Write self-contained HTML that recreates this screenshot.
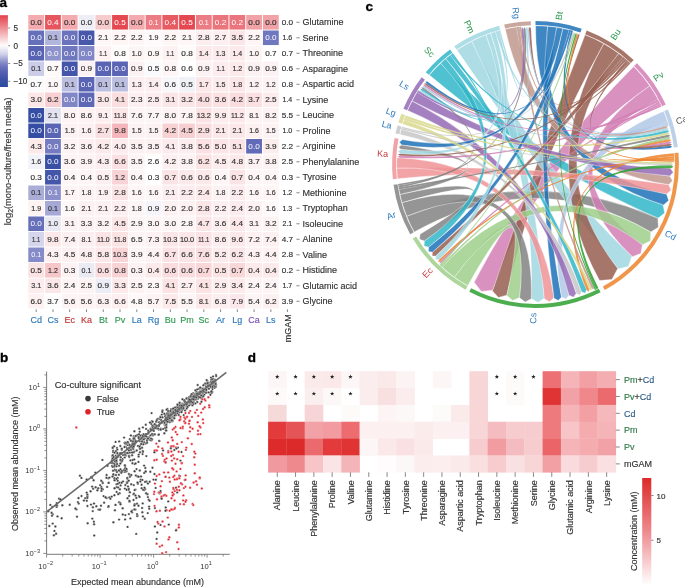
<!DOCTYPE html>
<html><head><meta charset="utf-8"><style>
html,body{margin:0;padding:0;background:#fff;width:685px;height:588px;overflow:hidden}
svg{display:block;will-change:transform}
text{font-family:"Liberation Sans", sans-serif}
</style></head><body>
<svg width="685" height="588" viewBox="0 0 685 588" font-family='"Liberation Sans", sans-serif'><text x="-0.50" y="7.20" font-size="13.5" fill="#000" font-weight="bold" stroke="#000" stroke-width="0.35">a</text>
<g>
<rect x="28.30" y="15.00" width="15.81" height="14.55" fill="#f3abaf"/>
<text x="36.20" y="24.77" font-size="7.3" fill="#333333" text-anchor="middle" stroke="#333333" stroke-width="0.16" textLength="11.40" lengthAdjust="spacingAndGlyphs">0.0</text>
<rect x="45.06" y="15.00" width="15.81" height="14.55" fill="#e6565f"/>
<text x="52.97" y="24.77" font-size="7.3" fill="#ffffff" text-anchor="middle" textLength="11.40" lengthAdjust="spacingAndGlyphs">0.4</text>
<rect x="61.82" y="15.00" width="15.81" height="14.55" fill="#f3abaf"/>
<text x="69.73" y="24.77" font-size="7.3" fill="#333333" text-anchor="middle" stroke="#333333" stroke-width="0.16" textLength="11.40" lengthAdjust="spacingAndGlyphs">0.0</text>
<rect x="78.58" y="15.00" width="15.81" height="14.55" fill="#eeeef7"/>
<text x="86.48" y="24.77" font-size="7.3" fill="#333333" text-anchor="middle" stroke="#333333" stroke-width="0.16" textLength="11.40" lengthAdjust="spacingAndGlyphs">0.0</text>
<rect x="95.34" y="15.00" width="15.81" height="14.55" fill="#f7cacc"/>
<text x="103.25" y="24.77" font-size="7.3" fill="#333333" text-anchor="middle" stroke="#333333" stroke-width="0.16" textLength="11.40" lengthAdjust="spacingAndGlyphs">0.0</text>
<rect x="112.10" y="15.00" width="15.81" height="14.55" fill="#e44952"/>
<text x="120.01" y="24.77" font-size="7.3" fill="#ffffff" text-anchor="middle" textLength="11.40" lengthAdjust="spacingAndGlyphs">0.5</text>
<rect x="128.86" y="15.00" width="15.81" height="14.55" fill="#f3abaf"/>
<text x="136.77" y="24.77" font-size="7.3" fill="#333333" text-anchor="middle" stroke="#333333" stroke-width="0.16" textLength="11.40" lengthAdjust="spacingAndGlyphs">0.0</text>
<rect x="145.62" y="15.00" width="15.81" height="14.55" fill="#ec7c83"/>
<text x="153.53" y="24.77" font-size="7.3" fill="#ffffff" text-anchor="middle" textLength="9.80" lengthAdjust="spacingAndGlyphs">0.1</text>
<rect x="162.38" y="15.00" width="15.81" height="14.55" fill="#e75b63"/>
<text x="170.29" y="24.77" font-size="7.3" fill="#ffffff" text-anchor="middle" textLength="11.40" lengthAdjust="spacingAndGlyphs">0.4</text>
<rect x="179.14" y="15.00" width="15.81" height="14.55" fill="#e44952"/>
<text x="187.05" y="24.77" font-size="7.3" fill="#ffffff" text-anchor="middle" textLength="11.40" lengthAdjust="spacingAndGlyphs">0.5</text>
<rect x="195.90" y="15.00" width="15.81" height="14.55" fill="#ec7c83"/>
<text x="203.81" y="24.77" font-size="7.3" fill="#ffffff" text-anchor="middle" textLength="9.80" lengthAdjust="spacingAndGlyphs">0.1</text>
<rect x="212.66" y="15.00" width="15.81" height="14.55" fill="#eb757d"/>
<text x="220.57" y="24.77" font-size="7.3" fill="#ffffff" text-anchor="middle" textLength="11.40" lengthAdjust="spacingAndGlyphs">0.2</text>
<rect x="229.42" y="15.00" width="15.81" height="14.55" fill="#eb757d"/>
<text x="237.33" y="24.77" font-size="7.3" fill="#ffffff" text-anchor="middle" textLength="11.40" lengthAdjust="spacingAndGlyphs">0.2</text>
<rect x="246.18" y="15.00" width="15.81" height="14.55" fill="#f1a2a7"/>
<text x="254.09" y="24.77" font-size="7.3" fill="#333333" text-anchor="middle" stroke="#333333" stroke-width="0.16" textLength="11.40" lengthAdjust="spacingAndGlyphs">0.0</text>
<rect x="262.94" y="15.00" width="15.81" height="14.55" fill="#f1a2a7"/>
<text x="270.85" y="24.77" font-size="7.3" fill="#333333" text-anchor="middle" stroke="#333333" stroke-width="0.16" textLength="11.40" lengthAdjust="spacingAndGlyphs">0.0</text>
<text x="287.40" y="24.77" font-size="7.3" fill="#333" text-anchor="middle" stroke="#333" stroke-width="0.16" textLength="11.40" lengthAdjust="spacingAndGlyphs">0.0</text>
<line x1="296.4" y1="22.27" x2="299.6" y2="22.27" stroke="#555" stroke-width="0.7"/>
<text x="302.60" y="25.47" font-size="9" fill="#333" stroke="#333" stroke-width="0.16">Glutamine</text>
<rect x="28.30" y="30.50" width="15.81" height="14.55" fill="#666fba"/>
<text x="36.20" y="40.27" font-size="7.3" fill="#ffffff" text-anchor="middle" textLength="11.40" lengthAdjust="spacingAndGlyphs">0.0</text>
<rect x="45.06" y="30.50" width="15.81" height="14.55" fill="#b3b6dc"/>
<text x="52.97" y="40.27" font-size="7.3" fill="#333333" text-anchor="middle" stroke="#333333" stroke-width="0.16" textLength="9.80" lengthAdjust="spacingAndGlyphs">0.1</text>
<rect x="61.82" y="30.50" width="15.81" height="14.55" fill="#6c73bd"/>
<text x="69.73" y="40.27" font-size="7.3" fill="#ffffff" text-anchor="middle" textLength="11.40" lengthAdjust="spacingAndGlyphs">0.0</text>
<rect x="78.58" y="30.50" width="15.81" height="14.55" fill="#4758ab"/>
<text x="86.48" y="40.27" font-size="7.3" fill="#ffffff" text-anchor="middle" textLength="11.40" lengthAdjust="spacingAndGlyphs">0.0</text>
<rect x="95.34" y="30.50" width="15.81" height="14.55" fill="#fef6f7"/>
<text x="103.25" y="40.27" font-size="7.3" fill="#333333" text-anchor="middle" stroke="#333333" stroke-width="0.16" textLength="9.80" lengthAdjust="spacingAndGlyphs">2.1</text>
<rect x="112.10" y="30.50" width="15.81" height="14.55" fill="#fef5f5"/>
<text x="120.01" y="40.27" font-size="7.3" fill="#333333" text-anchor="middle" stroke="#333333" stroke-width="0.16" textLength="11.40" lengthAdjust="spacingAndGlyphs">2.2</text>
<rect x="128.86" y="30.50" width="15.81" height="14.55" fill="#fef5f5"/>
<text x="136.77" y="40.27" font-size="7.3" fill="#333333" text-anchor="middle" stroke="#333333" stroke-width="0.16" textLength="11.40" lengthAdjust="spacingAndGlyphs">2.2</text>
<rect x="145.62" y="30.50" width="15.81" height="14.55" fill="#fef9fa"/>
<text x="153.53" y="40.27" font-size="7.3" fill="#333333" text-anchor="middle" stroke="#333333" stroke-width="0.16" textLength="9.80" lengthAdjust="spacingAndGlyphs">1.9</text>
<rect x="162.38" y="30.50" width="15.81" height="14.55" fill="#fef5f5"/>
<text x="170.29" y="40.27" font-size="7.3" fill="#333333" text-anchor="middle" stroke="#333333" stroke-width="0.16" textLength="11.40" lengthAdjust="spacingAndGlyphs">2.2</text>
<rect x="179.14" y="30.50" width="15.81" height="14.55" fill="#fef6f7"/>
<text x="187.05" y="40.27" font-size="7.3" fill="#333333" text-anchor="middle" stroke="#333333" stroke-width="0.16" textLength="9.80" lengthAdjust="spacingAndGlyphs">2.1</text>
<rect x="195.90" y="30.50" width="15.81" height="14.55" fill="#fcedee"/>
<text x="203.81" y="40.27" font-size="7.3" fill="#333333" text-anchor="middle" stroke="#333333" stroke-width="0.16" textLength="11.40" lengthAdjust="spacingAndGlyphs">2.8</text>
<rect x="212.66" y="30.50" width="15.81" height="14.55" fill="#fdeeef"/>
<text x="220.57" y="40.27" font-size="7.3" fill="#333333" text-anchor="middle" stroke="#333333" stroke-width="0.16" textLength="11.40" lengthAdjust="spacingAndGlyphs">2.7</text>
<rect x="229.42" y="30.50" width="15.81" height="14.55" fill="#fbe6e7"/>
<text x="237.33" y="40.27" font-size="7.3" fill="#333333" text-anchor="middle" stroke="#333333" stroke-width="0.16" textLength="11.40" lengthAdjust="spacingAndGlyphs">3.5</text>
<rect x="246.18" y="30.50" width="15.81" height="14.55" fill="#fef5f5"/>
<text x="254.09" y="40.27" font-size="7.3" fill="#333333" text-anchor="middle" stroke="#333333" stroke-width="0.16" textLength="11.40" lengthAdjust="spacingAndGlyphs">2.2</text>
<rect x="262.94" y="30.50" width="15.81" height="14.55" fill="#6f77bf"/>
<text x="270.85" y="40.27" font-size="7.3" fill="#ffffff" text-anchor="middle" textLength="11.40" lengthAdjust="spacingAndGlyphs">0.0</text>
<text x="287.40" y="40.27" font-size="7.3" fill="#333" text-anchor="middle" stroke="#333" stroke-width="0.16" textLength="9.80" lengthAdjust="spacingAndGlyphs">1.6</text>
<line x1="296.4" y1="37.77" x2="299.6" y2="37.77" stroke="#555" stroke-width="0.7"/>
<text x="302.60" y="40.98" font-size="9" fill="#333" stroke="#333" stroke-width="0.16">Serine</text>
<rect x="28.30" y="46.00" width="15.81" height="14.55" fill="#5762b3"/>
<text x="36.20" y="55.77" font-size="7.3" fill="#ffffff" text-anchor="middle" textLength="11.40" lengthAdjust="spacingAndGlyphs">0.0</text>
<rect x="45.06" y="46.00" width="15.81" height="14.55" fill="#8e93cb"/>
<text x="52.97" y="55.77" font-size="7.3" fill="#ffffff" text-anchor="middle" textLength="11.40" lengthAdjust="spacingAndGlyphs">0.0</text>
<rect x="61.82" y="46.00" width="15.81" height="14.55" fill="#6f77bf"/>
<text x="69.73" y="55.77" font-size="7.3" fill="#ffffff" text-anchor="middle" textLength="11.40" lengthAdjust="spacingAndGlyphs">0.0</text>
<rect x="78.58" y="46.00" width="15.81" height="14.55" fill="#8086c6"/>
<text x="86.48" y="55.77" font-size="7.3" fill="#ffffff" text-anchor="middle" textLength="11.40" lengthAdjust="spacingAndGlyphs">0.0</text>
<rect x="95.34" y="46.00" width="15.81" height="14.55" fill="#fdf1f1"/>
<text x="103.25" y="55.77" font-size="7.3" fill="#333333" text-anchor="middle" stroke="#333333" stroke-width="0.16" textLength="8.20" lengthAdjust="spacingAndGlyphs">1.1</text>
<rect x="112.10" y="46.00" width="15.81" height="14.55" fill="#fefbfb"/>
<text x="120.01" y="55.77" font-size="7.3" fill="#333333" text-anchor="middle" stroke="#333333" stroke-width="0.16" textLength="11.40" lengthAdjust="spacingAndGlyphs">0.8</text>
<rect x="128.86" y="46.00" width="15.81" height="14.55" fill="#fdf4f4"/>
<text x="136.77" y="55.77" font-size="7.3" fill="#333333" text-anchor="middle" stroke="#333333" stroke-width="0.16" textLength="9.80" lengthAdjust="spacingAndGlyphs">1.0</text>
<rect x="145.62" y="46.00" width="15.81" height="14.55" fill="#fef7f7"/>
<text x="153.53" y="55.77" font-size="7.3" fill="#333333" text-anchor="middle" stroke="#333333" stroke-width="0.16" textLength="11.40" lengthAdjust="spacingAndGlyphs">0.9</text>
<rect x="162.38" y="46.00" width="15.81" height="14.55" fill="#fdf1f1"/>
<text x="170.29" y="55.77" font-size="7.3" fill="#333333" text-anchor="middle" stroke="#333333" stroke-width="0.16" textLength="8.20" lengthAdjust="spacingAndGlyphs">1.1</text>
<rect x="179.14" y="46.00" width="15.81" height="14.55" fill="#fefbfb"/>
<text x="187.05" y="55.77" font-size="7.3" fill="#333333" text-anchor="middle" stroke="#333333" stroke-width="0.16" textLength="11.40" lengthAdjust="spacingAndGlyphs">0.8</text>
<rect x="195.90" y="46.00" width="15.81" height="14.55" fill="#fce9ea"/>
<text x="203.81" y="55.77" font-size="7.3" fill="#333333" text-anchor="middle" stroke="#333333" stroke-width="0.16" textLength="9.80" lengthAdjust="spacingAndGlyphs">1.4</text>
<rect x="212.66" y="46.00" width="15.81" height="14.55" fill="#fcebec"/>
<text x="220.57" y="55.77" font-size="7.3" fill="#333333" text-anchor="middle" stroke="#333333" stroke-width="0.16" textLength="9.80" lengthAdjust="spacingAndGlyphs">1.3</text>
<rect x="229.42" y="46.00" width="15.81" height="14.55" fill="#fce9ea"/>
<text x="237.33" y="55.77" font-size="7.3" fill="#333333" text-anchor="middle" stroke="#333333" stroke-width="0.16" textLength="9.80" lengthAdjust="spacingAndGlyphs">1.4</text>
<rect x="246.18" y="46.00" width="15.81" height="14.55" fill="#fdf4f4"/>
<text x="254.09" y="55.77" font-size="7.3" fill="#333333" text-anchor="middle" stroke="#333333" stroke-width="0.16" textLength="9.80" lengthAdjust="spacingAndGlyphs">1.0</text>
<rect x="262.94" y="46.00" width="15.81" height="14.55" fill="#ffffff"/>
<text x="270.85" y="55.77" font-size="7.3" fill="#333333" text-anchor="middle" stroke="#333333" stroke-width="0.16" textLength="11.40" lengthAdjust="spacingAndGlyphs">0.7</text>
<text x="287.40" y="55.77" font-size="7.3" fill="#333" text-anchor="middle" stroke="#333" stroke-width="0.16" textLength="11.40" lengthAdjust="spacingAndGlyphs">0.7</text>
<line x1="296.4" y1="53.27" x2="299.6" y2="53.27" stroke="#555" stroke-width="0.7"/>
<text x="302.60" y="56.48" font-size="9" fill="#333" stroke="#333" stroke-width="0.16">Threonine</text>
<rect x="28.30" y="61.50" width="15.81" height="14.55" fill="#cbcce7"/>
<text x="36.20" y="71.28" font-size="7.3" fill="#333333" text-anchor="middle" stroke="#333333" stroke-width="0.16" textLength="9.80" lengthAdjust="spacingAndGlyphs">0.1</text>
<rect x="45.06" y="61.50" width="15.81" height="14.55" fill="#fefafa"/>
<text x="52.97" y="71.28" font-size="7.3" fill="#333333" text-anchor="middle" stroke="#333333" stroke-width="0.16" textLength="11.40" lengthAdjust="spacingAndGlyphs">0.7</text>
<rect x="61.82" y="61.50" width="15.81" height="14.55" fill="#4456a9"/>
<text x="69.73" y="71.28" font-size="7.3" fill="#ffffff" text-anchor="middle" textLength="11.40" lengthAdjust="spacingAndGlyphs">0.0</text>
<rect x="78.58" y="61.50" width="15.81" height="14.55" fill="#fdf2f3"/>
<text x="86.48" y="71.28" font-size="7.3" fill="#333333" text-anchor="middle" stroke="#333333" stroke-width="0.16" textLength="11.40" lengthAdjust="spacingAndGlyphs">0.9</text>
<rect x="95.34" y="61.50" width="15.81" height="14.55" fill="#5a64b4"/>
<text x="103.25" y="71.28" font-size="7.3" fill="#ffffff" text-anchor="middle" textLength="11.40" lengthAdjust="spacingAndGlyphs">0.0</text>
<rect x="112.10" y="61.50" width="15.81" height="14.55" fill="#5a64b4"/>
<text x="120.01" y="71.28" font-size="7.3" fill="#ffffff" text-anchor="middle" textLength="11.40" lengthAdjust="spacingAndGlyphs">0.0</text>
<rect x="128.86" y="61.50" width="15.81" height="14.55" fill="#fdf2f3"/>
<text x="136.77" y="71.28" font-size="7.3" fill="#333333" text-anchor="middle" stroke="#333333" stroke-width="0.16" textLength="11.40" lengthAdjust="spacingAndGlyphs">0.9</text>
<rect x="145.62" y="61.50" width="15.81" height="14.55" fill="#fafafc"/>
<text x="153.53" y="71.28" font-size="7.3" fill="#333333" text-anchor="middle" stroke="#333333" stroke-width="0.16" textLength="11.40" lengthAdjust="spacingAndGlyphs">0.5</text>
<rect x="162.38" y="61.50" width="15.81" height="14.55" fill="#fef6f6"/>
<text x="170.29" y="71.28" font-size="7.3" fill="#333333" text-anchor="middle" stroke="#333333" stroke-width="0.16" textLength="11.40" lengthAdjust="spacingAndGlyphs">0.8</text>
<rect x="179.14" y="61.50" width="15.81" height="14.55" fill="#ffffff"/>
<text x="187.05" y="71.28" font-size="7.3" fill="#333333" text-anchor="middle" stroke="#333333" stroke-width="0.16" textLength="11.40" lengthAdjust="spacingAndGlyphs">0.6</text>
<rect x="195.90" y="61.50" width="15.81" height="14.55" fill="#fdf2f3"/>
<text x="203.81" y="71.28" font-size="7.3" fill="#333333" text-anchor="middle" stroke="#333333" stroke-width="0.16" textLength="11.40" lengthAdjust="spacingAndGlyphs">0.9</text>
<rect x="212.66" y="61.50" width="15.81" height="14.55" fill="#fceced"/>
<text x="220.57" y="71.28" font-size="7.3" fill="#333333" text-anchor="middle" stroke="#333333" stroke-width="0.16" textLength="8.20" lengthAdjust="spacingAndGlyphs">1.1</text>
<rect x="229.42" y="61.50" width="15.81" height="14.55" fill="#fce9ea"/>
<text x="237.33" y="71.28" font-size="7.3" fill="#333333" text-anchor="middle" stroke="#333333" stroke-width="0.16" textLength="9.80" lengthAdjust="spacingAndGlyphs">1.2</text>
<rect x="246.18" y="61.50" width="15.81" height="14.55" fill="#fdf2f3"/>
<text x="254.09" y="71.28" font-size="7.3" fill="#333333" text-anchor="middle" stroke="#333333" stroke-width="0.16" textLength="11.40" lengthAdjust="spacingAndGlyphs">0.9</text>
<rect x="262.94" y="61.50" width="15.81" height="14.55" fill="#fdf2f3"/>
<text x="270.85" y="71.28" font-size="7.3" fill="#333333" text-anchor="middle" stroke="#333333" stroke-width="0.16" textLength="11.40" lengthAdjust="spacingAndGlyphs">0.9</text>
<text x="287.40" y="71.28" font-size="7.3" fill="#333" text-anchor="middle" stroke="#333" stroke-width="0.16" textLength="11.40" lengthAdjust="spacingAndGlyphs">0.6</text>
<line x1="296.4" y1="68.78" x2="299.6" y2="68.78" stroke="#555" stroke-width="0.7"/>
<text x="302.60" y="71.98" font-size="9" fill="#333" stroke="#333" stroke-width="0.16">Asparagine</text>
<rect x="28.30" y="77.00" width="15.81" height="14.55" fill="#fbfbfd"/>
<text x="36.20" y="86.78" font-size="7.3" fill="#333333" text-anchor="middle" stroke="#333333" stroke-width="0.16" textLength="11.40" lengthAdjust="spacingAndGlyphs">0.7</text>
<rect x="45.06" y="77.00" width="15.81" height="14.55" fill="#fef8f8"/>
<text x="52.97" y="86.78" font-size="7.3" fill="#333333" text-anchor="middle" stroke="#333333" stroke-width="0.16" textLength="9.80" lengthAdjust="spacingAndGlyphs">1.0</text>
<rect x="61.82" y="77.00" width="15.81" height="14.55" fill="#bdbfe1"/>
<text x="69.73" y="86.78" font-size="7.3" fill="#333333" text-anchor="middle" stroke="#333333" stroke-width="0.16" textLength="9.80" lengthAdjust="spacingAndGlyphs">0.1</text>
<rect x="78.58" y="77.00" width="15.81" height="14.55" fill="#5a64b4"/>
<text x="86.48" y="86.78" font-size="7.3" fill="#ffffff" text-anchor="middle" textLength="11.40" lengthAdjust="spacingAndGlyphs">0.0</text>
<rect x="95.34" y="77.00" width="15.81" height="14.55" fill="#bdbfe1"/>
<text x="103.25" y="86.78" font-size="7.3" fill="#333333" text-anchor="middle" stroke="#333333" stroke-width="0.16" textLength="9.80" lengthAdjust="spacingAndGlyphs">0.1</text>
<rect x="112.10" y="77.00" width="15.81" height="14.55" fill="#bdbfe1"/>
<text x="120.01" y="86.78" font-size="7.3" fill="#333333" text-anchor="middle" stroke="#333333" stroke-width="0.16" textLength="9.80" lengthAdjust="spacingAndGlyphs">0.1</text>
<rect x="128.86" y="77.00" width="15.81" height="14.55" fill="#fdeff0"/>
<text x="136.77" y="86.78" font-size="7.3" fill="#333333" text-anchor="middle" stroke="#333333" stroke-width="0.16" textLength="9.80" lengthAdjust="spacingAndGlyphs">1.3</text>
<rect x="145.62" y="77.00" width="15.81" height="14.55" fill="#fcedee"/>
<text x="153.53" y="86.78" font-size="7.3" fill="#333333" text-anchor="middle" stroke="#333333" stroke-width="0.16" textLength="9.80" lengthAdjust="spacingAndGlyphs">1.4</text>
<rect x="162.38" y="77.00" width="15.81" height="14.55" fill="#f6f6fb"/>
<text x="170.29" y="86.78" font-size="7.3" fill="#333333" text-anchor="middle" stroke="#333333" stroke-width="0.16" textLength="11.40" lengthAdjust="spacingAndGlyphs">0.6</text>
<rect x="179.14" y="77.00" width="15.81" height="14.55" fill="#f1f1f8"/>
<text x="187.05" y="86.78" font-size="7.3" fill="#333333" text-anchor="middle" stroke="#333333" stroke-width="0.16" textLength="11.40" lengthAdjust="spacingAndGlyphs">0.5</text>
<rect x="195.90" y="77.00" width="15.81" height="14.55" fill="#fbe7e8"/>
<text x="203.81" y="86.78" font-size="7.3" fill="#333333" text-anchor="middle" stroke="#333333" stroke-width="0.16" textLength="9.80" lengthAdjust="spacingAndGlyphs">1.7</text>
<rect x="212.66" y="77.00" width="15.81" height="14.55" fill="#fcebec"/>
<text x="220.57" y="86.78" font-size="7.3" fill="#333333" text-anchor="middle" stroke="#333333" stroke-width="0.16" textLength="9.80" lengthAdjust="spacingAndGlyphs">1.5</text>
<rect x="229.42" y="77.00" width="15.81" height="14.55" fill="#fbe5e6"/>
<text x="237.33" y="86.78" font-size="7.3" fill="#333333" text-anchor="middle" stroke="#333333" stroke-width="0.16" textLength="9.80" lengthAdjust="spacingAndGlyphs">1.8</text>
<rect x="246.18" y="77.00" width="15.81" height="14.55" fill="#fdf2f3"/>
<text x="254.09" y="86.78" font-size="7.3" fill="#333333" text-anchor="middle" stroke="#333333" stroke-width="0.16" textLength="9.80" lengthAdjust="spacingAndGlyphs">1.2</text>
<rect x="262.94" y="77.00" width="15.81" height="14.55" fill="#fdf2f3"/>
<text x="270.85" y="86.78" font-size="7.3" fill="#333333" text-anchor="middle" stroke="#333333" stroke-width="0.16" textLength="9.80" lengthAdjust="spacingAndGlyphs">1.2</text>
<text x="287.40" y="86.78" font-size="7.3" fill="#333" text-anchor="middle" stroke="#333" stroke-width="0.16" textLength="11.40" lengthAdjust="spacingAndGlyphs">0.8</text>
<line x1="296.4" y1="84.28" x2="299.6" y2="84.28" stroke="#555" stroke-width="0.7"/>
<text x="302.60" y="87.48" font-size="9" fill="#333" stroke="#333" stroke-width="0.16">Aspartic acid</text>
<rect x="28.30" y="92.50" width="15.81" height="14.55" fill="#fbe7e8"/>
<text x="36.20" y="102.28" font-size="7.3" fill="#333333" text-anchor="middle" stroke="#333333" stroke-width="0.16" textLength="11.40" lengthAdjust="spacingAndGlyphs">3.0</text>
<rect x="45.06" y="92.50" width="15.81" height="14.55" fill="#f8cfd2"/>
<text x="52.97" y="102.28" font-size="7.3" fill="#333333" text-anchor="middle" stroke="#333333" stroke-width="0.16" textLength="11.40" lengthAdjust="spacingAndGlyphs">6.2</text>
<rect x="61.82" y="92.50" width="15.81" height="14.55" fill="#8086c6"/>
<text x="69.73" y="102.28" font-size="7.3" fill="#ffffff" text-anchor="middle" textLength="11.40" lengthAdjust="spacingAndGlyphs">0.0</text>
<rect x="78.58" y="92.50" width="15.81" height="14.55" fill="#5d67b5"/>
<text x="86.48" y="102.28" font-size="7.3" fill="#ffffff" text-anchor="middle" textLength="11.40" lengthAdjust="spacingAndGlyphs">0.0</text>
<rect x="95.34" y="92.50" width="15.81" height="14.55" fill="#fbe7e8"/>
<text x="103.25" y="102.28" font-size="7.3" fill="#333333" text-anchor="middle" stroke="#333333" stroke-width="0.16" textLength="11.40" lengthAdjust="spacingAndGlyphs">3.0</text>
<rect x="112.10" y="92.50" width="15.81" height="14.55" fill="#faddde"/>
<text x="120.01" y="102.28" font-size="7.3" fill="#333333" text-anchor="middle" stroke="#333333" stroke-width="0.16" textLength="9.80" lengthAdjust="spacingAndGlyphs">4.1</text>
<rect x="128.86" y="92.50" width="15.81" height="14.55" fill="#fdeff0"/>
<text x="136.77" y="102.28" font-size="7.3" fill="#333333" text-anchor="middle" stroke="#333333" stroke-width="0.16" textLength="11.40" lengthAdjust="spacingAndGlyphs">2.3</text>
<rect x="145.62" y="92.50" width="15.81" height="14.55" fill="#fceced"/>
<text x="153.53" y="102.28" font-size="7.3" fill="#333333" text-anchor="middle" stroke="#333333" stroke-width="0.16" textLength="11.40" lengthAdjust="spacingAndGlyphs">2.5</text>
<rect x="162.38" y="92.50" width="15.81" height="14.55" fill="#fbe6e7"/>
<text x="170.29" y="102.28" font-size="7.3" fill="#333333" text-anchor="middle" stroke="#333333" stroke-width="0.16" textLength="9.80" lengthAdjust="spacingAndGlyphs">3.1</text>
<rect x="179.14" y="92.50" width="15.81" height="14.55" fill="#fbe5e6"/>
<text x="187.05" y="102.28" font-size="7.3" fill="#333333" text-anchor="middle" stroke="#333333" stroke-width="0.16" textLength="11.40" lengthAdjust="spacingAndGlyphs">3.2</text>
<rect x="195.90" y="92.50" width="15.81" height="14.55" fill="#fadddf"/>
<text x="203.81" y="102.28" font-size="7.3" fill="#333333" text-anchor="middle" stroke="#333333" stroke-width="0.16" textLength="11.40" lengthAdjust="spacingAndGlyphs">4.0</text>
<rect x="212.66" y="92.50" width="15.81" height="14.55" fill="#fbe1e2"/>
<text x="220.57" y="102.28" font-size="7.3" fill="#333333" text-anchor="middle" stroke="#333333" stroke-width="0.16" textLength="11.40" lengthAdjust="spacingAndGlyphs">3.6</text>
<rect x="229.42" y="92.50" width="15.81" height="14.55" fill="#fadcde"/>
<text x="237.33" y="102.28" font-size="7.3" fill="#333333" text-anchor="middle" stroke="#333333" stroke-width="0.16" textLength="11.40" lengthAdjust="spacingAndGlyphs">4.2</text>
<rect x="246.18" y="92.50" width="15.81" height="14.55" fill="#fae0e1"/>
<text x="254.09" y="102.28" font-size="7.3" fill="#333333" text-anchor="middle" stroke="#333333" stroke-width="0.16" textLength="11.40" lengthAdjust="spacingAndGlyphs">3.7</text>
<rect x="262.94" y="92.50" width="15.81" height="14.55" fill="#fceced"/>
<text x="270.85" y="102.28" font-size="7.3" fill="#333333" text-anchor="middle" stroke="#333333" stroke-width="0.16" textLength="11.40" lengthAdjust="spacingAndGlyphs">2.5</text>
<text x="287.40" y="102.28" font-size="7.3" fill="#333" text-anchor="middle" stroke="#333" stroke-width="0.16" textLength="9.80" lengthAdjust="spacingAndGlyphs">1.4</text>
<line x1="296.4" y1="99.78" x2="299.6" y2="99.78" stroke="#555" stroke-width="0.7"/>
<text x="302.60" y="102.98" font-size="9" fill="#333" stroke="#333" stroke-width="0.16">Lysine</text>
<rect x="28.30" y="108.00" width="15.81" height="14.55" fill="#354ea3"/>
<text x="36.20" y="117.78" font-size="7.3" fill="#ffffff" text-anchor="middle" textLength="11.40" lengthAdjust="spacingAndGlyphs">0.0</text>
<rect x="45.06" y="108.00" width="15.81" height="14.55" fill="#e2e2f1"/>
<text x="52.97" y="117.78" font-size="7.3" fill="#333333" text-anchor="middle" stroke="#333333" stroke-width="0.16" textLength="9.80" lengthAdjust="spacingAndGlyphs">2.1</text>
<rect x="61.82" y="108.00" width="15.81" height="14.55" fill="#fdf3f4"/>
<text x="69.73" y="117.78" font-size="7.3" fill="#333333" text-anchor="middle" stroke="#333333" stroke-width="0.16" textLength="11.40" lengthAdjust="spacingAndGlyphs">8.0</text>
<rect x="78.58" y="108.00" width="15.81" height="14.55" fill="#fdf1f1"/>
<text x="86.48" y="117.78" font-size="7.3" fill="#333333" text-anchor="middle" stroke="#333333" stroke-width="0.16" textLength="11.40" lengthAdjust="spacingAndGlyphs">8.6</text>
<rect x="95.34" y="108.00" width="15.81" height="14.55" fill="#fdeff0"/>
<text x="103.25" y="117.78" font-size="7.3" fill="#333333" text-anchor="middle" stroke="#333333" stroke-width="0.16" textLength="9.80" lengthAdjust="spacingAndGlyphs">9.1</text>
<rect x="112.10" y="108.00" width="15.81" height="14.55" fill="#fbe7e8"/>
<text x="120.01" y="117.78" font-size="7.3" fill="#333333" text-anchor="middle" stroke="#333333" stroke-width="0.16" textLength="12.70" lengthAdjust="spacingAndGlyphs">11.8</text>
<rect x="128.86" y="108.00" width="15.81" height="14.55" fill="#fdf5f5"/>
<text x="136.77" y="117.78" font-size="7.3" fill="#333333" text-anchor="middle" stroke="#333333" stroke-width="0.16" textLength="11.40" lengthAdjust="spacingAndGlyphs">7.6</text>
<rect x="145.62" y="108.00" width="15.81" height="14.55" fill="#fdf4f5"/>
<text x="153.53" y="117.78" font-size="7.3" fill="#333333" text-anchor="middle" stroke="#333333" stroke-width="0.16" textLength="11.40" lengthAdjust="spacingAndGlyphs">7.7</text>
<rect x="162.38" y="108.00" width="15.81" height="14.55" fill="#fdf3f4"/>
<text x="170.29" y="117.78" font-size="7.3" fill="#333333" text-anchor="middle" stroke="#333333" stroke-width="0.16" textLength="11.40" lengthAdjust="spacingAndGlyphs">8.0</text>
<rect x="179.14" y="108.00" width="15.81" height="14.55" fill="#fdf4f4"/>
<text x="187.05" y="117.78" font-size="7.3" fill="#333333" text-anchor="middle" stroke="#333333" stroke-width="0.16" textLength="11.40" lengthAdjust="spacingAndGlyphs">7.8</text>
<rect x="195.90" y="108.00" width="15.81" height="14.55" fill="#fbe3e4"/>
<text x="203.81" y="117.78" font-size="7.3" fill="#333333" text-anchor="middle" stroke="#333333" stroke-width="0.16" textLength="14.30" lengthAdjust="spacingAndGlyphs">13.2</text>
<rect x="212.66" y="108.00" width="15.81" height="14.55" fill="#fceced"/>
<text x="220.57" y="117.78" font-size="7.3" fill="#333333" text-anchor="middle" stroke="#333333" stroke-width="0.16" textLength="11.40" lengthAdjust="spacingAndGlyphs">9.9</text>
<rect x="229.42" y="108.00" width="15.81" height="14.55" fill="#fce8e9"/>
<text x="237.33" y="117.78" font-size="7.3" fill="#333333" text-anchor="middle" stroke="#333333" stroke-width="0.16" textLength="12.70" lengthAdjust="spacingAndGlyphs">11.2</text>
<rect x="246.18" y="108.00" width="15.81" height="14.55" fill="#fdf3f3"/>
<text x="254.09" y="117.78" font-size="7.3" fill="#333333" text-anchor="middle" stroke="#333333" stroke-width="0.16" textLength="9.80" lengthAdjust="spacingAndGlyphs">8.1</text>
<rect x="262.94" y="108.00" width="15.81" height="14.55" fill="#fdf2f3"/>
<text x="270.85" y="117.78" font-size="7.3" fill="#333333" text-anchor="middle" stroke="#333333" stroke-width="0.16" textLength="11.40" lengthAdjust="spacingAndGlyphs">8.2</text>
<text x="287.40" y="117.78" font-size="7.3" fill="#333" text-anchor="middle" stroke="#333" stroke-width="0.16" textLength="11.40" lengthAdjust="spacingAndGlyphs">5.5</text>
<line x1="296.4" y1="115.28" x2="299.6" y2="115.28" stroke="#555" stroke-width="0.7"/>
<text x="302.60" y="118.48" font-size="9" fill="#333" stroke="#333" stroke-width="0.16">Leucine</text>
<rect x="28.30" y="123.50" width="15.81" height="14.55" fill="#354ea3"/>
<text x="36.20" y="133.28" font-size="7.3" fill="#ffffff" text-anchor="middle" textLength="11.40" lengthAdjust="spacingAndGlyphs">0.0</text>
<rect x="45.06" y="123.50" width="15.81" height="14.55" fill="#5a64b4"/>
<text x="52.97" y="133.28" font-size="7.3" fill="#ffffff" text-anchor="middle" textLength="11.40" lengthAdjust="spacingAndGlyphs">0.0</text>
<rect x="61.82" y="123.50" width="15.81" height="14.55" fill="#fdf2f3"/>
<text x="69.73" y="133.28" font-size="7.3" fill="#333333" text-anchor="middle" stroke="#333333" stroke-width="0.16" textLength="9.80" lengthAdjust="spacingAndGlyphs">1.5</text>
<rect x="78.58" y="123.50" width="15.81" height="14.55" fill="#fdf0f1"/>
<text x="86.48" y="133.28" font-size="7.3" fill="#333333" text-anchor="middle" stroke="#333333" stroke-width="0.16" textLength="9.80" lengthAdjust="spacingAndGlyphs">1.6</text>
<rect x="95.34" y="123.50" width="15.81" height="14.55" fill="#fadfe1"/>
<text x="103.25" y="133.28" font-size="7.3" fill="#333333" text-anchor="middle" stroke="#333333" stroke-width="0.16" textLength="11.40" lengthAdjust="spacingAndGlyphs">2.7</text>
<rect x="112.10" y="123.50" width="15.81" height="14.55" fill="#f4b6ba"/>
<text x="120.01" y="133.28" font-size="7.3" fill="#333333" text-anchor="middle" stroke="#333333" stroke-width="0.16" textLength="11.40" lengthAdjust="spacingAndGlyphs">9.8</text>
<rect x="128.86" y="123.50" width="15.81" height="14.55" fill="#fdf2f3"/>
<text x="136.77" y="133.28" font-size="7.3" fill="#333333" text-anchor="middle" stroke="#333333" stroke-width="0.16" textLength="9.80" lengthAdjust="spacingAndGlyphs">1.5</text>
<rect x="145.62" y="123.50" width="15.81" height="14.55" fill="#fdf2f3"/>
<text x="153.53" y="133.28" font-size="7.3" fill="#333333" text-anchor="middle" stroke="#333333" stroke-width="0.16" textLength="9.80" lengthAdjust="spacingAndGlyphs">1.5</text>
<rect x="162.38" y="123.50" width="15.81" height="14.55" fill="#f8d1d3"/>
<text x="170.29" y="133.28" font-size="7.3" fill="#333333" text-anchor="middle" stroke="#333333" stroke-width="0.16" textLength="11.40" lengthAdjust="spacingAndGlyphs">4.2</text>
<rect x="179.14" y="123.50" width="15.81" height="14.55" fill="#f8cfd1"/>
<text x="187.05" y="133.28" font-size="7.3" fill="#333333" text-anchor="middle" stroke="#333333" stroke-width="0.16" textLength="11.40" lengthAdjust="spacingAndGlyphs">4.5</text>
<rect x="195.90" y="123.50" width="15.81" height="14.55" fill="#fadddf"/>
<text x="203.81" y="133.28" font-size="7.3" fill="#333333" text-anchor="middle" stroke="#333333" stroke-width="0.16" textLength="11.40" lengthAdjust="spacingAndGlyphs">2.9</text>
<rect x="212.66" y="123.50" width="15.81" height="14.55" fill="#fce7e8"/>
<text x="220.57" y="133.28" font-size="7.3" fill="#333333" text-anchor="middle" stroke="#333333" stroke-width="0.16" textLength="9.80" lengthAdjust="spacingAndGlyphs">2.1</text>
<rect x="229.42" y="123.50" width="15.81" height="14.55" fill="#fce7e8"/>
<text x="237.33" y="133.28" font-size="7.3" fill="#333333" text-anchor="middle" stroke="#333333" stroke-width="0.16" textLength="9.80" lengthAdjust="spacingAndGlyphs">2.1</text>
<rect x="246.18" y="123.50" width="15.81" height="14.55" fill="#fdf0f1"/>
<text x="254.09" y="133.28" font-size="7.3" fill="#333333" text-anchor="middle" stroke="#333333" stroke-width="0.16" textLength="9.80" lengthAdjust="spacingAndGlyphs">1.6</text>
<rect x="262.94" y="123.50" width="15.81" height="14.55" fill="#fdf2f3"/>
<text x="270.85" y="133.28" font-size="7.3" fill="#333333" text-anchor="middle" stroke="#333333" stroke-width="0.16" textLength="9.80" lengthAdjust="spacingAndGlyphs">1.5</text>
<text x="287.40" y="133.28" font-size="7.3" fill="#333" text-anchor="middle" stroke="#333" stroke-width="0.16" textLength="9.80" lengthAdjust="spacingAndGlyphs">1.0</text>
<line x1="296.4" y1="130.78" x2="299.6" y2="130.78" stroke="#555" stroke-width="0.7"/>
<text x="302.60" y="133.97" font-size="9" fill="#333" stroke="#333" stroke-width="0.16">Proline</text>
<rect x="28.30" y="139.00" width="15.81" height="14.55" fill="#fceaeb"/>
<text x="36.20" y="148.78" font-size="7.3" fill="#333333" text-anchor="middle" stroke="#333333" stroke-width="0.16" textLength="11.40" lengthAdjust="spacingAndGlyphs">4.3</text>
<rect x="45.06" y="139.00" width="15.81" height="14.55" fill="#757bc1"/>
<text x="52.97" y="148.78" font-size="7.3" fill="#ffffff" text-anchor="middle" textLength="11.40" lengthAdjust="spacingAndGlyphs">0.0</text>
<rect x="61.82" y="139.00" width="15.81" height="14.55" fill="#fdf3f4"/>
<text x="69.73" y="148.78" font-size="7.3" fill="#333333" text-anchor="middle" stroke="#333333" stroke-width="0.16" textLength="11.40" lengthAdjust="spacingAndGlyphs">3.2</text>
<rect x="78.58" y="139.00" width="15.81" height="14.55" fill="#fdeff0"/>
<text x="86.48" y="148.78" font-size="7.3" fill="#333333" text-anchor="middle" stroke="#333333" stroke-width="0.16" textLength="11.40" lengthAdjust="spacingAndGlyphs">3.6</text>
<rect x="95.34" y="139.00" width="15.81" height="14.55" fill="#fceaeb"/>
<text x="103.25" y="148.78" font-size="7.3" fill="#333333" text-anchor="middle" stroke="#333333" stroke-width="0.16" textLength="11.40" lengthAdjust="spacingAndGlyphs">4.2</text>
<rect x="112.10" y="139.00" width="15.81" height="14.55" fill="#fceced"/>
<text x="120.01" y="148.78" font-size="7.3" fill="#333333" text-anchor="middle" stroke="#333333" stroke-width="0.16" textLength="11.40" lengthAdjust="spacingAndGlyphs">4.0</text>
<rect x="128.86" y="139.00" width="15.81" height="14.55" fill="#fdf0f1"/>
<text x="136.77" y="148.78" font-size="7.3" fill="#333333" text-anchor="middle" stroke="#333333" stroke-width="0.16" textLength="11.40" lengthAdjust="spacingAndGlyphs">3.5</text>
<rect x="145.62" y="139.00" width="15.81" height="14.55" fill="#fdf0f1"/>
<text x="153.53" y="148.78" font-size="7.3" fill="#333333" text-anchor="middle" stroke="#333333" stroke-width="0.16" textLength="11.40" lengthAdjust="spacingAndGlyphs">3.5</text>
<rect x="162.38" y="139.00" width="15.81" height="14.55" fill="#fcebec"/>
<text x="170.29" y="148.78" font-size="7.3" fill="#333333" text-anchor="middle" stroke="#333333" stroke-width="0.16" textLength="9.80" lengthAdjust="spacingAndGlyphs">4.1</text>
<rect x="179.14" y="139.00" width="15.81" height="14.55" fill="#fcedee"/>
<text x="187.05" y="148.78" font-size="7.3" fill="#333333" text-anchor="middle" stroke="#333333" stroke-width="0.16" textLength="11.40" lengthAdjust="spacingAndGlyphs">3.8</text>
<rect x="195.90" y="139.00" width="15.81" height="14.55" fill="#fbe1e3"/>
<text x="203.81" y="148.78" font-size="7.3" fill="#333333" text-anchor="middle" stroke="#333333" stroke-width="0.16" textLength="11.40" lengthAdjust="spacingAndGlyphs">5.6</text>
<rect x="212.66" y="139.00" width="15.81" height="14.55" fill="#fbe5e6"/>
<text x="220.57" y="148.78" font-size="7.3" fill="#333333" text-anchor="middle" stroke="#333333" stroke-width="0.16" textLength="11.40" lengthAdjust="spacingAndGlyphs">5.0</text>
<rect x="229.42" y="139.00" width="15.81" height="14.55" fill="#fbe4e5"/>
<text x="237.33" y="148.78" font-size="7.3" fill="#333333" text-anchor="middle" stroke="#333333" stroke-width="0.16" textLength="9.80" lengthAdjust="spacingAndGlyphs">5.1</text>
<rect x="246.18" y="139.00" width="15.81" height="14.55" fill="#626bb8"/>
<text x="254.09" y="148.78" font-size="7.3" fill="#ffffff" text-anchor="middle" textLength="11.40" lengthAdjust="spacingAndGlyphs">0.0</text>
<rect x="262.94" y="139.00" width="15.81" height="14.55" fill="#fcedee"/>
<text x="270.85" y="148.78" font-size="7.3" fill="#333333" text-anchor="middle" stroke="#333333" stroke-width="0.16" textLength="11.40" lengthAdjust="spacingAndGlyphs">3.9</text>
<text x="287.40" y="148.78" font-size="7.3" fill="#333" text-anchor="middle" stroke="#333" stroke-width="0.16" textLength="11.40" lengthAdjust="spacingAndGlyphs">2.2</text>
<line x1="296.4" y1="146.28" x2="299.6" y2="146.28" stroke="#555" stroke-width="0.7"/>
<text x="302.60" y="149.47" font-size="9" fill="#333" stroke="#333" stroke-width="0.16">Arginine</text>
<rect x="28.30" y="154.50" width="15.81" height="14.55" fill="#f2f2f9"/>
<text x="36.20" y="164.28" font-size="7.3" fill="#333333" text-anchor="middle" stroke="#333333" stroke-width="0.16" textLength="9.80" lengthAdjust="spacingAndGlyphs">1.6</text>
<rect x="45.06" y="154.50" width="15.81" height="14.55" fill="#3a50a4"/>
<text x="52.97" y="164.28" font-size="7.3" fill="#ffffff" text-anchor="middle" textLength="11.40" lengthAdjust="spacingAndGlyphs">0.0</text>
<rect x="61.82" y="154.50" width="15.81" height="14.55" fill="#fdf3f4"/>
<text x="69.73" y="164.28" font-size="7.3" fill="#333333" text-anchor="middle" stroke="#333333" stroke-width="0.16" textLength="11.40" lengthAdjust="spacingAndGlyphs">3.6</text>
<rect x="78.58" y="154.50" width="15.81" height="14.55" fill="#fdf1f1"/>
<text x="86.48" y="164.28" font-size="7.3" fill="#333333" text-anchor="middle" stroke="#333333" stroke-width="0.16" textLength="11.40" lengthAdjust="spacingAndGlyphs">3.9</text>
<rect x="95.34" y="154.50" width="15.81" height="14.55" fill="#fceeef"/>
<text x="103.25" y="164.28" font-size="7.3" fill="#333333" text-anchor="middle" stroke="#333333" stroke-width="0.16" textLength="11.40" lengthAdjust="spacingAndGlyphs">4.3</text>
<rect x="112.10" y="154.50" width="15.81" height="14.55" fill="#fae0e2"/>
<text x="120.01" y="164.28" font-size="7.3" fill="#333333" text-anchor="middle" stroke="#333333" stroke-width="0.16" textLength="11.40" lengthAdjust="spacingAndGlyphs">6.6</text>
<rect x="128.86" y="154.50" width="15.81" height="14.55" fill="#fdf4f5"/>
<text x="136.77" y="164.28" font-size="7.3" fill="#333333" text-anchor="middle" stroke="#333333" stroke-width="0.16" textLength="11.40" lengthAdjust="spacingAndGlyphs">3.5</text>
<rect x="145.62" y="154.50" width="15.81" height="14.55" fill="#fffefe"/>
<text x="153.53" y="164.28" font-size="7.3" fill="#333333" text-anchor="middle" stroke="#333333" stroke-width="0.16" textLength="11.40" lengthAdjust="spacingAndGlyphs">2.6</text>
<rect x="162.38" y="154.50" width="15.81" height="14.55" fill="#fdeeef"/>
<text x="170.29" y="164.28" font-size="7.3" fill="#333333" text-anchor="middle" stroke="#333333" stroke-width="0.16" textLength="11.40" lengthAdjust="spacingAndGlyphs">4.2</text>
<rect x="179.14" y="154.50" width="15.81" height="14.55" fill="#fdf2f2"/>
<text x="187.05" y="164.28" font-size="7.3" fill="#333333" text-anchor="middle" stroke="#333333" stroke-width="0.16" textLength="11.40" lengthAdjust="spacingAndGlyphs">3.8</text>
<rect x="195.90" y="154.50" width="15.81" height="14.55" fill="#fbe2e3"/>
<text x="203.81" y="164.28" font-size="7.3" fill="#333333" text-anchor="middle" stroke="#333333" stroke-width="0.16" textLength="11.40" lengthAdjust="spacingAndGlyphs">6.2</text>
<rect x="212.66" y="154.50" width="15.81" height="14.55" fill="#fceced"/>
<text x="220.57" y="164.28" font-size="7.3" fill="#333333" text-anchor="middle" stroke="#333333" stroke-width="0.16" textLength="11.40" lengthAdjust="spacingAndGlyphs">4.5</text>
<rect x="229.42" y="154.50" width="15.81" height="14.55" fill="#fceaeb"/>
<text x="237.33" y="164.28" font-size="7.3" fill="#333333" text-anchor="middle" stroke="#333333" stroke-width="0.16" textLength="11.40" lengthAdjust="spacingAndGlyphs">4.8</text>
<rect x="246.18" y="154.50" width="15.81" height="14.55" fill="#fdf2f3"/>
<text x="254.09" y="164.28" font-size="7.3" fill="#333333" text-anchor="middle" stroke="#333333" stroke-width="0.16" textLength="11.40" lengthAdjust="spacingAndGlyphs">3.7</text>
<rect x="262.94" y="154.50" width="15.81" height="14.55" fill="#fdf2f2"/>
<text x="270.85" y="164.28" font-size="7.3" fill="#333333" text-anchor="middle" stroke="#333333" stroke-width="0.16" textLength="11.40" lengthAdjust="spacingAndGlyphs">3.8</text>
<text x="287.40" y="164.28" font-size="7.3" fill="#333" text-anchor="middle" stroke="#333" stroke-width="0.16" textLength="11.40" lengthAdjust="spacingAndGlyphs">2.5</text>
<line x1="296.4" y1="161.78" x2="299.6" y2="161.78" stroke="#555" stroke-width="0.7"/>
<text x="302.60" y="164.97" font-size="9" fill="#333" stroke="#333" stroke-width="0.16">Phenylalanine</text>
<rect x="28.30" y="170.00" width="15.81" height="14.55" fill="#ffffff"/>
<text x="36.20" y="179.78" font-size="7.3" fill="#333333" text-anchor="middle" stroke="#333333" stroke-width="0.16" textLength="11.40" lengthAdjust="spacingAndGlyphs">0.3</text>
<rect x="45.06" y="170.00" width="15.81" height="14.55" fill="#4456a9"/>
<text x="52.97" y="179.78" font-size="7.3" fill="#ffffff" text-anchor="middle" textLength="11.40" lengthAdjust="spacingAndGlyphs">0.0</text>
<rect x="61.82" y="170.00" width="15.81" height="14.55" fill="#fef6f6"/>
<text x="69.73" y="179.78" font-size="7.3" fill="#333333" text-anchor="middle" stroke="#333333" stroke-width="0.16" textLength="11.40" lengthAdjust="spacingAndGlyphs">0.4</text>
<rect x="78.58" y="170.00" width="15.81" height="14.55" fill="#fef6f6"/>
<text x="86.48" y="179.78" font-size="7.3" fill="#333333" text-anchor="middle" stroke="#333333" stroke-width="0.16" textLength="11.40" lengthAdjust="spacingAndGlyphs">0.4</text>
<rect x="95.34" y="170.00" width="15.81" height="14.55" fill="#fdefef"/>
<text x="103.25" y="179.78" font-size="7.3" fill="#333333" text-anchor="middle" stroke="#333333" stroke-width="0.16" textLength="11.40" lengthAdjust="spacingAndGlyphs">0.5</text>
<rect x="112.10" y="170.00" width="15.81" height="14.55" fill="#f8d3d5"/>
<text x="120.01" y="179.78" font-size="7.3" fill="#333333" text-anchor="middle" stroke="#333333" stroke-width="0.16" textLength="9.80" lengthAdjust="spacingAndGlyphs">1.2</text>
<rect x="128.86" y="170.00" width="15.81" height="14.55" fill="#fef6f6"/>
<text x="136.77" y="179.78" font-size="7.3" fill="#333333" text-anchor="middle" stroke="#333333" stroke-width="0.16" textLength="11.40" lengthAdjust="spacingAndGlyphs">0.4</text>
<rect x="145.62" y="170.00" width="15.81" height="14.55" fill="#ffffff"/>
<text x="153.53" y="179.78" font-size="7.3" fill="#333333" text-anchor="middle" stroke="#333333" stroke-width="0.16" textLength="11.40" lengthAdjust="spacingAndGlyphs">0.3</text>
<rect x="162.38" y="170.00" width="15.81" height="14.55" fill="#fbe4e5"/>
<text x="170.29" y="179.78" font-size="7.3" fill="#333333" text-anchor="middle" stroke="#333333" stroke-width="0.16" textLength="11.40" lengthAdjust="spacingAndGlyphs">0.7</text>
<rect x="179.14" y="170.00" width="15.81" height="14.55" fill="#fce9ea"/>
<text x="187.05" y="179.78" font-size="7.3" fill="#333333" text-anchor="middle" stroke="#333333" stroke-width="0.16" textLength="11.40" lengthAdjust="spacingAndGlyphs">0.6</text>
<rect x="195.90" y="170.00" width="15.81" height="14.55" fill="#fce9ea"/>
<text x="203.81" y="179.78" font-size="7.3" fill="#333333" text-anchor="middle" stroke="#333333" stroke-width="0.16" textLength="11.40" lengthAdjust="spacingAndGlyphs">0.6</text>
<rect x="212.66" y="170.00" width="15.81" height="14.55" fill="#fef6f6"/>
<text x="220.57" y="179.78" font-size="7.3" fill="#333333" text-anchor="middle" stroke="#333333" stroke-width="0.16" textLength="11.40" lengthAdjust="spacingAndGlyphs">0.4</text>
<rect x="229.42" y="170.00" width="15.81" height="14.55" fill="#fbe4e5"/>
<text x="237.33" y="179.78" font-size="7.3" fill="#333333" text-anchor="middle" stroke="#333333" stroke-width="0.16" textLength="11.40" lengthAdjust="spacingAndGlyphs">0.7</text>
<rect x="246.18" y="170.00" width="15.81" height="14.55" fill="#fef6f6"/>
<text x="254.09" y="179.78" font-size="7.3" fill="#333333" text-anchor="middle" stroke="#333333" stroke-width="0.16" textLength="11.40" lengthAdjust="spacingAndGlyphs">0.4</text>
<rect x="262.94" y="170.00" width="15.81" height="14.55" fill="#fef6f6"/>
<text x="270.85" y="179.78" font-size="7.3" fill="#333333" text-anchor="middle" stroke="#333333" stroke-width="0.16" textLength="11.40" lengthAdjust="spacingAndGlyphs">0.4</text>
<text x="287.40" y="179.78" font-size="7.3" fill="#333" text-anchor="middle" stroke="#333" stroke-width="0.16" textLength="11.40" lengthAdjust="spacingAndGlyphs">0.3</text>
<line x1="296.4" y1="177.28" x2="299.6" y2="177.28" stroke="#555" stroke-width="0.7"/>
<text x="302.60" y="180.47" font-size="9" fill="#333" stroke="#333" stroke-width="0.16">Tyrosine</text>
<rect x="28.30" y="185.50" width="15.81" height="14.55" fill="#aaadd8"/>
<text x="36.20" y="195.28" font-size="7.3" fill="#333333" text-anchor="middle" stroke="#333333" stroke-width="0.16" textLength="9.80" lengthAdjust="spacingAndGlyphs">0.1</text>
<rect x="45.06" y="185.50" width="15.81" height="14.55" fill="#8b90ca"/>
<text x="52.97" y="195.28" font-size="7.3" fill="#ffffff" text-anchor="middle" textLength="9.80" lengthAdjust="spacingAndGlyphs">0.1</text>
<rect x="61.82" y="185.50" width="15.81" height="14.55" fill="#fdf4f4"/>
<text x="69.73" y="195.28" font-size="7.3" fill="#333333" text-anchor="middle" stroke="#333333" stroke-width="0.16" textLength="9.80" lengthAdjust="spacingAndGlyphs">1.7</text>
<rect x="78.58" y="185.50" width="15.81" height="14.55" fill="#fdf2f3"/>
<text x="86.48" y="195.28" font-size="7.3" fill="#333333" text-anchor="middle" stroke="#333333" stroke-width="0.16" textLength="9.80" lengthAdjust="spacingAndGlyphs">1.8</text>
<rect x="95.34" y="185.50" width="15.81" height="14.55" fill="#fdf0f1"/>
<text x="103.25" y="195.28" font-size="7.3" fill="#333333" text-anchor="middle" stroke="#333333" stroke-width="0.16" textLength="9.80" lengthAdjust="spacingAndGlyphs">1.9</text>
<rect x="112.10" y="185.50" width="15.81" height="14.55" fill="#fbe4e5"/>
<text x="120.01" y="195.28" font-size="7.3" fill="#333333" text-anchor="middle" stroke="#333333" stroke-width="0.16" textLength="11.40" lengthAdjust="spacingAndGlyphs">2.8</text>
<rect x="128.86" y="185.50" width="15.81" height="14.55" fill="#fef6f6"/>
<text x="136.77" y="195.28" font-size="7.3" fill="#333333" text-anchor="middle" stroke="#333333" stroke-width="0.16" textLength="9.80" lengthAdjust="spacingAndGlyphs">1.6</text>
<rect x="145.62" y="185.50" width="15.81" height="14.55" fill="#fef6f6"/>
<text x="153.53" y="195.28" font-size="7.3" fill="#333333" text-anchor="middle" stroke="#333333" stroke-width="0.16" textLength="9.80" lengthAdjust="spacingAndGlyphs">1.6</text>
<rect x="162.38" y="185.50" width="15.81" height="14.55" fill="#fcedee"/>
<text x="170.29" y="195.28" font-size="7.3" fill="#333333" text-anchor="middle" stroke="#333333" stroke-width="0.16" textLength="9.80" lengthAdjust="spacingAndGlyphs">2.1</text>
<rect x="179.14" y="185.50" width="15.81" height="14.55" fill="#fceced"/>
<text x="187.05" y="195.28" font-size="7.3" fill="#333333" text-anchor="middle" stroke="#333333" stroke-width="0.16" textLength="11.40" lengthAdjust="spacingAndGlyphs">2.2</text>
<rect x="195.90" y="185.50" width="15.81" height="14.55" fill="#fce9ea"/>
<text x="203.81" y="195.28" font-size="7.3" fill="#333333" text-anchor="middle" stroke="#333333" stroke-width="0.16" textLength="11.40" lengthAdjust="spacingAndGlyphs">2.4</text>
<rect x="212.66" y="185.50" width="15.81" height="14.55" fill="#fdf2f3"/>
<text x="220.57" y="195.28" font-size="7.3" fill="#333333" text-anchor="middle" stroke="#333333" stroke-width="0.16" textLength="9.80" lengthAdjust="spacingAndGlyphs">1.8</text>
<rect x="229.42" y="185.50" width="15.81" height="14.55" fill="#fceced"/>
<text x="237.33" y="195.28" font-size="7.3" fill="#333333" text-anchor="middle" stroke="#333333" stroke-width="0.16" textLength="11.40" lengthAdjust="spacingAndGlyphs">2.2</text>
<rect x="246.18" y="185.50" width="15.81" height="14.55" fill="#fef6f6"/>
<text x="254.09" y="195.28" font-size="7.3" fill="#333333" text-anchor="middle" stroke="#333333" stroke-width="0.16" textLength="9.80" lengthAdjust="spacingAndGlyphs">1.6</text>
<rect x="262.94" y="185.50" width="15.81" height="14.55" fill="#fef6f6"/>
<text x="270.85" y="195.28" font-size="7.3" fill="#333333" text-anchor="middle" stroke="#333333" stroke-width="0.16" textLength="9.80" lengthAdjust="spacingAndGlyphs">1.6</text>
<text x="287.40" y="195.28" font-size="7.3" fill="#333" text-anchor="middle" stroke="#333" stroke-width="0.16" textLength="9.80" lengthAdjust="spacingAndGlyphs">1.2</text>
<line x1="296.4" y1="192.78" x2="299.6" y2="192.78" stroke="#555" stroke-width="0.7"/>
<text x="302.60" y="195.97" font-size="9" fill="#333" stroke="#333" stroke-width="0.16">Methionine</text>
<rect x="28.30" y="201.00" width="15.81" height="14.55" fill="#fdf3f3"/>
<text x="36.20" y="210.78" font-size="7.3" fill="#333333" text-anchor="middle" stroke="#333333" stroke-width="0.16" textLength="9.80" lengthAdjust="spacingAndGlyphs">1.9</text>
<rect x="45.06" y="201.00" width="15.81" height="14.55" fill="#a6a9d6"/>
<text x="52.97" y="210.78" font-size="7.3" fill="#333333" text-anchor="middle" stroke="#333333" stroke-width="0.16" textLength="9.80" lengthAdjust="spacingAndGlyphs">0.1</text>
<rect x="61.82" y="201.00" width="15.81" height="14.55" fill="#fef8f9"/>
<text x="69.73" y="210.78" font-size="7.3" fill="#333333" text-anchor="middle" stroke="#333333" stroke-width="0.16" textLength="9.80" lengthAdjust="spacingAndGlyphs">1.6</text>
<rect x="78.58" y="201.00" width="15.81" height="14.55" fill="#fdf0f0"/>
<text x="86.48" y="210.78" font-size="7.3" fill="#333333" text-anchor="middle" stroke="#333333" stroke-width="0.16" textLength="9.80" lengthAdjust="spacingAndGlyphs">2.1</text>
<rect x="95.34" y="201.00" width="15.81" height="14.55" fill="#fdf0f0"/>
<text x="103.25" y="210.78" font-size="7.3" fill="#333333" text-anchor="middle" stroke="#333333" stroke-width="0.16" textLength="9.80" lengthAdjust="spacingAndGlyphs">2.1</text>
<rect x="112.10" y="201.00" width="15.81" height="14.55" fill="#fdeeef"/>
<text x="120.01" y="210.78" font-size="7.3" fill="#333333" text-anchor="middle" stroke="#333333" stroke-width="0.16" textLength="11.40" lengthAdjust="spacingAndGlyphs">2.2</text>
<rect x="128.86" y="201.00" width="15.81" height="14.55" fill="#fdf5f5"/>
<text x="136.77" y="210.78" font-size="7.3" fill="#333333" text-anchor="middle" stroke="#333333" stroke-width="0.16" textLength="9.80" lengthAdjust="spacingAndGlyphs">1.8</text>
<rect x="145.62" y="201.00" width="15.81" height="14.55" fill="#f4f4fa"/>
<text x="153.53" y="210.78" font-size="7.3" fill="#333333" text-anchor="middle" stroke="#333333" stroke-width="0.16" textLength="11.40" lengthAdjust="spacingAndGlyphs">0.9</text>
<rect x="162.38" y="201.00" width="15.81" height="14.55" fill="#fdf1f2"/>
<text x="170.29" y="210.78" font-size="7.3" fill="#333333" text-anchor="middle" stroke="#333333" stroke-width="0.16" textLength="11.40" lengthAdjust="spacingAndGlyphs">2.0</text>
<rect x="179.14" y="201.00" width="15.81" height="14.55" fill="#fdf1f2"/>
<text x="187.05" y="210.78" font-size="7.3" fill="#333333" text-anchor="middle" stroke="#333333" stroke-width="0.16" textLength="11.40" lengthAdjust="spacingAndGlyphs">2.0</text>
<rect x="195.90" y="201.00" width="15.81" height="14.55" fill="#fbe6e8"/>
<text x="203.81" y="210.78" font-size="7.3" fill="#333333" text-anchor="middle" stroke="#333333" stroke-width="0.16" textLength="11.40" lengthAdjust="spacingAndGlyphs">2.8</text>
<rect x="212.66" y="201.00" width="15.81" height="14.55" fill="#fdeeef"/>
<text x="220.57" y="210.78" font-size="7.3" fill="#333333" text-anchor="middle" stroke="#333333" stroke-width="0.16" textLength="11.40" lengthAdjust="spacingAndGlyphs">2.2</text>
<rect x="229.42" y="201.00" width="15.81" height="14.55" fill="#fcebec"/>
<text x="237.33" y="210.78" font-size="7.3" fill="#333333" text-anchor="middle" stroke="#333333" stroke-width="0.16" textLength="11.40" lengthAdjust="spacingAndGlyphs">2.4</text>
<rect x="246.18" y="201.00" width="15.81" height="14.55" fill="#fdf1f2"/>
<text x="254.09" y="210.78" font-size="7.3" fill="#333333" text-anchor="middle" stroke="#333333" stroke-width="0.16" textLength="11.40" lengthAdjust="spacingAndGlyphs">2.0</text>
<rect x="262.94" y="201.00" width="15.81" height="14.55" fill="#fef8f9"/>
<text x="270.85" y="210.78" font-size="7.3" fill="#333333" text-anchor="middle" stroke="#333333" stroke-width="0.16" textLength="9.80" lengthAdjust="spacingAndGlyphs">1.6</text>
<text x="287.40" y="210.78" font-size="7.3" fill="#333" text-anchor="middle" stroke="#333" stroke-width="0.16" textLength="9.80" lengthAdjust="spacingAndGlyphs">1.3</text>
<line x1="296.4" y1="208.28" x2="299.6" y2="208.28" stroke="#555" stroke-width="0.7"/>
<text x="302.60" y="211.47" font-size="9" fill="#333" stroke="#333" stroke-width="0.16">Tryptophan</text>
<rect x="28.30" y="216.50" width="15.81" height="14.55" fill="#666fba"/>
<text x="36.20" y="226.28" font-size="7.3" fill="#ffffff" text-anchor="middle" textLength="11.40" lengthAdjust="spacingAndGlyphs">0.0</text>
<rect x="45.06" y="216.50" width="15.81" height="14.55" fill="#e9e9f4"/>
<text x="52.97" y="226.28" font-size="7.3" fill="#333333" text-anchor="middle" stroke="#333333" stroke-width="0.16" textLength="9.80" lengthAdjust="spacingAndGlyphs">1.0</text>
<rect x="61.82" y="216.50" width="15.81" height="14.55" fill="#fdf3f3"/>
<text x="69.73" y="226.28" font-size="7.3" fill="#333333" text-anchor="middle" stroke="#333333" stroke-width="0.16" textLength="9.80" lengthAdjust="spacingAndGlyphs">3.1</text>
<rect x="78.58" y="216.50" width="15.81" height="14.55" fill="#fdf1f1"/>
<text x="86.48" y="226.28" font-size="7.3" fill="#333333" text-anchor="middle" stroke="#333333" stroke-width="0.16" textLength="11.40" lengthAdjust="spacingAndGlyphs">3.3</text>
<rect x="95.34" y="216.50" width="15.81" height="14.55" fill="#fdf2f2"/>
<text x="103.25" y="226.28" font-size="7.3" fill="#333333" text-anchor="middle" stroke="#333333" stroke-width="0.16" textLength="11.40" lengthAdjust="spacingAndGlyphs">3.2</text>
<rect x="112.10" y="216.50" width="15.81" height="14.55" fill="#fbe7e8"/>
<text x="120.01" y="226.28" font-size="7.3" fill="#333333" text-anchor="middle" stroke="#333333" stroke-width="0.16" textLength="11.40" lengthAdjust="spacingAndGlyphs">4.5</text>
<rect x="128.86" y="216.50" width="15.81" height="14.55" fill="#fdf5f5"/>
<text x="136.77" y="226.28" font-size="7.3" fill="#333333" text-anchor="middle" stroke="#333333" stroke-width="0.16" textLength="11.40" lengthAdjust="spacingAndGlyphs">2.9</text>
<rect x="145.62" y="216.50" width="15.81" height="14.55" fill="#fdf4f4"/>
<text x="153.53" y="226.28" font-size="7.3" fill="#333333" text-anchor="middle" stroke="#333333" stroke-width="0.16" textLength="11.40" lengthAdjust="spacingAndGlyphs">3.0</text>
<rect x="162.38" y="216.50" width="15.81" height="14.55" fill="#fdf4f4"/>
<text x="170.29" y="226.28" font-size="7.3" fill="#333333" text-anchor="middle" stroke="#333333" stroke-width="0.16" textLength="11.40" lengthAdjust="spacingAndGlyphs">3.0</text>
<rect x="179.14" y="216.50" width="15.81" height="14.55" fill="#fef6f6"/>
<text x="187.05" y="226.28" font-size="7.3" fill="#333333" text-anchor="middle" stroke="#333333" stroke-width="0.16" textLength="11.40" lengthAdjust="spacingAndGlyphs">2.8</text>
<rect x="195.90" y="216.50" width="15.81" height="14.55" fill="#fbe5e7"/>
<text x="203.81" y="226.28" font-size="7.3" fill="#333333" text-anchor="middle" stroke="#333333" stroke-width="0.16" textLength="11.40" lengthAdjust="spacingAndGlyphs">4.7</text>
<rect x="212.66" y="216.50" width="15.81" height="14.55" fill="#fceeef"/>
<text x="220.57" y="226.28" font-size="7.3" fill="#333333" text-anchor="middle" stroke="#333333" stroke-width="0.16" textLength="11.40" lengthAdjust="spacingAndGlyphs">3.6</text>
<rect x="229.42" y="216.50" width="15.81" height="14.55" fill="#fce7e9"/>
<text x="237.33" y="226.28" font-size="7.3" fill="#333333" text-anchor="middle" stroke="#333333" stroke-width="0.16" textLength="11.40" lengthAdjust="spacingAndGlyphs">4.4</text>
<rect x="246.18" y="216.50" width="15.81" height="14.55" fill="#fdf3f3"/>
<text x="254.09" y="226.28" font-size="7.3" fill="#333333" text-anchor="middle" stroke="#333333" stroke-width="0.16" textLength="9.80" lengthAdjust="spacingAndGlyphs">3.1</text>
<rect x="262.94" y="216.50" width="15.81" height="14.55" fill="#fdf2f2"/>
<text x="270.85" y="226.28" font-size="7.3" fill="#333333" text-anchor="middle" stroke="#333333" stroke-width="0.16" textLength="11.40" lengthAdjust="spacingAndGlyphs">3.2</text>
<text x="287.40" y="226.28" font-size="7.3" fill="#333" text-anchor="middle" stroke="#333" stroke-width="0.16" textLength="9.80" lengthAdjust="spacingAndGlyphs">2.1</text>
<line x1="296.4" y1="223.78" x2="299.6" y2="223.78" stroke="#555" stroke-width="0.7"/>
<text x="302.60" y="226.97" font-size="9" fill="#333" stroke="#333" stroke-width="0.16">Isoleucine</text>
<rect x="28.30" y="232.00" width="15.81" height="14.55" fill="#d5d5ec"/>
<text x="36.20" y="241.78" font-size="7.3" fill="#333333" text-anchor="middle" stroke="#333333" stroke-width="0.16" textLength="8.20" lengthAdjust="spacingAndGlyphs">1.1</text>
<rect x="45.06" y="232.00" width="15.81" height="14.55" fill="#fce7e9"/>
<text x="52.97" y="241.78" font-size="7.3" fill="#333333" text-anchor="middle" stroke="#333333" stroke-width="0.16" textLength="11.40" lengthAdjust="spacingAndGlyphs">9.8</text>
<rect x="61.82" y="232.00" width="15.81" height="14.55" fill="#fdf0f1"/>
<text x="69.73" y="241.78" font-size="7.3" fill="#333333" text-anchor="middle" stroke="#333333" stroke-width="0.16" textLength="11.40" lengthAdjust="spacingAndGlyphs">7.4</text>
<rect x="78.58" y="232.00" width="15.81" height="14.55" fill="#fceeee"/>
<text x="86.48" y="241.78" font-size="7.3" fill="#333333" text-anchor="middle" stroke="#333333" stroke-width="0.16" textLength="9.80" lengthAdjust="spacingAndGlyphs">8.1</text>
<rect x="95.34" y="232.00" width="15.81" height="14.55" fill="#fbe4e5"/>
<text x="103.25" y="241.78" font-size="7.3" fill="#333333" text-anchor="middle" stroke="#333333" stroke-width="0.16" textLength="12.70" lengthAdjust="spacingAndGlyphs">11.0</text>
<rect x="112.10" y="232.00" width="15.81" height="14.55" fill="#fbe2e3"/>
<text x="120.01" y="241.78" font-size="7.3" fill="#333333" text-anchor="middle" stroke="#333333" stroke-width="0.16" textLength="12.70" lengthAdjust="spacingAndGlyphs">11.8</text>
<rect x="128.86" y="232.00" width="15.81" height="14.55" fill="#fdf5f5"/>
<text x="136.77" y="241.78" font-size="7.3" fill="#333333" text-anchor="middle" stroke="#333333" stroke-width="0.16" textLength="11.40" lengthAdjust="spacingAndGlyphs">6.5</text>
<rect x="145.62" y="232.00" width="15.81" height="14.55" fill="#fdf1f2"/>
<text x="153.53" y="241.78" font-size="7.3" fill="#333333" text-anchor="middle" stroke="#333333" stroke-width="0.16" textLength="11.40" lengthAdjust="spacingAndGlyphs">7.3</text>
<rect x="162.38" y="232.00" width="15.81" height="14.55" fill="#fbe6e7"/>
<text x="170.29" y="241.78" font-size="7.3" fill="#333333" text-anchor="middle" stroke="#333333" stroke-width="0.16" textLength="14.30" lengthAdjust="spacingAndGlyphs">10.3</text>
<rect x="179.14" y="232.00" width="15.81" height="14.55" fill="#fbe7e8"/>
<text x="187.05" y="241.78" font-size="7.3" fill="#333333" text-anchor="middle" stroke="#333333" stroke-width="0.16" textLength="14.30" lengthAdjust="spacingAndGlyphs">10.0</text>
<rect x="195.90" y="232.00" width="15.81" height="14.55" fill="#fbe3e5"/>
<text x="203.81" y="241.78" font-size="7.3" fill="#333333" text-anchor="middle" stroke="#333333" stroke-width="0.16" textLength="11.10" lengthAdjust="spacingAndGlyphs">11.1</text>
<rect x="212.66" y="232.00" width="15.81" height="14.55" fill="#fceced"/>
<text x="220.57" y="241.78" font-size="7.3" fill="#333333" text-anchor="middle" stroke="#333333" stroke-width="0.16" textLength="11.40" lengthAdjust="spacingAndGlyphs">8.6</text>
<rect x="229.42" y="232.00" width="15.81" height="14.55" fill="#fce8e9"/>
<text x="237.33" y="241.78" font-size="7.3" fill="#333333" text-anchor="middle" stroke="#333333" stroke-width="0.16" textLength="11.40" lengthAdjust="spacingAndGlyphs">9.6</text>
<rect x="246.18" y="232.00" width="15.81" height="14.55" fill="#fdf1f2"/>
<text x="254.09" y="241.78" font-size="7.3" fill="#333333" text-anchor="middle" stroke="#333333" stroke-width="0.16" textLength="11.40" lengthAdjust="spacingAndGlyphs">7.2</text>
<rect x="262.94" y="232.00" width="15.81" height="14.55" fill="#fdf0f1"/>
<text x="270.85" y="241.78" font-size="7.3" fill="#333333" text-anchor="middle" stroke="#333333" stroke-width="0.16" textLength="11.40" lengthAdjust="spacingAndGlyphs">7.4</text>
<text x="287.40" y="241.78" font-size="7.3" fill="#333" text-anchor="middle" stroke="#333" stroke-width="0.16" textLength="11.40" lengthAdjust="spacingAndGlyphs">4.7</text>
<line x1="296.4" y1="239.28" x2="299.6" y2="239.28" stroke="#555" stroke-width="0.7"/>
<text x="302.60" y="242.47" font-size="9" fill="#333" stroke="#333" stroke-width="0.16">Alanine</text>
<rect x="28.30" y="247.50" width="15.81" height="14.55" fill="#858bc8"/>
<text x="36.20" y="257.27" font-size="7.3" fill="#ffffff" text-anchor="middle" textLength="9.80" lengthAdjust="spacingAndGlyphs">0.1</text>
<rect x="45.06" y="247.50" width="15.81" height="14.55" fill="#fdf1f2"/>
<text x="52.97" y="257.27" font-size="7.3" fill="#333333" text-anchor="middle" stroke="#333333" stroke-width="0.16" textLength="11.40" lengthAdjust="spacingAndGlyphs">4.3</text>
<rect x="61.82" y="247.50" width="15.81" height="14.55" fill="#fdf0f1"/>
<text x="69.73" y="257.27" font-size="7.3" fill="#333333" text-anchor="middle" stroke="#333333" stroke-width="0.16" textLength="11.40" lengthAdjust="spacingAndGlyphs">4.5</text>
<rect x="78.58" y="247.50" width="15.81" height="14.55" fill="#fceeef"/>
<text x="86.48" y="257.27" font-size="7.3" fill="#333333" text-anchor="middle" stroke="#333333" stroke-width="0.16" textLength="11.40" lengthAdjust="spacingAndGlyphs">4.8</text>
<rect x="95.34" y="247.50" width="15.81" height="14.55" fill="#fce8e9"/>
<text x="103.25" y="257.27" font-size="7.3" fill="#333333" text-anchor="middle" stroke="#333333" stroke-width="0.16" textLength="11.40" lengthAdjust="spacingAndGlyphs">5.8</text>
<rect x="112.10" y="247.50" width="15.81" height="14.55" fill="#f9d5d7"/>
<text x="120.01" y="257.27" font-size="7.3" fill="#333333" text-anchor="middle" stroke="#333333" stroke-width="0.16" textLength="14.30" lengthAdjust="spacingAndGlyphs">10.3</text>
<rect x="128.86" y="247.50" width="15.81" height="14.55" fill="#fdf4f5"/>
<text x="136.77" y="257.27" font-size="7.3" fill="#333333" text-anchor="middle" stroke="#333333" stroke-width="0.16" textLength="11.40" lengthAdjust="spacingAndGlyphs">3.9</text>
<rect x="145.62" y="247.50" width="15.81" height="14.55" fill="#fdf1f1"/>
<text x="153.53" y="257.27" font-size="7.3" fill="#333333" text-anchor="middle" stroke="#333333" stroke-width="0.16" textLength="11.40" lengthAdjust="spacingAndGlyphs">4.4</text>
<rect x="162.38" y="247.50" width="15.81" height="14.55" fill="#fbe3e5"/>
<text x="170.29" y="257.27" font-size="7.3" fill="#333333" text-anchor="middle" stroke="#333333" stroke-width="0.16" textLength="11.40" lengthAdjust="spacingAndGlyphs">6.7</text>
<rect x="179.14" y="247.50" width="15.81" height="14.55" fill="#fbe4e5"/>
<text x="187.05" y="257.27" font-size="7.3" fill="#333333" text-anchor="middle" stroke="#333333" stroke-width="0.16" textLength="11.40" lengthAdjust="spacingAndGlyphs">6.6</text>
<rect x="195.90" y="247.50" width="15.81" height="14.55" fill="#fadfe1"/>
<text x="203.81" y="257.27" font-size="7.3" fill="#333333" text-anchor="middle" stroke="#333333" stroke-width="0.16" textLength="11.40" lengthAdjust="spacingAndGlyphs">7.6</text>
<rect x="212.66" y="247.50" width="15.81" height="14.55" fill="#fcebec"/>
<text x="220.57" y="257.27" font-size="7.3" fill="#333333" text-anchor="middle" stroke="#333333" stroke-width="0.16" textLength="11.40" lengthAdjust="spacingAndGlyphs">5.2</text>
<rect x="229.42" y="247.50" width="15.81" height="14.55" fill="#fbe6e7"/>
<text x="237.33" y="257.27" font-size="7.3" fill="#333333" text-anchor="middle" stroke="#333333" stroke-width="0.16" textLength="11.40" lengthAdjust="spacingAndGlyphs">6.2</text>
<rect x="246.18" y="247.50" width="15.81" height="14.55" fill="#fdf1f2"/>
<text x="254.09" y="257.27" font-size="7.3" fill="#333333" text-anchor="middle" stroke="#333333" stroke-width="0.16" textLength="11.40" lengthAdjust="spacingAndGlyphs">4.3</text>
<rect x="262.94" y="247.50" width="15.81" height="14.55" fill="#fdf1f1"/>
<text x="270.85" y="257.27" font-size="7.3" fill="#333333" text-anchor="middle" stroke="#333333" stroke-width="0.16" textLength="11.40" lengthAdjust="spacingAndGlyphs">4.4</text>
<text x="287.40" y="257.27" font-size="7.3" fill="#333" text-anchor="middle" stroke="#333" stroke-width="0.16" textLength="11.40" lengthAdjust="spacingAndGlyphs">2.8</text>
<line x1="296.4" y1="254.78" x2="299.6" y2="254.78" stroke="#555" stroke-width="0.7"/>
<text x="302.60" y="257.98" font-size="9" fill="#333" stroke="#333" stroke-width="0.16">Valine</text>
<rect x="28.30" y="263.00" width="15.81" height="14.55" fill="#fbe2e3"/>
<text x="36.20" y="272.77" font-size="7.3" fill="#333333" text-anchor="middle" stroke="#333333" stroke-width="0.16" textLength="11.40" lengthAdjust="spacingAndGlyphs">0.5</text>
<rect x="45.06" y="263.00" width="15.81" height="14.55" fill="#f7c6c9"/>
<text x="52.97" y="272.77" font-size="7.3" fill="#333333" text-anchor="middle" stroke="#333333" stroke-width="0.16" textLength="9.80" lengthAdjust="spacingAndGlyphs">1.2</text>
<rect x="61.82" y="263.00" width="15.81" height="14.55" fill="#fdf2f3"/>
<text x="69.73" y="272.77" font-size="7.3" fill="#333333" text-anchor="middle" stroke="#333333" stroke-width="0.16" textLength="11.40" lengthAdjust="spacingAndGlyphs">0.3</text>
<rect x="78.58" y="263.00" width="15.81" height="14.55" fill="#eaeaf5"/>
<text x="86.48" y="272.77" font-size="7.3" fill="#333333" text-anchor="middle" stroke="#333333" stroke-width="0.16" textLength="9.80" lengthAdjust="spacingAndGlyphs">0.1</text>
<rect x="95.34" y="263.00" width="15.81" height="14.55" fill="#fadcde"/>
<text x="103.25" y="272.77" font-size="7.3" fill="#333333" text-anchor="middle" stroke="#333333" stroke-width="0.16" textLength="11.40" lengthAdjust="spacingAndGlyphs">0.6</text>
<rect x="112.10" y="263.00" width="15.81" height="14.55" fill="#f8d3d5"/>
<text x="120.01" y="272.77" font-size="7.3" fill="#333333" text-anchor="middle" stroke="#333333" stroke-width="0.16" textLength="11.40" lengthAdjust="spacingAndGlyphs">0.8</text>
<rect x="128.86" y="263.00" width="15.81" height="14.55" fill="#fdf2f3"/>
<text x="136.77" y="272.77" font-size="7.3" fill="#333333" text-anchor="middle" stroke="#333333" stroke-width="0.16" textLength="11.40" lengthAdjust="spacingAndGlyphs">0.3</text>
<rect x="145.62" y="263.00" width="15.81" height="14.55" fill="#fce9ea"/>
<text x="153.53" y="272.77" font-size="7.3" fill="#333333" text-anchor="middle" stroke="#333333" stroke-width="0.16" textLength="11.40" lengthAdjust="spacingAndGlyphs">0.4</text>
<rect x="162.38" y="263.00" width="15.81" height="14.55" fill="#fadcde"/>
<text x="170.29" y="272.77" font-size="7.3" fill="#333333" text-anchor="middle" stroke="#333333" stroke-width="0.16" textLength="11.40" lengthAdjust="spacingAndGlyphs">0.6</text>
<rect x="179.14" y="263.00" width="15.81" height="14.55" fill="#fadcde"/>
<text x="187.05" y="272.77" font-size="7.3" fill="#333333" text-anchor="middle" stroke="#333333" stroke-width="0.16" textLength="11.40" lengthAdjust="spacingAndGlyphs">0.6</text>
<rect x="195.90" y="263.00" width="15.81" height="14.55" fill="#f9d7d9"/>
<text x="203.81" y="272.77" font-size="7.3" fill="#333333" text-anchor="middle" stroke="#333333" stroke-width="0.16" textLength="11.40" lengthAdjust="spacingAndGlyphs">0.7</text>
<rect x="212.66" y="263.00" width="15.81" height="14.55" fill="#fbe2e3"/>
<text x="220.57" y="272.77" font-size="7.3" fill="#333333" text-anchor="middle" stroke="#333333" stroke-width="0.16" textLength="11.40" lengthAdjust="spacingAndGlyphs">0.5</text>
<rect x="229.42" y="263.00" width="15.81" height="14.55" fill="#f9d7d9"/>
<text x="237.33" y="272.77" font-size="7.3" fill="#333333" text-anchor="middle" stroke="#333333" stroke-width="0.16" textLength="11.40" lengthAdjust="spacingAndGlyphs">0.7</text>
<rect x="246.18" y="263.00" width="15.81" height="14.55" fill="#fce9ea"/>
<text x="254.09" y="272.77" font-size="7.3" fill="#333333" text-anchor="middle" stroke="#333333" stroke-width="0.16" textLength="11.40" lengthAdjust="spacingAndGlyphs">0.4</text>
<rect x="262.94" y="263.00" width="15.81" height="14.55" fill="#fce9ea"/>
<text x="270.85" y="272.77" font-size="7.3" fill="#333333" text-anchor="middle" stroke="#333333" stroke-width="0.16" textLength="11.40" lengthAdjust="spacingAndGlyphs">0.4</text>
<text x="287.40" y="272.77" font-size="7.3" fill="#333" text-anchor="middle" stroke="#333" stroke-width="0.16" textLength="11.40" lengthAdjust="spacingAndGlyphs">0.2</text>
<line x1="296.4" y1="270.27" x2="299.6" y2="270.27" stroke="#555" stroke-width="0.7"/>
<text x="302.60" y="273.47" font-size="9" fill="#333" stroke="#333" stroke-width="0.16">Histidine</text>
<rect x="28.30" y="278.50" width="15.81" height="14.55" fill="#fceced"/>
<text x="36.20" y="288.27" font-size="7.3" fill="#333333" text-anchor="middle" stroke="#333333" stroke-width="0.16" textLength="9.80" lengthAdjust="spacingAndGlyphs">3.1</text>
<rect x="45.06" y="278.50" width="15.81" height="14.55" fill="#fbe7e8"/>
<text x="52.97" y="288.27" font-size="7.3" fill="#333333" text-anchor="middle" stroke="#333333" stroke-width="0.16" textLength="11.40" lengthAdjust="spacingAndGlyphs">3.6</text>
<rect x="61.82" y="278.50" width="15.81" height="14.55" fill="#fdf4f5"/>
<text x="69.73" y="288.27" font-size="7.3" fill="#333333" text-anchor="middle" stroke="#333333" stroke-width="0.16" textLength="11.40" lengthAdjust="spacingAndGlyphs">2.4</text>
<rect x="78.58" y="278.50" width="15.81" height="14.55" fill="#fdf3f3"/>
<text x="86.48" y="288.27" font-size="7.3" fill="#333333" text-anchor="middle" stroke="#333333" stroke-width="0.16" textLength="11.40" lengthAdjust="spacingAndGlyphs">2.5</text>
<rect x="95.34" y="278.50" width="15.81" height="14.55" fill="#ececf6"/>
<text x="103.25" y="288.27" font-size="7.3" fill="#333333" text-anchor="middle" stroke="#333333" stroke-width="0.16" textLength="11.40" lengthAdjust="spacingAndGlyphs">0.9</text>
<rect x="112.10" y="278.50" width="15.81" height="14.55" fill="#fceaeb"/>
<text x="120.01" y="288.27" font-size="7.3" fill="#333333" text-anchor="middle" stroke="#333333" stroke-width="0.16" textLength="11.40" lengthAdjust="spacingAndGlyphs">3.3</text>
<rect x="128.86" y="278.50" width="15.81" height="14.55" fill="#fdf3f3"/>
<text x="136.77" y="288.27" font-size="7.3" fill="#333333" text-anchor="middle" stroke="#333333" stroke-width="0.16" textLength="11.40" lengthAdjust="spacingAndGlyphs">2.5</text>
<rect x="145.62" y="278.50" width="15.81" height="14.55" fill="#fef5f6"/>
<text x="153.53" y="288.27" font-size="7.3" fill="#333333" text-anchor="middle" stroke="#333333" stroke-width="0.16" textLength="11.40" lengthAdjust="spacingAndGlyphs">2.3</text>
<rect x="162.38" y="278.50" width="15.81" height="14.55" fill="#fbe3e4"/>
<text x="170.29" y="288.27" font-size="7.3" fill="#333333" text-anchor="middle" stroke="#333333" stroke-width="0.16" textLength="9.80" lengthAdjust="spacingAndGlyphs">4.1</text>
<rect x="179.14" y="278.50" width="15.81" height="14.55" fill="#fdf0f1"/>
<text x="187.05" y="288.27" font-size="7.3" fill="#333333" text-anchor="middle" stroke="#333333" stroke-width="0.16" textLength="11.40" lengthAdjust="spacingAndGlyphs">2.7</text>
<rect x="195.90" y="278.50" width="15.81" height="14.55" fill="#fbe3e4"/>
<text x="203.81" y="288.27" font-size="7.3" fill="#333333" text-anchor="middle" stroke="#333333" stroke-width="0.16" textLength="9.80" lengthAdjust="spacingAndGlyphs">4.1</text>
<rect x="212.66" y="278.50" width="15.81" height="14.55" fill="#fceeef"/>
<text x="220.57" y="288.27" font-size="7.3" fill="#333333" text-anchor="middle" stroke="#333333" stroke-width="0.16" textLength="11.40" lengthAdjust="spacingAndGlyphs">2.9</text>
<rect x="229.42" y="278.50" width="15.81" height="14.55" fill="#fce9ea"/>
<text x="237.33" y="288.27" font-size="7.3" fill="#333333" text-anchor="middle" stroke="#333333" stroke-width="0.16" textLength="11.40" lengthAdjust="spacingAndGlyphs">3.4</text>
<rect x="246.18" y="278.50" width="15.81" height="14.55" fill="#fdf4f5"/>
<text x="254.09" y="288.27" font-size="7.3" fill="#333333" text-anchor="middle" stroke="#333333" stroke-width="0.16" textLength="11.40" lengthAdjust="spacingAndGlyphs">2.4</text>
<rect x="262.94" y="278.50" width="15.81" height="14.55" fill="#fdf4f5"/>
<text x="270.85" y="288.27" font-size="7.3" fill="#333333" text-anchor="middle" stroke="#333333" stroke-width="0.16" textLength="11.40" lengthAdjust="spacingAndGlyphs">2.4</text>
<text x="287.40" y="288.27" font-size="7.3" fill="#333" text-anchor="middle" stroke="#333" stroke-width="0.16" textLength="9.80" lengthAdjust="spacingAndGlyphs">1.7</text>
<line x1="296.4" y1="285.77" x2="299.6" y2="285.77" stroke="#555" stroke-width="0.7"/>
<text x="302.60" y="288.97" font-size="9" fill="#333" stroke="#333" stroke-width="0.16">Glutamic acid</text>
<rect x="28.30" y="294.00" width="15.81" height="14.55" fill="#fdf1f2"/>
<text x="36.20" y="303.77" font-size="7.3" fill="#333333" text-anchor="middle" stroke="#333333" stroke-width="0.16" textLength="11.40" lengthAdjust="spacingAndGlyphs">6.0</text>
<rect x="45.06" y="294.00" width="15.81" height="14.55" fill="#fdfdfe"/>
<text x="52.97" y="303.77" font-size="7.3" fill="#333333" text-anchor="middle" stroke="#333333" stroke-width="0.16" textLength="11.40" lengthAdjust="spacingAndGlyphs">3.7</text>
<rect x="61.82" y="294.00" width="15.81" height="14.55" fill="#fdf3f4"/>
<text x="69.73" y="303.77" font-size="7.3" fill="#333333" text-anchor="middle" stroke="#333333" stroke-width="0.16" textLength="11.40" lengthAdjust="spacingAndGlyphs">5.6</text>
<rect x="78.58" y="294.00" width="15.81" height="14.55" fill="#fdf3f4"/>
<text x="86.48" y="303.77" font-size="7.3" fill="#333333" text-anchor="middle" stroke="#333333" stroke-width="0.16" textLength="11.40" lengthAdjust="spacingAndGlyphs">5.6</text>
<rect x="95.34" y="294.00" width="15.81" height="14.55" fill="#fdf0f0"/>
<text x="103.25" y="303.77" font-size="7.3" fill="#333333" text-anchor="middle" stroke="#333333" stroke-width="0.16" textLength="11.40" lengthAdjust="spacingAndGlyphs">6.3</text>
<rect x="112.10" y="294.00" width="15.81" height="14.55" fill="#fdeeef"/>
<text x="120.01" y="303.77" font-size="7.3" fill="#333333" text-anchor="middle" stroke="#333333" stroke-width="0.16" textLength="11.40" lengthAdjust="spacingAndGlyphs">6.6</text>
<rect x="128.86" y="294.00" width="15.81" height="14.55" fill="#fef8f9"/>
<text x="136.77" y="303.77" font-size="7.3" fill="#333333" text-anchor="middle" stroke="#333333" stroke-width="0.16" textLength="11.40" lengthAdjust="spacingAndGlyphs">4.8</text>
<rect x="145.62" y="294.00" width="15.81" height="14.55" fill="#fdf3f3"/>
<text x="153.53" y="303.77" font-size="7.3" fill="#333333" text-anchor="middle" stroke="#333333" stroke-width="0.16" textLength="11.40" lengthAdjust="spacingAndGlyphs">5.7</text>
<rect x="162.38" y="294.00" width="15.81" height="14.55" fill="#fceaeb"/>
<text x="170.29" y="303.77" font-size="7.3" fill="#333333" text-anchor="middle" stroke="#333333" stroke-width="0.16" textLength="11.40" lengthAdjust="spacingAndGlyphs">7.5</text>
<rect x="179.14" y="294.00" width="15.81" height="14.55" fill="#fdf4f5"/>
<text x="187.05" y="303.77" font-size="7.3" fill="#333333" text-anchor="middle" stroke="#333333" stroke-width="0.16" textLength="11.40" lengthAdjust="spacingAndGlyphs">5.5</text>
<rect x="195.90" y="294.00" width="15.81" height="14.55" fill="#fce8e9"/>
<text x="203.81" y="303.77" font-size="7.3" fill="#333333" text-anchor="middle" stroke="#333333" stroke-width="0.16" textLength="9.80" lengthAdjust="spacingAndGlyphs">8.1</text>
<rect x="212.66" y="294.00" width="15.81" height="14.55" fill="#fcedee"/>
<text x="220.57" y="303.77" font-size="7.3" fill="#333333" text-anchor="middle" stroke="#333333" stroke-width="0.16" textLength="11.40" lengthAdjust="spacingAndGlyphs">6.8</text>
<rect x="229.42" y="294.00" width="15.81" height="14.55" fill="#fce8ea"/>
<text x="237.33" y="303.77" font-size="7.3" fill="#333333" text-anchor="middle" stroke="#333333" stroke-width="0.16" textLength="11.40" lengthAdjust="spacingAndGlyphs">7.9</text>
<rect x="246.18" y="294.00" width="15.81" height="14.55" fill="#fdf5f5"/>
<text x="254.09" y="303.77" font-size="7.3" fill="#333333" text-anchor="middle" stroke="#333333" stroke-width="0.16" textLength="11.40" lengthAdjust="spacingAndGlyphs">5.4</text>
<rect x="262.94" y="294.00" width="15.81" height="14.55" fill="#fdf0f1"/>
<text x="270.85" y="303.77" font-size="7.3" fill="#333333" text-anchor="middle" stroke="#333333" stroke-width="0.16" textLength="11.40" lengthAdjust="spacingAndGlyphs">6.2</text>
<text x="287.40" y="303.77" font-size="7.3" fill="#333" text-anchor="middle" stroke="#333" stroke-width="0.16" textLength="11.40" lengthAdjust="spacingAndGlyphs">3.9</text>
<line x1="296.4" y1="301.27" x2="299.6" y2="301.27" stroke="#555" stroke-width="0.7"/>
<text x="302.60" y="304.47" font-size="9" fill="#333" stroke="#333" stroke-width="0.16">Glycine</text>
</g>
<line x1="36.20" y1="309.3" x2="36.20" y2="312" stroke="#555" stroke-width="0.7"/>
<text x="36.20" y="323.20" font-size="9" fill="#2f7bbd" text-anchor="middle" stroke="#2f7bbd" stroke-width="0.16">Cd</text>
<line x1="52.97" y1="309.3" x2="52.97" y2="312" stroke="#555" stroke-width="0.7"/>
<text x="52.97" y="323.20" font-size="9" fill="#2f7bbd" text-anchor="middle" stroke="#2f7bbd" stroke-width="0.16">Cs</text>
<line x1="69.73" y1="309.3" x2="69.73" y2="312" stroke="#555" stroke-width="0.7"/>
<text x="69.73" y="323.20" font-size="9" fill="#c2393b" text-anchor="middle" stroke="#c2393b" stroke-width="0.16">Ec</text>
<line x1="86.48" y1="309.3" x2="86.48" y2="312" stroke="#555" stroke-width="0.7"/>
<text x="86.48" y="323.20" font-size="9" fill="#c2393b" text-anchor="middle" stroke="#c2393b" stroke-width="0.16">Ka</text>
<line x1="103.25" y1="309.3" x2="103.25" y2="312" stroke="#555" stroke-width="0.7"/>
<text x="103.25" y="323.20" font-size="9" fill="#2f9a52" text-anchor="middle" stroke="#2f9a52" stroke-width="0.16">Bt</text>
<line x1="120.01" y1="309.3" x2="120.01" y2="312" stroke="#555" stroke-width="0.7"/>
<text x="120.01" y="323.20" font-size="9" fill="#2f9a52" text-anchor="middle" stroke="#2f9a52" stroke-width="0.16">Pv</text>
<line x1="136.77" y1="309.3" x2="136.77" y2="312" stroke="#555" stroke-width="0.7"/>
<text x="136.77" y="323.20" font-size="9" fill="#2f7bbd" text-anchor="middle" stroke="#2f7bbd" stroke-width="0.16">La</text>
<line x1="153.53" y1="309.3" x2="153.53" y2="312" stroke="#555" stroke-width="0.7"/>
<text x="153.53" y="323.20" font-size="9" fill="#2f7bbd" text-anchor="middle" stroke="#2f7bbd" stroke-width="0.16">Rg</text>
<line x1="170.29" y1="309.3" x2="170.29" y2="312" stroke="#555" stroke-width="0.7"/>
<text x="170.29" y="323.20" font-size="9" fill="#2f9a52" text-anchor="middle" stroke="#2f9a52" stroke-width="0.16">Bu</text>
<line x1="187.05" y1="309.3" x2="187.05" y2="312" stroke="#555" stroke-width="0.7"/>
<text x="187.05" y="323.20" font-size="9" fill="#2f9a52" text-anchor="middle" stroke="#2f9a52" stroke-width="0.16">Pm</text>
<line x1="203.81" y1="309.3" x2="203.81" y2="312" stroke="#555" stroke-width="0.7"/>
<text x="203.81" y="323.20" font-size="9" fill="#2f9a52" text-anchor="middle" stroke="#2f9a52" stroke-width="0.16">Sc</text>
<line x1="220.57" y1="309.3" x2="220.57" y2="312" stroke="#555" stroke-width="0.7"/>
<text x="220.57" y="323.20" font-size="9" fill="#2f7bbd" text-anchor="middle" stroke="#2f7bbd" stroke-width="0.16">Ar</text>
<line x1="237.33" y1="309.3" x2="237.33" y2="312" stroke="#555" stroke-width="0.7"/>
<text x="237.33" y="323.20" font-size="9" fill="#2f7bbd" text-anchor="middle" stroke="#2f7bbd" stroke-width="0.16">Lg</text>
<line x1="254.09" y1="309.3" x2="254.09" y2="312" stroke="#555" stroke-width="0.7"/>
<text x="254.09" y="323.20" font-size="9" fill="#7a4fb5" text-anchor="middle" stroke="#7a4fb5" stroke-width="0.16">Ca</text>
<line x1="270.85" y1="309.3" x2="270.85" y2="312" stroke="#555" stroke-width="0.7"/>
<text x="270.85" y="323.20" font-size="9" fill="#2f7bbd" text-anchor="middle" stroke="#2f7bbd" stroke-width="0.16">Ls</text>
<line x1="287.4" y1="309.3" x2="287.4" y2="312" stroke="#555" stroke-width="0.7"/>
<text x="290.60" y="314.20" font-size="9" fill="#333" text-anchor="end" transform="rotate(-90.00 290.60 314.20)" stroke="#333" stroke-width="0.16">mGAM</text>
<defs><linearGradient id="cba" x1="0" y1="0" x2="0" y2="1">
<stop offset="0.000" stop-color="#e3404a"/>
<stop offset="0.042" stop-color="#e6535c"/>
<stop offset="0.083" stop-color="#e8656d"/>
<stop offset="0.125" stop-color="#eb787f"/>
<stop offset="0.167" stop-color="#ee8b91"/>
<stop offset="0.208" stop-color="#f19da3"/>
<stop offset="0.250" stop-color="#f3b0b4"/>
<stop offset="0.292" stop-color="#f6c3c6"/>
<stop offset="0.333" stop-color="#f9d6d8"/>
<stop offset="0.375" stop-color="#fce8e9"/>
<stop offset="0.417" stop-color="#fefbfb"/>
<stop offset="0.458" stop-color="#f1f1f8"/>
<stop offset="0.500" stop-color="#e0e0f0"/>
<stop offset="0.542" stop-color="#d0d1ea"/>
<stop offset="0.583" stop-color="#b7b9de"/>
<stop offset="0.625" stop-color="#9b9fd1"/>
<stop offset="0.667" stop-color="#8489c8"/>
<stop offset="0.708" stop-color="#7178c0"/>
<stop offset="0.750" stop-color="#626bb8"/>
<stop offset="0.792" stop-color="#5561b1"/>
<stop offset="0.833" stop-color="#4b5aac"/>
<stop offset="0.875" stop-color="#4054a7"/>
<stop offset="0.917" stop-color="#3950a4"/>
<stop offset="0.958" stop-color="#314da2"/>
<stop offset="1.000" stop-color="#2a4a9f"/>
</linearGradient></defs>
<rect x="0" y="15.2" width="7.9" height="71.8" fill="url(#cba)"/>
<line x1="8.2" y1="28.00" x2="10.2" y2="28.00" stroke="#555" stroke-width="0.7"/>
<text x="13.40" y="30.90" font-size="8.2" fill="#333" stroke="#333" stroke-width="0.16">5</text>
<line x1="8.2" y1="45.77" x2="10.2" y2="45.77" stroke="#555" stroke-width="0.7"/>
<text x="13.40" y="48.67" font-size="8.2" fill="#333" stroke="#333" stroke-width="0.16">0</text>
<line x1="8.2" y1="63.54" x2="10.2" y2="63.54" stroke="#555" stroke-width="0.7"/>
<text x="13.40" y="66.44" font-size="8.2" fill="#333" stroke="#333" stroke-width="0.16">−5</text>
<line x1="8.2" y1="81.31" x2="10.2" y2="81.31" stroke="#555" stroke-width="0.7"/>
<text x="13.40" y="84.21" font-size="8.2" fill="#333" stroke="#333" stroke-width="0.16">−10</text>
<text x="11.20" y="161.40" font-size="9.3" fill="#333" text-anchor="middle" transform="rotate(-90.00 11.20 161.40)" stroke="#333" stroke-width="0.16">log<tspan font-size="6.7" dy="2">2</tspan><tspan dy="-2">(mono-culture/fresh media)</tspan></text>
<text x="0.00" y="361.70" font-size="13.5" fill="#000" font-weight="bold" stroke="#000" stroke-width="0.35">b</text>
<line x1="46.6" y1="371.6" x2="46.6" y2="554.3" stroke="#6b6b6b" stroke-width="0.9"/>
<line x1="46.6" y1="554.3" x2="229.8" y2="554.3" stroke="#6b6b6b" stroke-width="0.9"/>
<line x1="43.20" y1="553.40" x2="46.6" y2="553.40" stroke="#6b6b6b" stroke-width="0.75"/>
<line x1="44.40" y1="540.91" x2="46.6" y2="540.91" stroke="#6b6b6b" stroke-width="0.75"/>
<line x1="44.40" y1="533.60" x2="46.6" y2="533.60" stroke="#6b6b6b" stroke-width="0.75"/>
<line x1="44.40" y1="528.41" x2="46.6" y2="528.41" stroke="#6b6b6b" stroke-width="0.75"/>
<line x1="44.40" y1="524.39" x2="46.6" y2="524.39" stroke="#6b6b6b" stroke-width="0.75"/>
<line x1="44.40" y1="521.11" x2="46.6" y2="521.11" stroke="#6b6b6b" stroke-width="0.75"/>
<line x1="44.40" y1="518.33" x2="46.6" y2="518.33" stroke="#6b6b6b" stroke-width="0.75"/>
<line x1="44.40" y1="515.92" x2="46.6" y2="515.92" stroke="#6b6b6b" stroke-width="0.75"/>
<line x1="44.40" y1="513.80" x2="46.6" y2="513.80" stroke="#6b6b6b" stroke-width="0.75"/>
<text x="40.0" y="555.70" font-size="7.6" fill="#333" text-anchor="end">10<tspan font-size="5.6" dy="-3.2">−3</tspan></text>
<line x1="43.20" y1="511.90" x2="46.6" y2="511.90" stroke="#6b6b6b" stroke-width="0.75"/>
<line x1="44.40" y1="499.41" x2="46.6" y2="499.41" stroke="#6b6b6b" stroke-width="0.75"/>
<line x1="44.40" y1="492.10" x2="46.6" y2="492.10" stroke="#6b6b6b" stroke-width="0.75"/>
<line x1="44.40" y1="486.91" x2="46.6" y2="486.91" stroke="#6b6b6b" stroke-width="0.75"/>
<line x1="44.40" y1="482.89" x2="46.6" y2="482.89" stroke="#6b6b6b" stroke-width="0.75"/>
<line x1="44.40" y1="479.61" x2="46.6" y2="479.61" stroke="#6b6b6b" stroke-width="0.75"/>
<line x1="44.40" y1="476.83" x2="46.6" y2="476.83" stroke="#6b6b6b" stroke-width="0.75"/>
<line x1="44.40" y1="474.42" x2="46.6" y2="474.42" stroke="#6b6b6b" stroke-width="0.75"/>
<line x1="44.40" y1="472.30" x2="46.6" y2="472.30" stroke="#6b6b6b" stroke-width="0.75"/>
<text x="40.0" y="514.20" font-size="7.6" fill="#333" text-anchor="end">10<tspan font-size="5.6" dy="-3.2">−2</tspan></text>
<line x1="43.20" y1="470.40" x2="46.6" y2="470.40" stroke="#6b6b6b" stroke-width="0.75"/>
<line x1="44.40" y1="457.91" x2="46.6" y2="457.91" stroke="#6b6b6b" stroke-width="0.75"/>
<line x1="44.40" y1="450.60" x2="46.6" y2="450.60" stroke="#6b6b6b" stroke-width="0.75"/>
<line x1="44.40" y1="445.41" x2="46.6" y2="445.41" stroke="#6b6b6b" stroke-width="0.75"/>
<line x1="44.40" y1="441.39" x2="46.6" y2="441.39" stroke="#6b6b6b" stroke-width="0.75"/>
<line x1="44.40" y1="438.11" x2="46.6" y2="438.11" stroke="#6b6b6b" stroke-width="0.75"/>
<line x1="44.40" y1="435.33" x2="46.6" y2="435.33" stroke="#6b6b6b" stroke-width="0.75"/>
<line x1="44.40" y1="432.92" x2="46.6" y2="432.92" stroke="#6b6b6b" stroke-width="0.75"/>
<line x1="44.40" y1="430.80" x2="46.6" y2="430.80" stroke="#6b6b6b" stroke-width="0.75"/>
<text x="40.0" y="472.70" font-size="7.6" fill="#333" text-anchor="end">10<tspan font-size="5.6" dy="-3.2">−1</tspan></text>
<line x1="43.20" y1="428.90" x2="46.6" y2="428.90" stroke="#6b6b6b" stroke-width="0.75"/>
<line x1="44.40" y1="416.41" x2="46.6" y2="416.41" stroke="#6b6b6b" stroke-width="0.75"/>
<line x1="44.40" y1="409.10" x2="46.6" y2="409.10" stroke="#6b6b6b" stroke-width="0.75"/>
<line x1="44.40" y1="403.91" x2="46.6" y2="403.91" stroke="#6b6b6b" stroke-width="0.75"/>
<line x1="44.40" y1="399.89" x2="46.6" y2="399.89" stroke="#6b6b6b" stroke-width="0.75"/>
<line x1="44.40" y1="396.61" x2="46.6" y2="396.61" stroke="#6b6b6b" stroke-width="0.75"/>
<line x1="44.40" y1="393.83" x2="46.6" y2="393.83" stroke="#6b6b6b" stroke-width="0.75"/>
<line x1="44.40" y1="391.42" x2="46.6" y2="391.42" stroke="#6b6b6b" stroke-width="0.75"/>
<line x1="44.40" y1="389.30" x2="46.6" y2="389.30" stroke="#6b6b6b" stroke-width="0.75"/>
<text x="40.0" y="431.20" font-size="7.6" fill="#333" text-anchor="end">10<tspan font-size="5.6" dy="-3.2">0</tspan></text>
<line x1="43.20" y1="387.40" x2="46.6" y2="387.40" stroke="#6b6b6b" stroke-width="0.75"/>
<line x1="44.40" y1="374.91" x2="46.6" y2="374.91" stroke="#6b6b6b" stroke-width="0.75"/>
<text x="40.0" y="389.70" font-size="7.6" fill="#333" text-anchor="end">10<tspan font-size="5.6" dy="-3.2">1</tspan></text>
<line x1="46.60" y1="554.3" x2="46.60" y2="557.70" stroke="#6b6b6b" stroke-width="0.75"/>
<line x1="62.71" y1="554.3" x2="62.71" y2="556.50" stroke="#6b6b6b" stroke-width="0.75"/>
<line x1="72.13" y1="554.3" x2="72.13" y2="556.50" stroke="#6b6b6b" stroke-width="0.75"/>
<line x1="78.81" y1="554.3" x2="78.81" y2="556.50" stroke="#6b6b6b" stroke-width="0.75"/>
<line x1="83.99" y1="554.3" x2="83.99" y2="556.50" stroke="#6b6b6b" stroke-width="0.75"/>
<line x1="88.23" y1="554.3" x2="88.23" y2="556.50" stroke="#6b6b6b" stroke-width="0.75"/>
<line x1="91.81" y1="554.3" x2="91.81" y2="556.50" stroke="#6b6b6b" stroke-width="0.75"/>
<line x1="94.92" y1="554.3" x2="94.92" y2="556.50" stroke="#6b6b6b" stroke-width="0.75"/>
<line x1="97.65" y1="554.3" x2="97.65" y2="556.50" stroke="#6b6b6b" stroke-width="0.75"/>
<text x="45.60" y="568.6" font-size="7.6" fill="#333" text-anchor="middle">10<tspan font-size="5.6" dy="-3.2">−2</tspan></text>
<line x1="100.10" y1="554.3" x2="100.10" y2="557.70" stroke="#6b6b6b" stroke-width="0.75"/>
<line x1="116.21" y1="554.3" x2="116.21" y2="556.50" stroke="#6b6b6b" stroke-width="0.75"/>
<line x1="125.63" y1="554.3" x2="125.63" y2="556.50" stroke="#6b6b6b" stroke-width="0.75"/>
<line x1="132.31" y1="554.3" x2="132.31" y2="556.50" stroke="#6b6b6b" stroke-width="0.75"/>
<line x1="137.49" y1="554.3" x2="137.49" y2="556.50" stroke="#6b6b6b" stroke-width="0.75"/>
<line x1="141.73" y1="554.3" x2="141.73" y2="556.50" stroke="#6b6b6b" stroke-width="0.75"/>
<line x1="145.31" y1="554.3" x2="145.31" y2="556.50" stroke="#6b6b6b" stroke-width="0.75"/>
<line x1="148.42" y1="554.3" x2="148.42" y2="556.50" stroke="#6b6b6b" stroke-width="0.75"/>
<line x1="151.15" y1="554.3" x2="151.15" y2="556.50" stroke="#6b6b6b" stroke-width="0.75"/>
<text x="99.10" y="568.6" font-size="7.6" fill="#333" text-anchor="middle">10<tspan font-size="5.6" dy="-3.2">−1</tspan></text>
<line x1="153.60" y1="554.3" x2="153.60" y2="557.70" stroke="#6b6b6b" stroke-width="0.75"/>
<line x1="169.71" y1="554.3" x2="169.71" y2="556.50" stroke="#6b6b6b" stroke-width="0.75"/>
<line x1="179.13" y1="554.3" x2="179.13" y2="556.50" stroke="#6b6b6b" stroke-width="0.75"/>
<line x1="185.81" y1="554.3" x2="185.81" y2="556.50" stroke="#6b6b6b" stroke-width="0.75"/>
<line x1="190.99" y1="554.3" x2="190.99" y2="556.50" stroke="#6b6b6b" stroke-width="0.75"/>
<line x1="195.23" y1="554.3" x2="195.23" y2="556.50" stroke="#6b6b6b" stroke-width="0.75"/>
<line x1="198.81" y1="554.3" x2="198.81" y2="556.50" stroke="#6b6b6b" stroke-width="0.75"/>
<line x1="201.92" y1="554.3" x2="201.92" y2="556.50" stroke="#6b6b6b" stroke-width="0.75"/>
<line x1="204.65" y1="554.3" x2="204.65" y2="556.50" stroke="#6b6b6b" stroke-width="0.75"/>
<text x="152.60" y="568.6" font-size="7.6" fill="#333" text-anchor="middle">10<tspan font-size="5.6" dy="-3.2">0</tspan></text>
<line x1="207.10" y1="554.3" x2="207.10" y2="557.70" stroke="#6b6b6b" stroke-width="0.75"/>
<line x1="223.21" y1="554.3" x2="223.21" y2="556.50" stroke="#6b6b6b" stroke-width="0.75"/>
<text x="206.10" y="568.6" font-size="7.6" fill="#333" text-anchor="middle">10<tspan font-size="5.6" dy="-3.2">1</tspan></text>
<text x="137.50" y="584.60" font-size="9" fill="#333" text-anchor="middle" stroke="#333" stroke-width="0.16">Expected mean abundance (mM)</text>
<text x="18.40" y="463.70" font-size="9" fill="#333" text-anchor="middle" transform="rotate(-90.00 18.40 463.70)" stroke="#333" stroke-width="0.16">Observed mean abundance (mM)</text>
<g stroke="#fff" stroke-width="0.35"><circle cx="115.0" cy="470.5" r="1.2" fill="#3a3a3a"/><circle cx="189.9" cy="396.9" r="1.2" fill="#3a3a3a"/><circle cx="183.7" cy="415.1" r="1.2" fill="#3a3a3a"/><circle cx="158.6" cy="492.4" r="1.2" fill="#e0222b"/><circle cx="102.5" cy="482.1" r="1.2" fill="#3a3a3a"/><circle cx="212.8" cy="383.8" r="1.2" fill="#3a3a3a"/><circle cx="200.6" cy="387.9" r="1.2" fill="#3a3a3a"/><circle cx="167.4" cy="416.7" r="1.2" fill="#3a3a3a"/><circle cx="202.9" cy="419.4" r="1.2" fill="#e0222b"/><circle cx="181.8" cy="442.1" r="1.2" fill="#e0222b"/><circle cx="145.8" cy="443.6" r="1.2" fill="#3a3a3a"/><circle cx="192.9" cy="399.5" r="1.2" fill="#3a3a3a"/><circle cx="124.8" cy="452.8" r="1.2" fill="#3a3a3a"/><circle cx="156.0" cy="425.3" r="1.2" fill="#3a3a3a"/><circle cx="180.6" cy="407.7" r="1.2" fill="#3a3a3a"/><circle cx="146.3" cy="456.1" r="1.2" fill="#3a3a3a"/><circle cx="158.1" cy="418.7" r="1.2" fill="#3a3a3a"/><circle cx="53.9" cy="535.2" r="1.2" fill="#3a3a3a"/><circle cx="143.5" cy="434.2" r="1.2" fill="#3a3a3a"/><circle cx="190.6" cy="397.7" r="1.2" fill="#3a3a3a"/><circle cx="164.8" cy="459.6" r="1.2" fill="#e0222b"/><circle cx="171.1" cy="416.5" r="1.2" fill="#3a3a3a"/><circle cx="167.4" cy="408.9" r="1.2" fill="#3a3a3a"/><circle cx="181.5" cy="407.9" r="1.2" fill="#3a3a3a"/><circle cx="61.7" cy="518.2" r="1.2" fill="#3a3a3a"/><circle cx="153.6" cy="426.2" r="1.2" fill="#3a3a3a"/><circle cx="167.3" cy="418.8" r="1.2" fill="#3a3a3a"/><circle cx="174.2" cy="458.4" r="1.2" fill="#e0222b"/><circle cx="198.8" cy="388.8" r="1.2" fill="#3a3a3a"/><circle cx="171.8" cy="437.5" r="1.2" fill="#e0222b"/><circle cx="147.9" cy="497.1" r="1.2" fill="#3a3a3a"/><circle cx="129.3" cy="501.6" r="1.2" fill="#3a3a3a"/><circle cx="186.8" cy="407.1" r="1.2" fill="#3a3a3a"/><circle cx="129.1" cy="455.8" r="1.2" fill="#3a3a3a"/><circle cx="50.3" cy="504.9" r="1.2" fill="#3a3a3a"/><circle cx="135.9" cy="475.5" r="1.2" fill="#3a3a3a"/><circle cx="162.5" cy="521.5" r="1.2" fill="#e0222b"/><circle cx="129.1" cy="496.0" r="1.2" fill="#3a3a3a"/><circle cx="156.2" cy="422.0" r="1.2" fill="#3a3a3a"/><circle cx="100.1" cy="509.4" r="1.2" fill="#3a3a3a"/><circle cx="169.7" cy="420.7" r="1.2" fill="#3a3a3a"/><circle cx="212.8" cy="378.7" r="1.2" fill="#3a3a3a"/><circle cx="212.3" cy="392.0" r="1.2" fill="#3a3a3a"/><circle cx="210.4" cy="394.8" r="1.2" fill="#3a3a3a"/><circle cx="159.7" cy="493.4" r="1.2" fill="#3a3a3a"/><circle cx="184.9" cy="423.0" r="1.2" fill="#e0222b"/><circle cx="192.6" cy="504.0" r="1.2" fill="#e0222b"/><circle cx="124.7" cy="457.4" r="1.2" fill="#3a3a3a"/><circle cx="179.1" cy="408.3" r="1.2" fill="#3a3a3a"/><circle cx="140.1" cy="445.7" r="1.2" fill="#3a3a3a"/><circle cx="111.0" cy="462.8" r="1.2" fill="#3a3a3a"/><circle cx="171.9" cy="419.6" r="1.2" fill="#3a3a3a"/><circle cx="166.3" cy="424.9" r="1.2" fill="#3a3a3a"/><circle cx="178.6" cy="549.0" r="1.2" fill="#e0222b"/><circle cx="162.5" cy="417.3" r="1.2" fill="#3a3a3a"/><circle cx="112.2" cy="463.0" r="1.2" fill="#3a3a3a"/><circle cx="119.1" cy="465.8" r="1.2" fill="#3a3a3a"/><circle cx="195.3" cy="453.6" r="1.2" fill="#e0222b"/><circle cx="136.3" cy="498.0" r="1.2" fill="#3a3a3a"/><circle cx="212.2" cy="387.5" r="1.2" fill="#3a3a3a"/><circle cx="169.7" cy="420.3" r="1.2" fill="#3a3a3a"/><circle cx="198.0" cy="395.2" r="1.2" fill="#3a3a3a"/><circle cx="120.7" cy="453.2" r="1.2" fill="#3a3a3a"/><circle cx="177.3" cy="478.8" r="1.2" fill="#e0222b"/><circle cx="116.2" cy="457.5" r="1.2" fill="#3a3a3a"/><circle cx="132.7" cy="444.9" r="1.2" fill="#3a3a3a"/><circle cx="159.9" cy="510.8" r="1.2" fill="#e0222b"/><circle cx="200.5" cy="397.3" r="1.2" fill="#3a3a3a"/><circle cx="200.2" cy="388.2" r="1.2" fill="#3a3a3a"/><circle cx="134.6" cy="471.3" r="1.2" fill="#3a3a3a"/><circle cx="206.1" cy="386.7" r="1.2" fill="#3a3a3a"/><circle cx="93.1" cy="488.8" r="1.2" fill="#3a3a3a"/><circle cx="114.0" cy="460.2" r="1.2" fill="#3a3a3a"/><circle cx="142.3" cy="512.2" r="1.2" fill="#3a3a3a"/><circle cx="114.2" cy="463.5" r="1.2" fill="#3a3a3a"/><circle cx="137.3" cy="435.0" r="1.2" fill="#3a3a3a"/><circle cx="81.5" cy="496.0" r="1.2" fill="#3a3a3a"/><circle cx="149.1" cy="437.2" r="1.2" fill="#3a3a3a"/><circle cx="201.2" cy="397.8" r="1.2" fill="#3a3a3a"/><circle cx="156.2" cy="450.3" r="1.2" fill="#e0222b"/><circle cx="119.5" cy="482.7" r="1.2" fill="#3a3a3a"/><circle cx="162.2" cy="553.2" r="1.2" fill="#e0222b"/><circle cx="141.0" cy="476.5" r="1.2" fill="#3a3a3a"/><circle cx="152.3" cy="428.7" r="1.2" fill="#3a3a3a"/><circle cx="194.3" cy="451.7" r="1.2" fill="#e0222b"/><circle cx="151.9" cy="421.2" r="1.2" fill="#3a3a3a"/><circle cx="195.3" cy="394.0" r="1.2" fill="#3a3a3a"/><circle cx="180.9" cy="407.0" r="1.2" fill="#3a3a3a"/><circle cx="117.7" cy="477.9" r="1.2" fill="#3a3a3a"/><circle cx="160.6" cy="486.3" r="1.2" fill="#e0222b"/><circle cx="90.6" cy="491.3" r="1.2" fill="#3a3a3a"/><circle cx="194.8" cy="473.3" r="1.2" fill="#e0222b"/><circle cx="152.7" cy="421.7" r="1.2" fill="#3a3a3a"/><circle cx="171.6" cy="509.4" r="1.2" fill="#3a3a3a"/><circle cx="122.4" cy="471.9" r="1.2" fill="#3a3a3a"/><circle cx="49.3" cy="526.0" r="1.2" fill="#3a3a3a"/><circle cx="176.8" cy="479.3" r="1.2" fill="#e0222b"/><circle cx="149.1" cy="506.6" r="1.2" fill="#3a3a3a"/><circle cx="119.9" cy="471.2" r="1.2" fill="#3a3a3a"/><circle cx="167.9" cy="417.8" r="1.2" fill="#3a3a3a"/><circle cx="159.4" cy="441.0" r="1.2" fill="#e0222b"/><circle cx="154.0" cy="494.1" r="1.2" fill="#e0222b"/><circle cx="174.4" cy="409.4" r="1.2" fill="#3a3a3a"/><circle cx="129.0" cy="445.2" r="1.2" fill="#3a3a3a"/><circle cx="127.5" cy="444.9" r="1.2" fill="#3a3a3a"/><circle cx="190.0" cy="403.1" r="1.2" fill="#3a3a3a"/><circle cx="199.7" cy="478.4" r="1.2" fill="#e0222b"/><circle cx="202.1" cy="390.7" r="1.2" fill="#3a3a3a"/><circle cx="176.7" cy="407.3" r="1.2" fill="#3a3a3a"/><circle cx="162.2" cy="422.7" r="1.2" fill="#3a3a3a"/><circle cx="135.7" cy="440.9" r="1.2" fill="#3a3a3a"/><circle cx="180.5" cy="409.5" r="1.2" fill="#3a3a3a"/><circle cx="134.3" cy="451.6" r="1.2" fill="#3a3a3a"/><circle cx="163.1" cy="421.8" r="1.2" fill="#3a3a3a"/><circle cx="152.3" cy="425.9" r="1.2" fill="#3a3a3a"/><circle cx="177.3" cy="404.8" r="1.2" fill="#3a3a3a"/><circle cx="185.9" cy="449.9" r="1.2" fill="#e0222b"/><circle cx="115.5" cy="504.9" r="1.2" fill="#3a3a3a"/><circle cx="173.3" cy="417.5" r="1.2" fill="#3a3a3a"/><circle cx="215.9" cy="385.3" r="1.2" fill="#3a3a3a"/><circle cx="190.2" cy="411.0" r="1.2" fill="#e0222b"/><circle cx="140.0" cy="441.2" r="1.2" fill="#3a3a3a"/><circle cx="198.0" cy="398.7" r="1.2" fill="#3a3a3a"/><circle cx="145.2" cy="489.1" r="1.2" fill="#3a3a3a"/><circle cx="169.3" cy="477.6" r="1.2" fill="#e0222b"/><circle cx="198.1" cy="434.3" r="1.2" fill="#e0222b"/><circle cx="114.8" cy="469.8" r="1.2" fill="#3a3a3a"/><circle cx="128.9" cy="514.1" r="1.2" fill="#3a3a3a"/><circle cx="184.8" cy="480.0" r="1.2" fill="#3a3a3a"/><circle cx="154.4" cy="474.0" r="1.2" fill="#3a3a3a"/><circle cx="198.0" cy="430.8" r="1.2" fill="#e0222b"/><circle cx="137.4" cy="515.5" r="1.2" fill="#3a3a3a"/><circle cx="173.6" cy="409.3" r="1.2" fill="#3a3a3a"/><circle cx="172.7" cy="420.8" r="1.2" fill="#3a3a3a"/><circle cx="168.6" cy="421.4" r="1.2" fill="#3a3a3a"/><circle cx="109.3" cy="497.4" r="1.2" fill="#3a3a3a"/><circle cx="133.9" cy="436.2" r="1.2" fill="#3a3a3a"/><circle cx="122.8" cy="514.5" r="1.2" fill="#3a3a3a"/><circle cx="181.7" cy="409.1" r="1.2" fill="#3a3a3a"/><circle cx="97.4" cy="490.3" r="1.2" fill="#3a3a3a"/><circle cx="171.5" cy="420.4" r="1.2" fill="#3a3a3a"/><circle cx="200.4" cy="434.1" r="1.2" fill="#e0222b"/><circle cx="124.6" cy="442.8" r="1.2" fill="#3a3a3a"/><circle cx="208.7" cy="388.8" r="1.2" fill="#3a3a3a"/><circle cx="147.8" cy="513.1" r="1.2" fill="#3a3a3a"/><circle cx="193.5" cy="401.2" r="1.2" fill="#3a3a3a"/><circle cx="164.5" cy="526.4" r="1.2" fill="#e0222b"/><circle cx="187.3" cy="404.4" r="1.2" fill="#3a3a3a"/><circle cx="159.1" cy="440.9" r="1.2" fill="#3a3a3a"/><circle cx="173.0" cy="416.9" r="1.2" fill="#3a3a3a"/><circle cx="160.5" cy="524.9" r="1.2" fill="#3a3a3a"/><circle cx="76.3" cy="427.5" r="1.2" fill="#e0222b"/><circle cx="78.7" cy="503.5" r="1.2" fill="#3a3a3a"/><circle cx="168.4" cy="417.1" r="1.2" fill="#3a3a3a"/><circle cx="178.1" cy="407.4" r="1.2" fill="#3a3a3a"/><circle cx="173.7" cy="409.3" r="1.2" fill="#3a3a3a"/><circle cx="193.3" cy="505.1" r="1.2" fill="#e0222b"/><circle cx="101.3" cy="487.0" r="1.2" fill="#3a3a3a"/><circle cx="154.6" cy="505.9" r="1.2" fill="#e0222b"/><circle cx="139.5" cy="438.9" r="1.2" fill="#3a3a3a"/><circle cx="134.4" cy="431.2" r="1.2" fill="#3a3a3a"/><circle cx="129.5" cy="501.4" r="1.2" fill="#3a3a3a"/><circle cx="174.7" cy="415.3" r="1.2" fill="#3a3a3a"/><circle cx="116.2" cy="470.1" r="1.2" fill="#3a3a3a"/><circle cx="215.7" cy="383.2" r="1.2" fill="#3a3a3a"/><circle cx="189.2" cy="420.9" r="1.2" fill="#e0222b"/><circle cx="189.7" cy="420.8" r="1.2" fill="#e0222b"/><circle cx="182.3" cy="403.6" r="1.2" fill="#3a3a3a"/><circle cx="144.7" cy="438.4" r="1.2" fill="#3a3a3a"/><circle cx="205.4" cy="384.7" r="1.2" fill="#3a3a3a"/><circle cx="191.2" cy="403.0" r="1.2" fill="#3a3a3a"/><circle cx="132.6" cy="446.1" r="1.2" fill="#3a3a3a"/><circle cx="189.1" cy="401.2" r="1.2" fill="#3a3a3a"/><circle cx="193.6" cy="482.5" r="1.2" fill="#e0222b"/><circle cx="170.8" cy="415.5" r="1.2" fill="#3a3a3a"/><circle cx="142.6" cy="454.1" r="1.2" fill="#3a3a3a"/><circle cx="174.4" cy="475.8" r="1.2" fill="#e0222b"/><circle cx="178.8" cy="486.7" r="1.2" fill="#e0222b"/><circle cx="162.5" cy="410.4" r="1.2" fill="#3a3a3a"/><circle cx="121.4" cy="461.8" r="1.2" fill="#3a3a3a"/><circle cx="187.4" cy="405.9" r="1.2" fill="#3a3a3a"/><circle cx="138.4" cy="461.9" r="1.2" fill="#3a3a3a"/><circle cx="148.2" cy="432.9" r="1.2" fill="#3a3a3a"/><circle cx="112.4" cy="455.9" r="1.2" fill="#3a3a3a"/><circle cx="125.9" cy="455.5" r="1.2" fill="#3a3a3a"/><circle cx="207.3" cy="385.7" r="1.2" fill="#3a3a3a"/><circle cx="131.4" cy="447.9" r="1.2" fill="#3a3a3a"/><circle cx="151.5" cy="424.1" r="1.2" fill="#3a3a3a"/><circle cx="113.1" cy="450.8" r="1.2" fill="#3a3a3a"/><circle cx="193.2" cy="393.2" r="1.2" fill="#3a3a3a"/><circle cx="196.6" cy="399.0" r="1.2" fill="#3a3a3a"/><circle cx="193.3" cy="399.9" r="1.2" fill="#3a3a3a"/><circle cx="141.1" cy="443.9" r="1.2" fill="#3a3a3a"/><circle cx="169.6" cy="422.1" r="1.2" fill="#3a3a3a"/><circle cx="190.8" cy="401.9" r="1.2" fill="#3a3a3a"/><circle cx="116.2" cy="462.4" r="1.2" fill="#3a3a3a"/><circle cx="173.7" cy="489.2" r="1.2" fill="#e0222b"/><circle cx="144.3" cy="490.0" r="1.2" fill="#3a3a3a"/><circle cx="177.2" cy="459.3" r="1.2" fill="#e0222b"/><circle cx="166.2" cy="420.0" r="1.2" fill="#3a3a3a"/><circle cx="178.4" cy="405.7" r="1.2" fill="#3a3a3a"/><circle cx="101.0" cy="505.7" r="1.2" fill="#3a3a3a"/><circle cx="147.5" cy="494.2" r="1.2" fill="#3a3a3a"/><circle cx="95.4" cy="472.6" r="1.2" fill="#3a3a3a"/><circle cx="139.8" cy="431.7" r="1.2" fill="#3a3a3a"/><circle cx="114.9" cy="510.2" r="1.2" fill="#3a3a3a"/><circle cx="183.1" cy="500.4" r="1.2" fill="#e0222b"/><circle cx="156.0" cy="425.7" r="1.2" fill="#3a3a3a"/><circle cx="87.7" cy="523.2" r="1.2" fill="#3a3a3a"/><circle cx="123.8" cy="470.3" r="1.2" fill="#3a3a3a"/><circle cx="183.4" cy="495.4" r="1.2" fill="#e0222b"/><circle cx="86.7" cy="479.5" r="1.2" fill="#3a3a3a"/><circle cx="128.6" cy="448.5" r="1.2" fill="#3a3a3a"/><circle cx="117.0" cy="448.0" r="1.2" fill="#3a3a3a"/><circle cx="201.3" cy="398.2" r="1.2" fill="#3a3a3a"/><circle cx="130.5" cy="460.4" r="1.2" fill="#3a3a3a"/><circle cx="120.4" cy="469.3" r="1.2" fill="#3a3a3a"/><circle cx="216.0" cy="374.9" r="1.2" fill="#3a3a3a"/><circle cx="133.5" cy="494.2" r="1.2" fill="#3a3a3a"/><circle cx="142.9" cy="516.4" r="1.2" fill="#3a3a3a"/><circle cx="117.3" cy="449.6" r="1.2" fill="#3a3a3a"/><circle cx="102.4" cy="459.9" r="1.2" fill="#3a3a3a"/><circle cx="169.9" cy="481.8" r="1.2" fill="#e0222b"/><circle cx="169.8" cy="422.1" r="1.2" fill="#3a3a3a"/><circle cx="86.8" cy="500.8" r="1.2" fill="#3a3a3a"/><circle cx="179.2" cy="475.7" r="1.2" fill="#3a3a3a"/><circle cx="178.8" cy="415.0" r="1.2" fill="#3a3a3a"/><circle cx="148.2" cy="439.2" r="1.2" fill="#3a3a3a"/><circle cx="142.3" cy="440.1" r="1.2" fill="#3a3a3a"/><circle cx="126.2" cy="452.9" r="1.2" fill="#3a3a3a"/><circle cx="204.9" cy="391.0" r="1.2" fill="#3a3a3a"/><circle cx="130.7" cy="475.6" r="1.2" fill="#3a3a3a"/><circle cx="191.2" cy="401.6" r="1.2" fill="#3a3a3a"/><circle cx="181.6" cy="412.1" r="1.2" fill="#3a3a3a"/><circle cx="110.4" cy="498.7" r="1.2" fill="#3a3a3a"/><circle cx="154.9" cy="508.1" r="1.2" fill="#3a3a3a"/><circle cx="119.6" cy="453.6" r="1.2" fill="#3a3a3a"/><circle cx="173.2" cy="476.9" r="1.2" fill="#e0222b"/><circle cx="137.0" cy="503.8" r="1.2" fill="#3a3a3a"/><circle cx="131.6" cy="446.7" r="1.2" fill="#3a3a3a"/><circle cx="135.4" cy="489.7" r="1.2" fill="#3a3a3a"/><circle cx="201.2" cy="393.5" r="1.2" fill="#3a3a3a"/><circle cx="124.9" cy="488.6" r="1.2" fill="#3a3a3a"/><circle cx="176.6" cy="471.4" r="1.2" fill="#e0222b"/><circle cx="186.1" cy="500.3" r="1.2" fill="#e0222b"/><circle cx="125.0" cy="471.9" r="1.2" fill="#3a3a3a"/><circle cx="167.7" cy="413.4" r="1.2" fill="#3a3a3a"/><circle cx="126.1" cy="453.2" r="1.2" fill="#3a3a3a"/><circle cx="172.2" cy="416.7" r="1.2" fill="#3a3a3a"/><circle cx="172.9" cy="509.6" r="1.2" fill="#e0222b"/><circle cx="159.1" cy="422.2" r="1.2" fill="#3a3a3a"/><circle cx="146.9" cy="434.2" r="1.2" fill="#3a3a3a"/><circle cx="198.0" cy="392.4" r="1.2" fill="#3a3a3a"/><circle cx="129.9" cy="476.7" r="1.2" fill="#3a3a3a"/><circle cx="183.9" cy="504.2" r="1.2" fill="#e0222b"/><circle cx="142.0" cy="435.3" r="1.2" fill="#3a3a3a"/><circle cx="139.8" cy="446.8" r="1.2" fill="#3a3a3a"/><circle cx="148.7" cy="499.7" r="1.2" fill="#3a3a3a"/><circle cx="127.2" cy="448.4" r="1.2" fill="#3a3a3a"/><circle cx="171.3" cy="410.1" r="1.2" fill="#3a3a3a"/><circle cx="176.7" cy="410.2" r="1.2" fill="#3a3a3a"/><circle cx="166.3" cy="418.3" r="1.2" fill="#3a3a3a"/><circle cx="150.6" cy="435.3" r="1.2" fill="#3a3a3a"/><circle cx="166.6" cy="409.7" r="1.2" fill="#3a3a3a"/><circle cx="211.5" cy="380.7" r="1.2" fill="#3a3a3a"/><circle cx="209.3" cy="407.2" r="1.2" fill="#e0222b"/><circle cx="183.2" cy="407.8" r="1.2" fill="#3a3a3a"/><circle cx="204.7" cy="407.2" r="1.2" fill="#e0222b"/><circle cx="168.2" cy="451.0" r="1.2" fill="#e0222b"/><circle cx="57.5" cy="516.4" r="1.2" fill="#3a3a3a"/><circle cx="141.7" cy="488.2" r="1.2" fill="#3a3a3a"/><circle cx="196.3" cy="392.1" r="1.2" fill="#3a3a3a"/><circle cx="189.9" cy="431.4" r="1.2" fill="#e0222b"/><circle cx="186.3" cy="398.7" r="1.2" fill="#3a3a3a"/><circle cx="146.1" cy="428.9" r="1.2" fill="#3a3a3a"/><circle cx="168.2" cy="417.0" r="1.2" fill="#3a3a3a"/><circle cx="171.7" cy="413.9" r="1.2" fill="#3a3a3a"/><circle cx="152.8" cy="427.8" r="1.2" fill="#3a3a3a"/><circle cx="171.5" cy="416.1" r="1.2" fill="#3a3a3a"/><circle cx="184.2" cy="421.3" r="1.2" fill="#e0222b"/><circle cx="169.7" cy="417.5" r="1.2" fill="#3a3a3a"/><circle cx="171.7" cy="419.8" r="1.2" fill="#3a3a3a"/><circle cx="179.4" cy="412.2" r="1.2" fill="#3a3a3a"/><circle cx="181.2" cy="411.8" r="1.2" fill="#3a3a3a"/><circle cx="211.3" cy="380.3" r="1.2" fill="#3a3a3a"/><circle cx="174.9" cy="413.0" r="1.2" fill="#3a3a3a"/><circle cx="98.5" cy="509.6" r="1.2" fill="#3a3a3a"/><circle cx="189.3" cy="398.6" r="1.2" fill="#3a3a3a"/><circle cx="161.3" cy="498.0" r="1.2" fill="#e0222b"/><circle cx="78.6" cy="498.0" r="1.2" fill="#3a3a3a"/><circle cx="116.5" cy="461.6" r="1.2" fill="#3a3a3a"/><circle cx="191.3" cy="404.4" r="1.2" fill="#3a3a3a"/><circle cx="52.8" cy="514.1" r="1.2" fill="#3a3a3a"/><circle cx="212.4" cy="386.8" r="1.2" fill="#3a3a3a"/><circle cx="166.3" cy="495.8" r="1.2" fill="#e0222b"/><circle cx="182.0" cy="410.3" r="1.2" fill="#3a3a3a"/><circle cx="194.2" cy="457.2" r="1.2" fill="#e0222b"/><circle cx="147.9" cy="483.5" r="1.2" fill="#3a3a3a"/><circle cx="146.4" cy="481.5" r="1.2" fill="#3a3a3a"/><circle cx="181.5" cy="452.0" r="1.2" fill="#3a3a3a"/><circle cx="168.5" cy="418.6" r="1.2" fill="#3a3a3a"/><circle cx="188.3" cy="404.6" r="1.2" fill="#3a3a3a"/><circle cx="206.3" cy="386.7" r="1.2" fill="#3a3a3a"/><circle cx="202.4" cy="395.0" r="1.2" fill="#3a3a3a"/><circle cx="59.0" cy="498.7" r="1.2" fill="#3a3a3a"/><circle cx="158.2" cy="523.5" r="1.2" fill="#e0222b"/><circle cx="162.1" cy="422.3" r="1.2" fill="#3a3a3a"/><circle cx="143.2" cy="489.9" r="1.2" fill="#3a3a3a"/><circle cx="193.5" cy="402.2" r="1.2" fill="#3a3a3a"/><circle cx="201.6" cy="395.3" r="1.2" fill="#3a3a3a"/><circle cx="94.2" cy="535.5" r="1.2" fill="#3a3a3a"/><circle cx="179.3" cy="478.3" r="1.2" fill="#e0222b"/><circle cx="195.5" cy="396.4" r="1.2" fill="#3a3a3a"/><circle cx="147.2" cy="494.0" r="1.2" fill="#3a3a3a"/><circle cx="182.6" cy="404.7" r="1.2" fill="#3a3a3a"/><circle cx="212.0" cy="383.2" r="1.2" fill="#3a3a3a"/><circle cx="169.3" cy="418.5" r="1.2" fill="#3a3a3a"/><circle cx="152.5" cy="467.8" r="1.2" fill="#3a3a3a"/><circle cx="79.9" cy="475.7" r="1.2" fill="#3a3a3a"/><circle cx="165.3" cy="427.7" r="1.2" fill="#3a3a3a"/><circle cx="123.0" cy="481.5" r="1.2" fill="#3a3a3a"/><circle cx="176.2" cy="413.8" r="1.2" fill="#3a3a3a"/><circle cx="108.3" cy="478.3" r="1.2" fill="#3a3a3a"/><circle cx="196.9" cy="409.9" r="1.2" fill="#e0222b"/><circle cx="186.9" cy="398.3" r="1.2" fill="#3a3a3a"/><circle cx="168.8" cy="524.6" r="1.2" fill="#3a3a3a"/><circle cx="140.3" cy="437.4" r="1.2" fill="#3a3a3a"/><circle cx="108.3" cy="507.1" r="1.2" fill="#3a3a3a"/><circle cx="92.1" cy="477.9" r="1.2" fill="#3a3a3a"/><circle cx="168.8" cy="411.2" r="1.2" fill="#3a3a3a"/><circle cx="176.2" cy="415.0" r="1.2" fill="#3a3a3a"/><circle cx="202.5" cy="399.4" r="1.2" fill="#e0222b"/><circle cx="170.6" cy="416.9" r="1.2" fill="#3a3a3a"/><circle cx="121.8" cy="449.7" r="1.2" fill="#3a3a3a"/><circle cx="205.4" cy="400.5" r="1.2" fill="#e0222b"/><circle cx="134.7" cy="504.3" r="1.2" fill="#3a3a3a"/><circle cx="200.3" cy="392.5" r="1.2" fill="#3a3a3a"/><circle cx="167.9" cy="419.2" r="1.2" fill="#3a3a3a"/><circle cx="114.4" cy="495.3" r="1.2" fill="#3a3a3a"/><circle cx="202.9" cy="393.2" r="1.2" fill="#3a3a3a"/><circle cx="132.1" cy="512.4" r="1.2" fill="#3a3a3a"/><circle cx="173.3" cy="469.5" r="1.2" fill="#e0222b"/><circle cx="175.7" cy="432.0" r="1.2" fill="#e0222b"/><circle cx="117.2" cy="455.9" r="1.2" fill="#3a3a3a"/><circle cx="197.7" cy="422.3" r="1.2" fill="#e0222b"/><circle cx="128.3" cy="443.5" r="1.2" fill="#3a3a3a"/><circle cx="142.9" cy="427.4" r="1.2" fill="#3a3a3a"/><circle cx="156.6" cy="538.9" r="1.2" fill="#3a3a3a"/><circle cx="119.1" cy="519.6" r="1.2" fill="#3a3a3a"/><circle cx="157.5" cy="521.9" r="1.2" fill="#e0222b"/><circle cx="119.6" cy="493.2" r="1.2" fill="#3a3a3a"/><circle cx="144.1" cy="442.1" r="1.2" fill="#3a3a3a"/><circle cx="175.5" cy="463.8" r="1.2" fill="#e0222b"/><circle cx="147.3" cy="437.4" r="1.2" fill="#3a3a3a"/><circle cx="174.6" cy="409.9" r="1.2" fill="#3a3a3a"/><circle cx="145.6" cy="471.6" r="1.2" fill="#3a3a3a"/><circle cx="108.2" cy="506.8" r="1.2" fill="#3a3a3a"/><circle cx="115.5" cy="504.9" r="1.2" fill="#3a3a3a"/><circle cx="190.6" cy="399.8" r="1.2" fill="#3a3a3a"/><circle cx="177.9" cy="447.6" r="1.2" fill="#3a3a3a"/><circle cx="116.6" cy="491.9" r="1.2" fill="#3a3a3a"/><circle cx="133.4" cy="439.0" r="1.2" fill="#3a3a3a"/><circle cx="111.7" cy="496.6" r="1.2" fill="#3a3a3a"/><circle cx="190.8" cy="403.5" r="1.2" fill="#3a3a3a"/><circle cx="158.9" cy="419.1" r="1.2" fill="#3a3a3a"/><circle cx="128.7" cy="490.1" r="1.2" fill="#3a3a3a"/><circle cx="92.3" cy="518.6" r="1.2" fill="#3a3a3a"/><circle cx="166.8" cy="419.3" r="1.2" fill="#3a3a3a"/><circle cx="185.1" cy="410.4" r="1.2" fill="#3a3a3a"/><circle cx="170.0" cy="413.7" r="1.2" fill="#3a3a3a"/><circle cx="125.9" cy="446.9" r="1.2" fill="#3a3a3a"/><circle cx="192.0" cy="416.9" r="1.2" fill="#e0222b"/><circle cx="119.9" cy="489.3" r="1.2" fill="#3a3a3a"/><circle cx="176.0" cy="487.8" r="1.2" fill="#3a3a3a"/><circle cx="106.4" cy="477.8" r="1.2" fill="#3a3a3a"/><circle cx="161.6" cy="496.4" r="1.2" fill="#e0222b"/><circle cx="52.3" cy="507.0" r="1.2" fill="#3a3a3a"/><circle cx="171.2" cy="410.4" r="1.2" fill="#3a3a3a"/><circle cx="210.4" cy="384.8" r="1.2" fill="#3a3a3a"/><circle cx="132.9" cy="446.5" r="1.2" fill="#3a3a3a"/><circle cx="210.9" cy="382.0" r="1.2" fill="#3a3a3a"/><circle cx="137.5" cy="476.4" r="1.2" fill="#3a3a3a"/><circle cx="174.3" cy="450.0" r="1.2" fill="#3a3a3a"/><circle cx="108.7" cy="506.1" r="1.2" fill="#3a3a3a"/><circle cx="172.4" cy="492.4" r="1.2" fill="#e0222b"/><circle cx="200.8" cy="393.0" r="1.2" fill="#3a3a3a"/><circle cx="202.1" cy="396.8" r="1.2" fill="#3a3a3a"/><circle cx="189.1" cy="400.8" r="1.2" fill="#3a3a3a"/><circle cx="198.4" cy="396.5" r="1.2" fill="#3a3a3a"/><circle cx="185.0" cy="401.2" r="1.2" fill="#3a3a3a"/><circle cx="147.9" cy="437.6" r="1.2" fill="#3a3a3a"/><circle cx="171.5" cy="498.2" r="1.2" fill="#e0222b"/><circle cx="93.9" cy="521.8" r="1.2" fill="#3a3a3a"/><circle cx="170.8" cy="415.4" r="1.2" fill="#3a3a3a"/><circle cx="186.3" cy="447.6" r="1.2" fill="#e0222b"/><circle cx="139.7" cy="439.4" r="1.2" fill="#3a3a3a"/><circle cx="189.2" cy="400.9" r="1.2" fill="#3a3a3a"/><circle cx="125.3" cy="485.0" r="1.2" fill="#3a3a3a"/><circle cx="176.2" cy="413.5" r="1.2" fill="#3a3a3a"/><circle cx="197.7" cy="397.1" r="1.2" fill="#3a3a3a"/><circle cx="165.0" cy="414.7" r="1.2" fill="#3a3a3a"/><circle cx="163.6" cy="495.5" r="1.2" fill="#e0222b"/><circle cx="133.6" cy="447.1" r="1.2" fill="#3a3a3a"/><circle cx="91.0" cy="504.6" r="1.2" fill="#3a3a3a"/><circle cx="129.9" cy="492.3" r="1.2" fill="#3a3a3a"/><circle cx="177.6" cy="404.8" r="1.2" fill="#3a3a3a"/><circle cx="205.4" cy="390.5" r="1.2" fill="#3a3a3a"/><circle cx="208.9" cy="388.7" r="1.2" fill="#3a3a3a"/><circle cx="171.4" cy="451.5" r="1.2" fill="#e0222b"/><circle cx="171.3" cy="509.5" r="1.2" fill="#e0222b"/><circle cx="135.4" cy="509.6" r="1.2" fill="#3a3a3a"/><circle cx="211.7" cy="380.8" r="1.2" fill="#3a3a3a"/><circle cx="215.0" cy="379.8" r="1.2" fill="#3a3a3a"/><circle cx="167.5" cy="420.6" r="1.2" fill="#3a3a3a"/><circle cx="119.1" cy="502.2" r="1.2" fill="#3a3a3a"/><circle cx="171.1" cy="418.1" r="1.2" fill="#3a3a3a"/><circle cx="189.0" cy="413.0" r="1.2" fill="#e0222b"/><circle cx="147.2" cy="439.6" r="1.2" fill="#3a3a3a"/><circle cx="165.0" cy="425.4" r="1.2" fill="#3a3a3a"/><circle cx="177.2" cy="409.0" r="1.2" fill="#3a3a3a"/><circle cx="186.7" cy="406.7" r="1.2" fill="#3a3a3a"/><circle cx="178.9" cy="527.5" r="1.2" fill="#e0222b"/><circle cx="184.6" cy="404.3" r="1.2" fill="#3a3a3a"/><circle cx="146.6" cy="442.8" r="1.2" fill="#3a3a3a"/><circle cx="175.5" cy="426.9" r="1.2" fill="#e0222b"/><circle cx="157.1" cy="428.4" r="1.2" fill="#3a3a3a"/><circle cx="209.4" cy="386.0" r="1.2" fill="#3a3a3a"/><circle cx="133.1" cy="448.7" r="1.2" fill="#3a3a3a"/><circle cx="134.4" cy="509.4" r="1.2" fill="#3a3a3a"/><circle cx="142.7" cy="450.9" r="1.2" fill="#3a3a3a"/><circle cx="120.3" cy="446.0" r="1.2" fill="#3a3a3a"/><circle cx="182.5" cy="428.2" r="1.2" fill="#e0222b"/><circle cx="125.4" cy="455.1" r="1.2" fill="#3a3a3a"/><circle cx="113.4" cy="475.6" r="1.2" fill="#3a3a3a"/><circle cx="183.1" cy="456.1" r="1.2" fill="#e0222b"/><circle cx="140.4" cy="481.5" r="1.2" fill="#3a3a3a"/><circle cx="137.9" cy="445.9" r="1.2" fill="#3a3a3a"/><circle cx="167.0" cy="414.7" r="1.2" fill="#3a3a3a"/><circle cx="170.0" cy="416.8" r="1.2" fill="#3a3a3a"/><circle cx="165.3" cy="419.2" r="1.2" fill="#3a3a3a"/><circle cx="180.5" cy="460.6" r="1.2" fill="#3a3a3a"/><circle cx="211.0" cy="387.5" r="1.2" fill="#3a3a3a"/><circle cx="195.4" cy="390.2" r="1.2" fill="#3a3a3a"/><circle cx="112.8" cy="455.3" r="1.2" fill="#3a3a3a"/><circle cx="167.1" cy="414.2" r="1.2" fill="#3a3a3a"/><circle cx="120.2" cy="502.9" r="1.2" fill="#3a3a3a"/><circle cx="191.8" cy="444.0" r="1.2" fill="#e0222b"/><circle cx="142.7" cy="503.4" r="1.2" fill="#3a3a3a"/><circle cx="145.7" cy="434.3" r="1.2" fill="#3a3a3a"/><circle cx="100.1" cy="485.1" r="1.2" fill="#3a3a3a"/><circle cx="197.7" cy="396.5" r="1.2" fill="#3a3a3a"/><circle cx="130.9" cy="435.5" r="1.2" fill="#3a3a3a"/><circle cx="195.2" cy="412.7" r="1.2" fill="#e0222b"/><circle cx="57.2" cy="505.4" r="1.2" fill="#3a3a3a"/><circle cx="181.1" cy="411.6" r="1.2" fill="#3a3a3a"/><circle cx="160.7" cy="492.6" r="1.2" fill="#e0222b"/><circle cx="161.7" cy="498.7" r="1.2" fill="#3a3a3a"/><circle cx="211.1" cy="379.8" r="1.2" fill="#3a3a3a"/><circle cx="175.9" cy="447.4" r="1.2" fill="#e0222b"/><circle cx="141.6" cy="484.8" r="1.2" fill="#3a3a3a"/><circle cx="202.5" cy="389.2" r="1.2" fill="#3a3a3a"/><circle cx="152.8" cy="435.4" r="1.2" fill="#3a3a3a"/><circle cx="134.8" cy="439.3" r="1.2" fill="#3a3a3a"/><circle cx="140.4" cy="435.7" r="1.2" fill="#3a3a3a"/><circle cx="189.1" cy="405.4" r="1.2" fill="#3a3a3a"/><circle cx="185.7" cy="475.4" r="1.2" fill="#e0222b"/><circle cx="172.3" cy="468.3" r="1.2" fill="#e0222b"/><circle cx="124.8" cy="446.7" r="1.2" fill="#3a3a3a"/><circle cx="140.1" cy="439.1" r="1.2" fill="#3a3a3a"/><circle cx="171.0" cy="411.9" r="1.2" fill="#3a3a3a"/><circle cx="186.8" cy="408.5" r="1.2" fill="#3a3a3a"/><circle cx="162.9" cy="455.9" r="1.2" fill="#e0222b"/><circle cx="143.8" cy="439.4" r="1.2" fill="#3a3a3a"/><circle cx="150.3" cy="471.8" r="1.2" fill="#3a3a3a"/><circle cx="113.4" cy="522.3" r="1.2" fill="#3a3a3a"/><circle cx="156.6" cy="543.7" r="1.2" fill="#e0222b"/><circle cx="174.4" cy="409.1" r="1.2" fill="#3a3a3a"/><circle cx="112.4" cy="476.6" r="1.2" fill="#3a3a3a"/><circle cx="183.1" cy="408.9" r="1.2" fill="#3a3a3a"/><circle cx="172.0" cy="421.2" r="1.2" fill="#3a3a3a"/><circle cx="156.3" cy="443.6" r="1.2" fill="#e0222b"/><circle cx="142.1" cy="508.0" r="1.2" fill="#3a3a3a"/><circle cx="192.6" cy="394.0" r="1.2" fill="#3a3a3a"/><circle cx="129.9" cy="474.9" r="1.2" fill="#3a3a3a"/><circle cx="118.9" cy="470.5" r="1.2" fill="#3a3a3a"/><circle cx="54.4" cy="530.9" r="1.2" fill="#3a3a3a"/><circle cx="204.0" cy="388.7" r="1.2" fill="#3a3a3a"/><circle cx="94.0" cy="503.5" r="1.2" fill="#3a3a3a"/><circle cx="166.1" cy="419.6" r="1.2" fill="#3a3a3a"/><circle cx="139.8" cy="449.1" r="1.2" fill="#3a3a3a"/><circle cx="204.2" cy="391.2" r="1.2" fill="#3a3a3a"/><circle cx="165.6" cy="462.5" r="1.2" fill="#3a3a3a"/><circle cx="177.2" cy="434.4" r="1.2" fill="#e0222b"/><circle cx="179.8" cy="403.4" r="1.2" fill="#3a3a3a"/><circle cx="115.6" cy="441.9" r="1.2" fill="#3a3a3a"/><circle cx="215.5" cy="386.3" r="1.2" fill="#3a3a3a"/><circle cx="194.1" cy="396.9" r="1.2" fill="#3a3a3a"/><circle cx="165.8" cy="428.2" r="1.2" fill="#3a3a3a"/><circle cx="115.7" cy="455.7" r="1.2" fill="#3a3a3a"/><circle cx="76.4" cy="509.4" r="1.2" fill="#3a3a3a"/><circle cx="129.6" cy="501.0" r="1.2" fill="#3a3a3a"/><circle cx="204.8" cy="389.5" r="1.2" fill="#3a3a3a"/><circle cx="194.8" cy="394.2" r="1.2" fill="#3a3a3a"/><circle cx="134.3" cy="437.2" r="1.2" fill="#3a3a3a"/><circle cx="164.4" cy="461.3" r="1.2" fill="#e0222b"/><circle cx="164.3" cy="433.2" r="1.2" fill="#3a3a3a"/><circle cx="112.9" cy="447.8" r="1.2" fill="#3a3a3a"/><circle cx="144.2" cy="472.9" r="1.2" fill="#3a3a3a"/><circle cx="134.6" cy="444.8" r="1.2" fill="#3a3a3a"/><circle cx="194.4" cy="399.6" r="1.2" fill="#3a3a3a"/><circle cx="171.0" cy="412.2" r="1.2" fill="#3a3a3a"/><circle cx="118.0" cy="494.0" r="1.2" fill="#3a3a3a"/><circle cx="157.3" cy="419.1" r="1.2" fill="#3a3a3a"/><circle cx="120.8" cy="457.2" r="1.2" fill="#3a3a3a"/><circle cx="149.2" cy="508.7" r="1.2" fill="#3a3a3a"/><circle cx="92.9" cy="507.2" r="1.2" fill="#3a3a3a"/><circle cx="78.5" cy="498.1" r="1.2" fill="#3a3a3a"/><circle cx="158.5" cy="434.9" r="1.2" fill="#3a3a3a"/><circle cx="126.5" cy="471.2" r="1.2" fill="#3a3a3a"/><circle cx="166.6" cy="422.7" r="1.2" fill="#3a3a3a"/><circle cx="171.6" cy="413.4" r="1.2" fill="#3a3a3a"/><circle cx="166.5" cy="419.6" r="1.2" fill="#3a3a3a"/><circle cx="204.8" cy="383.7" r="1.2" fill="#3a3a3a"/><circle cx="165.2" cy="416.2" r="1.2" fill="#3a3a3a"/><circle cx="180.5" cy="428.0" r="1.2" fill="#e0222b"/><circle cx="120.4" cy="463.5" r="1.2" fill="#3a3a3a"/><circle cx="211.0" cy="386.3" r="1.2" fill="#3a3a3a"/><circle cx="108.7" cy="482.8" r="1.2" fill="#3a3a3a"/><circle cx="178.6" cy="407.0" r="1.2" fill="#3a3a3a"/><circle cx="190.2" cy="427.3" r="1.2" fill="#e0222b"/><circle cx="178.9" cy="524.8" r="1.2" fill="#e0222b"/><circle cx="146.1" cy="493.2" r="1.2" fill="#3a3a3a"/><circle cx="196.2" cy="393.8" r="1.2" fill="#3a3a3a"/><circle cx="173.6" cy="494.3" r="1.2" fill="#e0222b"/><circle cx="179.3" cy="409.0" r="1.2" fill="#3a3a3a"/><circle cx="165.7" cy="476.7" r="1.2" fill="#3a3a3a"/><circle cx="132.5" cy="442.9" r="1.2" fill="#3a3a3a"/><circle cx="117.5" cy="453.8" r="1.2" fill="#3a3a3a"/><circle cx="206.4" cy="392.5" r="1.2" fill="#3a3a3a"/><circle cx="94.1" cy="524.2" r="1.2" fill="#3a3a3a"/><circle cx="196.3" cy="394.2" r="1.2" fill="#3a3a3a"/><circle cx="200.0" cy="394.3" r="1.2" fill="#3a3a3a"/><circle cx="198.5" cy="394.8" r="1.2" fill="#3a3a3a"/><circle cx="168.8" cy="420.7" r="1.2" fill="#3a3a3a"/><circle cx="180.4" cy="408.3" r="1.2" fill="#3a3a3a"/><circle cx="124.5" cy="447.1" r="1.2" fill="#3a3a3a"/><circle cx="127.5" cy="498.2" r="1.2" fill="#3a3a3a"/><circle cx="152.7" cy="434.2" r="1.2" fill="#3a3a3a"/><circle cx="172.9" cy="455.0" r="1.2" fill="#e0222b"/><circle cx="114.5" cy="478.3" r="1.2" fill="#3a3a3a"/><circle cx="179.4" cy="490.3" r="1.2" fill="#e0222b"/><circle cx="143.3" cy="444.3" r="1.2" fill="#3a3a3a"/><circle cx="192.3" cy="402.1" r="1.2" fill="#3a3a3a"/><circle cx="174.9" cy="491.1" r="1.2" fill="#e0222b"/><circle cx="92.8" cy="511.1" r="1.2" fill="#3a3a3a"/><circle cx="201.2" cy="412.6" r="1.2" fill="#e0222b"/><circle cx="113.1" cy="452.1" r="1.2" fill="#3a3a3a"/><circle cx="215.9" cy="384.2" r="1.2" fill="#3a3a3a"/><circle cx="172.7" cy="412.7" r="1.2" fill="#3a3a3a"/><circle cx="191.7" cy="400.0" r="1.2" fill="#3a3a3a"/><circle cx="165.1" cy="428.1" r="1.2" fill="#3a3a3a"/><circle cx="210.6" cy="382.3" r="1.2" fill="#3a3a3a"/><circle cx="208.0" cy="385.5" r="1.2" fill="#3a3a3a"/><circle cx="186.6" cy="404.4" r="1.2" fill="#3a3a3a"/><circle cx="185.4" cy="486.7" r="1.2" fill="#e0222b"/><circle cx="178.3" cy="411.4" r="1.2" fill="#3a3a3a"/><circle cx="116.6" cy="484.2" r="1.2" fill="#3a3a3a"/><circle cx="184.4" cy="417.5" r="1.2" fill="#e0222b"/><circle cx="137.1" cy="516.1" r="1.2" fill="#3a3a3a"/><circle cx="182.8" cy="426.8" r="1.2" fill="#e0222b"/><circle cx="118.3" cy="494.1" r="1.2" fill="#3a3a3a"/><circle cx="211.2" cy="381.4" r="1.2" fill="#3a3a3a"/><circle cx="212.8" cy="387.5" r="1.2" fill="#3a3a3a"/><circle cx="154.1" cy="428.5" r="1.2" fill="#3a3a3a"/><circle cx="150.5" cy="428.8" r="1.2" fill="#3a3a3a"/><circle cx="112.0" cy="465.9" r="1.2" fill="#3a3a3a"/><circle cx="189.9" cy="402.8" r="1.2" fill="#3a3a3a"/><circle cx="193.3" cy="401.7" r="1.2" fill="#3a3a3a"/><circle cx="195.9" cy="399.4" r="1.2" fill="#3a3a3a"/><circle cx="159.0" cy="425.9" r="1.2" fill="#3a3a3a"/><circle cx="122.5" cy="459.2" r="1.2" fill="#3a3a3a"/><circle cx="172.8" cy="429.6" r="1.2" fill="#e0222b"/><circle cx="194.8" cy="464.8" r="1.2" fill="#e0222b"/><circle cx="205.3" cy="383.4" r="1.2" fill="#3a3a3a"/><circle cx="214.1" cy="381.2" r="1.2" fill="#3a3a3a"/><circle cx="116.5" cy="466.2" r="1.2" fill="#3a3a3a"/><circle cx="195.4" cy="403.4" r="1.2" fill="#3a3a3a"/><circle cx="128.9" cy="488.7" r="1.2" fill="#3a3a3a"/><circle cx="179.6" cy="402.7" r="1.2" fill="#3a3a3a"/><circle cx="167.5" cy="412.9" r="1.2" fill="#3a3a3a"/><circle cx="158.8" cy="429.5" r="1.2" fill="#3a3a3a"/><circle cx="52.0" cy="515.8" r="1.2" fill="#3a3a3a"/><circle cx="114.6" cy="480.3" r="1.2" fill="#3a3a3a"/><circle cx="181.5" cy="405.6" r="1.2" fill="#3a3a3a"/><circle cx="170.4" cy="418.8" r="1.2" fill="#3a3a3a"/><circle cx="173.7" cy="446.0" r="1.2" fill="#e0222b"/><circle cx="200.2" cy="403.7" r="1.2" fill="#e0222b"/><circle cx="191.8" cy="401.9" r="1.2" fill="#3a3a3a"/><circle cx="122.1" cy="460.8" r="1.2" fill="#3a3a3a"/><circle cx="133.5" cy="442.8" r="1.2" fill="#3a3a3a"/><circle cx="121.8" cy="448.7" r="1.2" fill="#3a3a3a"/><circle cx="182.0" cy="484.3" r="1.2" fill="#e0222b"/><circle cx="169.6" cy="418.0" r="1.2" fill="#3a3a3a"/><circle cx="182.6" cy="405.3" r="1.2" fill="#3a3a3a"/><circle cx="150.8" cy="423.2" r="1.2" fill="#3a3a3a"/><circle cx="188.1" cy="402.0" r="1.2" fill="#3a3a3a"/><circle cx="170.2" cy="412.9" r="1.2" fill="#3a3a3a"/><circle cx="102.7" cy="489.3" r="1.2" fill="#3a3a3a"/><circle cx="164.0" cy="472.5" r="1.2" fill="#e0222b"/><circle cx="133.2" cy="447.8" r="1.2" fill="#3a3a3a"/><circle cx="204.3" cy="394.6" r="1.2" fill="#3a3a3a"/><circle cx="165.2" cy="421.7" r="1.2" fill="#3a3a3a"/><circle cx="132.7" cy="443.4" r="1.2" fill="#3a3a3a"/><circle cx="161.8" cy="414.6" r="1.2" fill="#3a3a3a"/><circle cx="149.6" cy="500.7" r="1.2" fill="#3a3a3a"/><circle cx="185.5" cy="479.8" r="1.2" fill="#e0222b"/><circle cx="160.0" cy="492.5" r="1.2" fill="#e0222b"/><circle cx="154.8" cy="427.7" r="1.2" fill="#3a3a3a"/><circle cx="145.3" cy="468.0" r="1.2" fill="#3a3a3a"/><circle cx="200.5" cy="427.5" r="1.2" fill="#e0222b"/><circle cx="174.1" cy="428.3" r="1.2" fill="#e0222b"/><circle cx="169.8" cy="414.4" r="1.2" fill="#3a3a3a"/><circle cx="214.3" cy="383.4" r="1.2" fill="#3a3a3a"/><circle cx="140.0" cy="452.2" r="1.2" fill="#3a3a3a"/><circle cx="117.9" cy="483.8" r="1.2" fill="#3a3a3a"/><circle cx="127.6" cy="526.9" r="1.2" fill="#3a3a3a"/><circle cx="195.0" cy="399.2" r="1.2" fill="#3a3a3a"/><circle cx="117.3" cy="453.0" r="1.2" fill="#3a3a3a"/><circle cx="192.9" cy="396.2" r="1.2" fill="#3a3a3a"/><circle cx="156.3" cy="421.4" r="1.2" fill="#3a3a3a"/><circle cx="210.5" cy="392.3" r="1.2" fill="#3a3a3a"/><circle cx="164.4" cy="413.7" r="1.2" fill="#3a3a3a"/><circle cx="146.1" cy="436.4" r="1.2" fill="#3a3a3a"/><circle cx="162.4" cy="448.4" r="1.2" fill="#e0222b"/><circle cx="62.3" cy="505.2" r="1.2" fill="#3a3a3a"/><circle cx="196.0" cy="481.2" r="1.2" fill="#e0222b"/><circle cx="199.6" cy="426.3" r="1.2" fill="#e0222b"/><circle cx="162.5" cy="421.5" r="1.2" fill="#3a3a3a"/><circle cx="132.1" cy="455.2" r="1.2" fill="#3a3a3a"/><circle cx="133.9" cy="493.8" r="1.2" fill="#3a3a3a"/><circle cx="196.3" cy="397.8" r="1.2" fill="#3a3a3a"/><circle cx="171.4" cy="420.6" r="1.2" fill="#3a3a3a"/><circle cx="117.7" cy="480.7" r="1.2" fill="#3a3a3a"/><circle cx="172.7" cy="440.3" r="1.2" fill="#e0222b"/><circle cx="182.5" cy="399.3" r="1.2" fill="#3a3a3a"/><circle cx="186.5" cy="417.4" r="1.2" fill="#e0222b"/><circle cx="173.1" cy="410.0" r="1.2" fill="#3a3a3a"/><circle cx="167.9" cy="419.4" r="1.2" fill="#3a3a3a"/><circle cx="132.2" cy="444.9" r="1.2" fill="#3a3a3a"/><circle cx="142.1" cy="441.1" r="1.2" fill="#3a3a3a"/><circle cx="112.1" cy="460.3" r="1.2" fill="#3a3a3a"/><circle cx="177.3" cy="410.4" r="1.2" fill="#3a3a3a"/><circle cx="129.2" cy="457.1" r="1.2" fill="#3a3a3a"/><circle cx="112.7" cy="466.9" r="1.2" fill="#3a3a3a"/><circle cx="164.8" cy="424.3" r="1.2" fill="#3a3a3a"/><circle cx="167.6" cy="422.1" r="1.2" fill="#3a3a3a"/><circle cx="170.5" cy="411.6" r="1.2" fill="#3a3a3a"/><circle cx="211.9" cy="382.3" r="1.2" fill="#3a3a3a"/><circle cx="193.6" cy="399.3" r="1.2" fill="#3a3a3a"/><circle cx="195.4" cy="396.8" r="1.2" fill="#3a3a3a"/><circle cx="202.6" cy="388.9" r="1.2" fill="#3a3a3a"/><circle cx="166.1" cy="552.1" r="1.2" fill="#e0222b"/><circle cx="212.5" cy="389.1" r="1.2" fill="#3a3a3a"/><circle cx="138.5" cy="505.7" r="1.2" fill="#3a3a3a"/><circle cx="187.9" cy="438.3" r="1.2" fill="#e0222b"/><circle cx="133.9" cy="437.6" r="1.2" fill="#3a3a3a"/><circle cx="200.5" cy="394.6" r="1.2" fill="#3a3a3a"/><circle cx="184.6" cy="403.7" r="1.2" fill="#3a3a3a"/><circle cx="185.4" cy="423.0" r="1.2" fill="#e0222b"/><circle cx="159.3" cy="474.4" r="1.2" fill="#e0222b"/><circle cx="170.7" cy="414.2" r="1.2" fill="#3a3a3a"/><circle cx="179.6" cy="409.8" r="1.2" fill="#3a3a3a"/><circle cx="145.8" cy="424.8" r="1.2" fill="#3a3a3a"/><circle cx="101.4" cy="490.9" r="1.2" fill="#3a3a3a"/><circle cx="189.0" cy="423.7" r="1.2" fill="#e0222b"/><circle cx="165.7" cy="507.5" r="1.2" fill="#3a3a3a"/><circle cx="190.8" cy="396.0" r="1.2" fill="#3a3a3a"/><circle cx="139.8" cy="470.5" r="1.2" fill="#3a3a3a"/><circle cx="212.1" cy="382.5" r="1.2" fill="#3a3a3a"/><circle cx="138.6" cy="456.6" r="1.2" fill="#3a3a3a"/><circle cx="171.8" cy="420.3" r="1.2" fill="#3a3a3a"/><circle cx="168.5" cy="539.4" r="1.2" fill="#e0222b"/><circle cx="138.6" cy="476.7" r="1.2" fill="#3a3a3a"/><circle cx="185.9" cy="403.6" r="1.2" fill="#3a3a3a"/><circle cx="190.1" cy="487.8" r="1.2" fill="#e0222b"/><circle cx="181.0" cy="483.2" r="1.2" fill="#e0222b"/><circle cx="126.9" cy="482.0" r="1.2" fill="#3a3a3a"/><circle cx="157.2" cy="532.5" r="1.2" fill="#3a3a3a"/><circle cx="196.4" cy="397.5" r="1.2" fill="#3a3a3a"/><circle cx="202.8" cy="388.7" r="1.2" fill="#3a3a3a"/><circle cx="187.0" cy="404.1" r="1.2" fill="#3a3a3a"/><circle cx="118.9" cy="474.8" r="1.2" fill="#3a3a3a"/><circle cx="208.0" cy="385.6" r="1.2" fill="#3a3a3a"/><circle cx="158.1" cy="428.5" r="1.2" fill="#3a3a3a"/><circle cx="124.9" cy="454.8" r="1.2" fill="#3a3a3a"/><circle cx="52.7" cy="523.6" r="1.2" fill="#3a3a3a"/><circle cx="200.5" cy="392.2" r="1.2" fill="#3a3a3a"/><circle cx="144.5" cy="487.7" r="1.2" fill="#3a3a3a"/><circle cx="168.0" cy="416.1" r="1.2" fill="#3a3a3a"/><circle cx="134.6" cy="490.1" r="1.2" fill="#3a3a3a"/><circle cx="198.9" cy="397.0" r="1.2" fill="#3a3a3a"/><circle cx="131.2" cy="484.2" r="1.2" fill="#3a3a3a"/><circle cx="154.9" cy="526.5" r="1.2" fill="#3a3a3a"/><circle cx="165.4" cy="425.1" r="1.2" fill="#3a3a3a"/><circle cx="168.5" cy="412.1" r="1.2" fill="#3a3a3a"/><circle cx="201.8" cy="488.5" r="1.2" fill="#e0222b"/><circle cx="177.2" cy="492.4" r="1.2" fill="#3a3a3a"/><circle cx="206.0" cy="391.8" r="1.2" fill="#3a3a3a"/><circle cx="194.2" cy="395.7" r="1.2" fill="#3a3a3a"/><circle cx="188.8" cy="398.9" r="1.2" fill="#3a3a3a"/><circle cx="48.2" cy="511.3" r="1.2" fill="#3a3a3a"/><circle cx="185.5" cy="501.7" r="1.2" fill="#e0222b"/><circle cx="130.4" cy="518.4" r="1.2" fill="#3a3a3a"/><circle cx="181.5" cy="463.3" r="1.2" fill="#e0222b"/><circle cx="196.7" cy="394.7" r="1.2" fill="#3a3a3a"/><circle cx="185.2" cy="418.8" r="1.2" fill="#e0222b"/><circle cx="98.2" cy="488.2" r="1.2" fill="#3a3a3a"/><circle cx="184.5" cy="401.5" r="1.2" fill="#3a3a3a"/><circle cx="215.0" cy="382.4" r="1.2" fill="#3a3a3a"/><circle cx="168.2" cy="501.4" r="1.2" fill="#3a3a3a"/><circle cx="127.4" cy="478.8" r="1.2" fill="#3a3a3a"/><circle cx="123.0" cy="455.1" r="1.2" fill="#3a3a3a"/><circle cx="166.3" cy="430.5" r="1.2" fill="#3a3a3a"/><circle cx="149.7" cy="481.8" r="1.2" fill="#3a3a3a"/><circle cx="127.9" cy="481.6" r="1.2" fill="#3a3a3a"/><circle cx="152.0" cy="434.0" r="1.2" fill="#3a3a3a"/><circle cx="164.7" cy="422.9" r="1.2" fill="#3a3a3a"/><circle cx="169.8" cy="415.2" r="1.2" fill="#3a3a3a"/><circle cx="166.4" cy="421.0" r="1.2" fill="#3a3a3a"/><circle cx="171.9" cy="460.6" r="1.2" fill="#e0222b"/><circle cx="55.4" cy="526.5" r="1.2" fill="#3a3a3a"/><circle cx="169.1" cy="414.3" r="1.2" fill="#3a3a3a"/><circle cx="184.4" cy="404.8" r="1.2" fill="#3a3a3a"/><circle cx="121.8" cy="452.9" r="1.2" fill="#3a3a3a"/><circle cx="143.0" cy="451.8" r="1.2" fill="#3a3a3a"/><circle cx="116.9" cy="472.0" r="1.2" fill="#3a3a3a"/><circle cx="104.1" cy="502.7" r="1.2" fill="#3a3a3a"/><circle cx="167.4" cy="413.5" r="1.2" fill="#3a3a3a"/><circle cx="156.7" cy="459.7" r="1.2" fill="#e0222b"/><circle cx="157.0" cy="499.2" r="1.2" fill="#e0222b"/><circle cx="172.6" cy="411.8" r="1.2" fill="#3a3a3a"/><circle cx="211.6" cy="392.8" r="1.2" fill="#3a3a3a"/><circle cx="120.5" cy="504.2" r="1.2" fill="#3a3a3a"/><circle cx="167.9" cy="419.1" r="1.2" fill="#3a3a3a"/><circle cx="102.8" cy="483.1" r="1.2" fill="#3a3a3a"/><circle cx="151.6" cy="413.1" r="1.2" fill="#3a3a3a"/><circle cx="191.7" cy="402.7" r="1.2" fill="#3a3a3a"/><circle cx="124.1" cy="437.6" r="1.2" fill="#3a3a3a"/><circle cx="200.6" cy="392.1" r="1.2" fill="#3a3a3a"/><circle cx="161.9" cy="481.1" r="1.2" fill="#e0222b"/><circle cx="180.0" cy="476.1" r="1.2" fill="#e0222b"/><circle cx="148.2" cy="430.8" r="1.2" fill="#3a3a3a"/><circle cx="200.1" cy="391.7" r="1.2" fill="#3a3a3a"/><circle cx="153.2" cy="430.1" r="1.2" fill="#3a3a3a"/><circle cx="176.5" cy="448.6" r="1.2" fill="#3a3a3a"/><circle cx="193.2" cy="395.5" r="1.2" fill="#3a3a3a"/><circle cx="103.6" cy="496.1" r="1.2" fill="#3a3a3a"/><circle cx="181.5" cy="412.1" r="1.2" fill="#3a3a3a"/><circle cx="199.8" cy="477.4" r="1.2" fill="#e0222b"/><circle cx="181.4" cy="407.3" r="1.2" fill="#3a3a3a"/><circle cx="215.4" cy="384.1" r="1.2" fill="#3a3a3a"/><circle cx="128.6" cy="453.1" r="1.2" fill="#3a3a3a"/><circle cx="128.0" cy="442.8" r="1.2" fill="#3a3a3a"/><circle cx="178.7" cy="451.7" r="1.2" fill="#e0222b"/><circle cx="154.9" cy="424.4" r="1.2" fill="#3a3a3a"/><circle cx="130.0" cy="452.6" r="1.2" fill="#3a3a3a"/><circle cx="135.3" cy="441.0" r="1.2" fill="#3a3a3a"/><circle cx="141.3" cy="443.9" r="1.2" fill="#3a3a3a"/><circle cx="174.9" cy="507.7" r="1.2" fill="#e0222b"/><circle cx="175.0" cy="407.4" r="1.2" fill="#3a3a3a"/><circle cx="176.6" cy="411.4" r="1.2" fill="#3a3a3a"/><circle cx="160.7" cy="428.7" r="1.2" fill="#3a3a3a"/><circle cx="166.3" cy="421.4" r="1.2" fill="#3a3a3a"/><circle cx="207.3" cy="380.7" r="1.2" fill="#3a3a3a"/><circle cx="191.7" cy="394.6" r="1.2" fill="#3a3a3a"/><circle cx="126.6" cy="489.7" r="1.2" fill="#3a3a3a"/><circle cx="129.7" cy="444.9" r="1.2" fill="#3a3a3a"/><circle cx="200.0" cy="394.1" r="1.2" fill="#3a3a3a"/><circle cx="96.3" cy="506.3" r="1.2" fill="#3a3a3a"/><circle cx="132.0" cy="510.8" r="1.2" fill="#3a3a3a"/><circle cx="193.2" cy="396.6" r="1.2" fill="#3a3a3a"/><circle cx="106.6" cy="475.0" r="1.2" fill="#3a3a3a"/><circle cx="215.2" cy="380.9" r="1.2" fill="#3a3a3a"/><circle cx="166.0" cy="430.5" r="1.2" fill="#3a3a3a"/><circle cx="176.3" cy="529.6" r="1.2" fill="#e0222b"/><circle cx="165.5" cy="425.0" r="1.2" fill="#3a3a3a"/><circle cx="142.1" cy="441.6" r="1.2" fill="#3a3a3a"/><circle cx="154.6" cy="450.5" r="1.2" fill="#e0222b"/><circle cx="154.8" cy="434.2" r="1.2" fill="#3a3a3a"/><circle cx="202.9" cy="390.4" r="1.2" fill="#3a3a3a"/><circle cx="139.4" cy="446.8" r="1.2" fill="#3a3a3a"/><circle cx="175.2" cy="414.3" r="1.2" fill="#3a3a3a"/><circle cx="182.5" cy="407.6" r="1.2" fill="#3a3a3a"/><circle cx="132.5" cy="463.2" r="1.2" fill="#3a3a3a"/><circle cx="120.3" cy="453.3" r="1.2" fill="#3a3a3a"/><circle cx="101.6" cy="488.7" r="1.2" fill="#3a3a3a"/><circle cx="56.1" cy="533.7" r="1.2" fill="#3a3a3a"/><circle cx="112.7" cy="447.8" r="1.2" fill="#3a3a3a"/><circle cx="199.9" cy="391.8" r="1.2" fill="#3a3a3a"/><circle cx="114.1" cy="446.3" r="1.2" fill="#3a3a3a"/><circle cx="116.9" cy="456.4" r="1.2" fill="#3a3a3a"/><circle cx="126.3" cy="443.7" r="1.2" fill="#3a3a3a"/><circle cx="188.6" cy="400.9" r="1.2" fill="#3a3a3a"/><circle cx="139.4" cy="437.3" r="1.2" fill="#3a3a3a"/><circle cx="192.5" cy="405.2" r="1.2" fill="#3a3a3a"/><circle cx="169.5" cy="415.5" r="1.2" fill="#3a3a3a"/><circle cx="169.3" cy="537.2" r="1.2" fill="#e0222b"/><circle cx="122.7" cy="508.3" r="1.2" fill="#3a3a3a"/><circle cx="130.9" cy="449.9" r="1.2" fill="#3a3a3a"/><circle cx="176.9" cy="489.8" r="1.2" fill="#e0222b"/><circle cx="56.7" cy="503.1" r="1.2" fill="#3a3a3a"/><circle cx="167.0" cy="419.6" r="1.2" fill="#3a3a3a"/><circle cx="126.5" cy="469.6" r="1.2" fill="#3a3a3a"/><circle cx="156.8" cy="420.1" r="1.2" fill="#3a3a3a"/><circle cx="125.2" cy="467.1" r="1.2" fill="#3a3a3a"/><circle cx="162.1" cy="454.0" r="1.2" fill="#e0222b"/><circle cx="167.7" cy="419.6" r="1.2" fill="#3a3a3a"/><circle cx="107.1" cy="486.9" r="1.2" fill="#3a3a3a"/><circle cx="114.3" cy="466.5" r="1.2" fill="#3a3a3a"/><circle cx="178.0" cy="407.4" r="1.2" fill="#3a3a3a"/><circle cx="171.2" cy="456.0" r="1.2" fill="#e0222b"/><circle cx="209.2" cy="405.3" r="1.2" fill="#e0222b"/><circle cx="171.1" cy="409.1" r="1.2" fill="#3a3a3a"/><circle cx="128.9" cy="474.0" r="1.2" fill="#3a3a3a"/><circle cx="133.2" cy="449.1" r="1.2" fill="#3a3a3a"/><circle cx="133.5" cy="452.4" r="1.2" fill="#3a3a3a"/><circle cx="184.2" cy="405.4" r="1.2" fill="#3a3a3a"/><circle cx="214.7" cy="387.8" r="1.2" fill="#3a3a3a"/><circle cx="132.1" cy="452.5" r="1.2" fill="#3a3a3a"/><circle cx="166.6" cy="510.2" r="1.2" fill="#e0222b"/><circle cx="114.8" cy="465.0" r="1.2" fill="#3a3a3a"/><circle cx="124.9" cy="468.9" r="1.2" fill="#3a3a3a"/><circle cx="169.7" cy="510.8" r="1.2" fill="#e0222b"/><circle cx="208.0" cy="384.6" r="1.2" fill="#3a3a3a"/><circle cx="116.5" cy="478.9" r="1.2" fill="#3a3a3a"/><circle cx="185.4" cy="401.9" r="1.2" fill="#3a3a3a"/><circle cx="109.4" cy="477.6" r="1.2" fill="#3a3a3a"/><circle cx="136.5" cy="469.1" r="1.2" fill="#3a3a3a"/><circle cx="172.9" cy="446.3" r="1.2" fill="#e0222b"/><circle cx="197.2" cy="389.4" r="1.2" fill="#3a3a3a"/><circle cx="174.7" cy="479.5" r="1.2" fill="#e0222b"/><circle cx="144.8" cy="518.8" r="1.2" fill="#3a3a3a"/><circle cx="106.6" cy="498.0" r="1.2" fill="#3a3a3a"/><circle cx="215.8" cy="386.8" r="1.2" fill="#3a3a3a"/><circle cx="208.4" cy="383.0" r="1.2" fill="#3a3a3a"/><circle cx="212.8" cy="385.5" r="1.2" fill="#3a3a3a"/><circle cx="151.5" cy="440.2" r="1.2" fill="#3a3a3a"/><circle cx="159.8" cy="546.6" r="1.2" fill="#e0222b"/><circle cx="116.5" cy="457.0" r="1.2" fill="#3a3a3a"/><circle cx="128.8" cy="480.6" r="1.2" fill="#3a3a3a"/><circle cx="177.6" cy="413.1" r="1.2" fill="#3a3a3a"/><circle cx="131.3" cy="475.0" r="1.2" fill="#3a3a3a"/><circle cx="95.7" cy="487.2" r="1.2" fill="#3a3a3a"/><circle cx="87.4" cy="496.3" r="1.2" fill="#3a3a3a"/><circle cx="203.1" cy="409.0" r="1.2" fill="#e0222b"/><circle cx="155.8" cy="428.1" r="1.2" fill="#3a3a3a"/><circle cx="127.4" cy="453.0" r="1.2" fill="#3a3a3a"/><circle cx="171.1" cy="446.2" r="1.2" fill="#e0222b"/><circle cx="148.0" cy="433.6" r="1.2" fill="#3a3a3a"/><circle cx="155.7" cy="487.9" r="1.2" fill="#3a3a3a"/><circle cx="154.4" cy="452.3" r="1.2" fill="#3a3a3a"/><circle cx="108.7" cy="482.9" r="1.2" fill="#3a3a3a"/><circle cx="85.2" cy="498.1" r="1.2" fill="#3a3a3a"/><circle cx="124.9" cy="465.3" r="1.2" fill="#3a3a3a"/><circle cx="87.4" cy="506.0" r="1.2" fill="#3a3a3a"/><circle cx="150.2" cy="440.0" r="1.2" fill="#3a3a3a"/><circle cx="114.6" cy="452.7" r="1.2" fill="#3a3a3a"/><circle cx="182.1" cy="408.8" r="1.2" fill="#3a3a3a"/><circle cx="165.7" cy="462.2" r="1.2" fill="#e0222b"/><circle cx="133.8" cy="485.1" r="1.2" fill="#3a3a3a"/><circle cx="93.6" cy="480.2" r="1.2" fill="#3a3a3a"/><circle cx="206.0" cy="392.7" r="1.2" fill="#3a3a3a"/><circle cx="141.5" cy="438.2" r="1.2" fill="#3a3a3a"/><circle cx="113.3" cy="474.3" r="1.2" fill="#3a3a3a"/><circle cx="69.8" cy="504.8" r="1.2" fill="#3a3a3a"/><circle cx="83.9" cy="500.5" r="1.2" fill="#3a3a3a"/><circle cx="176.0" cy="530.4" r="1.2" fill="#3a3a3a"/><circle cx="186.5" cy="404.6" r="1.2" fill="#3a3a3a"/><circle cx="142.7" cy="436.1" r="1.2" fill="#3a3a3a"/><circle cx="125.1" cy="519.4" r="1.2" fill="#3a3a3a"/><circle cx="180.4" cy="419.3" r="1.2" fill="#e0222b"/><circle cx="99.9" cy="509.8" r="1.2" fill="#3a3a3a"/><circle cx="136.7" cy="450.5" r="1.2" fill="#3a3a3a"/><circle cx="134.4" cy="505.5" r="1.2" fill="#3a3a3a"/><circle cx="81.4" cy="477.9" r="1.2" fill="#3a3a3a"/><circle cx="120.3" cy="460.0" r="1.2" fill="#3a3a3a"/><circle cx="115.1" cy="461.5" r="1.2" fill="#3a3a3a"/><circle cx="203.6" cy="391.3" r="1.2" fill="#3a3a3a"/><circle cx="138.4" cy="436.9" r="1.2" fill="#3a3a3a"/><circle cx="152.1" cy="439.1" r="1.2" fill="#3a3a3a"/><circle cx="140.3" cy="448.6" r="1.2" fill="#3a3a3a"/><circle cx="173.3" cy="488.0" r="1.2" fill="#e0222b"/><circle cx="184.3" cy="400.3" r="1.2" fill="#3a3a3a"/><circle cx="156.5" cy="511.2" r="1.2" fill="#e0222b"/><circle cx="136.2" cy="533.9" r="1.2" fill="#3a3a3a"/><circle cx="147.0" cy="440.8" r="1.2" fill="#3a3a3a"/><circle cx="151.1" cy="438.6" r="1.2" fill="#3a3a3a"/><circle cx="148.0" cy="438.6" r="1.2" fill="#3a3a3a"/><circle cx="213.1" cy="381.5" r="1.2" fill="#3a3a3a"/><circle cx="150.0" cy="422.4" r="1.2" fill="#3a3a3a"/><circle cx="206.6" cy="380.1" r="1.2" fill="#3a3a3a"/><circle cx="154.3" cy="491.8" r="1.2" fill="#e0222b"/><circle cx="142.1" cy="447.8" r="1.2" fill="#3a3a3a"/><circle cx="179.1" cy="409.0" r="1.2" fill="#3a3a3a"/><circle cx="210.4" cy="384.7" r="1.2" fill="#3a3a3a"/><circle cx="135.5" cy="495.5" r="1.2" fill="#3a3a3a"/><circle cx="201.2" cy="395.5" r="1.2" fill="#3a3a3a"/><circle cx="172.6" cy="495.5" r="1.2" fill="#e0222b"/><circle cx="201.4" cy="401.7" r="1.2" fill="#3a3a3a"/><circle cx="77.0" cy="516.7" r="1.2" fill="#3a3a3a"/><circle cx="158.8" cy="434.5" r="1.2" fill="#3a3a3a"/><circle cx="137.0" cy="514.1" r="1.2" fill="#3a3a3a"/><circle cx="179.7" cy="406.7" r="1.2" fill="#3a3a3a"/><circle cx="153.5" cy="479.6" r="1.2" fill="#3a3a3a"/><circle cx="177.2" cy="443.9" r="1.2" fill="#e0222b"/><circle cx="170.6" cy="415.6" r="1.2" fill="#3a3a3a"/><circle cx="132.6" cy="460.0" r="1.2" fill="#3a3a3a"/><circle cx="134.7" cy="464.1" r="1.2" fill="#3a3a3a"/><circle cx="87.4" cy="494.4" r="1.2" fill="#3a3a3a"/><circle cx="154.4" cy="460.2" r="1.2" fill="#e0222b"/><circle cx="165.4" cy="510.7" r="1.2" fill="#3a3a3a"/><circle cx="180.5" cy="405.3" r="1.2" fill="#3a3a3a"/><circle cx="174.7" cy="415.6" r="1.2" fill="#3a3a3a"/><circle cx="128.7" cy="489.1" r="1.2" fill="#3a3a3a"/><circle cx="137.9" cy="483.7" r="1.2" fill="#3a3a3a"/><circle cx="161.1" cy="420.0" r="1.2" fill="#3a3a3a"/><circle cx="131.3" cy="511.6" r="1.2" fill="#3a3a3a"/><circle cx="125.2" cy="443.6" r="1.2" fill="#3a3a3a"/><circle cx="172.7" cy="409.4" r="1.2" fill="#3a3a3a"/><circle cx="127.2" cy="477.9" r="1.2" fill="#3a3a3a"/><circle cx="164.9" cy="495.0" r="1.2" fill="#e0222b"/><circle cx="203.4" cy="385.2" r="1.2" fill="#3a3a3a"/><circle cx="185.5" cy="413.0" r="1.2" fill="#e0222b"/><circle cx="180.4" cy="468.9" r="1.2" fill="#e0222b"/><circle cx="115.9" cy="451.1" r="1.2" fill="#3a3a3a"/><circle cx="144.1" cy="465.6" r="1.2" fill="#3a3a3a"/><circle cx="135.6" cy="442.5" r="1.2" fill="#3a3a3a"/><circle cx="128.9" cy="450.5" r="1.2" fill="#3a3a3a"/><circle cx="203.2" cy="423.1" r="1.2" fill="#e0222b"/><circle cx="87.3" cy="497.9" r="1.2" fill="#3a3a3a"/><circle cx="208.2" cy="385.8" r="1.2" fill="#3a3a3a"/><circle cx="160.6" cy="491.0" r="1.2" fill="#3a3a3a"/><circle cx="162.3" cy="412.0" r="1.2" fill="#3a3a3a"/><circle cx="105.5" cy="497.3" r="1.2" fill="#3a3a3a"/><circle cx="211.0" cy="377.6" r="1.2" fill="#3a3a3a"/><circle cx="213.1" cy="376.4" r="1.2" fill="#3a3a3a"/><circle cx="158.2" cy="446.7" r="1.2" fill="#e0222b"/><circle cx="191.6" cy="394.2" r="1.2" fill="#3a3a3a"/><circle cx="116.5" cy="458.7" r="1.2" fill="#3a3a3a"/><circle cx="189.1" cy="397.3" r="1.2" fill="#3a3a3a"/><circle cx="160.8" cy="429.7" r="1.2" fill="#3a3a3a"/><circle cx="77.9" cy="502.1" r="1.2" fill="#3a3a3a"/><circle cx="172.7" cy="412.4" r="1.2" fill="#3a3a3a"/><circle cx="92.1" cy="486.6" r="1.2" fill="#3a3a3a"/><circle cx="208.3" cy="397.2" r="1.2" fill="#e0222b"/><circle cx="121.3" cy="472.7" r="1.2" fill="#3a3a3a"/><circle cx="138.7" cy="437.9" r="1.2" fill="#3a3a3a"/><circle cx="137.5" cy="482.5" r="1.2" fill="#3a3a3a"/><circle cx="169.8" cy="418.3" r="1.2" fill="#3a3a3a"/><circle cx="127.0" cy="482.9" r="1.2" fill="#3a3a3a"/><circle cx="145.0" cy="481.9" r="1.2" fill="#3a3a3a"/><circle cx="185.1" cy="401.9" r="1.2" fill="#3a3a3a"/><circle cx="170.5" cy="415.1" r="1.2" fill="#3a3a3a"/><circle cx="182.0" cy="463.0" r="1.2" fill="#e0222b"/><circle cx="125.4" cy="470.6" r="1.2" fill="#3a3a3a"/><circle cx="150.9" cy="429.7" r="1.2" fill="#3a3a3a"/><circle cx="174.3" cy="418.2" r="1.2" fill="#3a3a3a"/><circle cx="198.5" cy="397.0" r="1.2" fill="#3a3a3a"/><circle cx="135.8" cy="435.9" r="1.2" fill="#3a3a3a"/><circle cx="166.2" cy="424.9" r="1.2" fill="#3a3a3a"/><circle cx="125.3" cy="515.1" r="1.2" fill="#3a3a3a"/><circle cx="138.9" cy="496.0" r="1.2" fill="#3a3a3a"/><circle cx="166.5" cy="458.5" r="1.2" fill="#e0222b"/><circle cx="190.8" cy="396.1" r="1.2" fill="#3a3a3a"/><circle cx="193.4" cy="403.8" r="1.2" fill="#3a3a3a"/><circle cx="126.5" cy="468.9" r="1.2" fill="#3a3a3a"/><circle cx="132.9" cy="447.8" r="1.2" fill="#3a3a3a"/><circle cx="208.6" cy="392.4" r="1.2" fill="#3a3a3a"/><circle cx="173.2" cy="408.5" r="1.2" fill="#3a3a3a"/><circle cx="216.2" cy="376.0" r="1.2" fill="#3a3a3a"/><circle cx="113.0" cy="470.7" r="1.2" fill="#3a3a3a"/><circle cx="118.2" cy="455.4" r="1.2" fill="#3a3a3a"/><circle cx="189.1" cy="398.9" r="1.2" fill="#3a3a3a"/><circle cx="166.4" cy="417.7" r="1.2" fill="#3a3a3a"/><circle cx="197.3" cy="402.0" r="1.2" fill="#3a3a3a"/><circle cx="134.2" cy="459.5" r="1.2" fill="#3a3a3a"/><circle cx="119.2" cy="441.4" r="1.2" fill="#3a3a3a"/><circle cx="166.3" cy="420.8" r="1.2" fill="#3a3a3a"/><circle cx="133.5" cy="500.0" r="1.2" fill="#3a3a3a"/><circle cx="187.7" cy="407.0" r="1.2" fill="#3a3a3a"/><circle cx="183.8" cy="405.3" r="1.2" fill="#3a3a3a"/><circle cx="180.1" cy="504.1" r="1.2" fill="#e0222b"/><circle cx="122.0" cy="471.0" r="1.2" fill="#3a3a3a"/><circle cx="116.7" cy="487.1" r="1.2" fill="#3a3a3a"/><circle cx="160.4" cy="416.6" r="1.2" fill="#3a3a3a"/><circle cx="101.2" cy="480.8" r="1.2" fill="#3a3a3a"/><circle cx="175.3" cy="410.0" r="1.2" fill="#3a3a3a"/><circle cx="86.7" cy="492.6" r="1.2" fill="#3a3a3a"/><circle cx="214.8" cy="386.2" r="1.2" fill="#3a3a3a"/><circle cx="211.4" cy="391.3" r="1.2" fill="#3a3a3a"/><circle cx="188.9" cy="399.2" r="1.2" fill="#3a3a3a"/><circle cx="147.1" cy="442.8" r="1.2" fill="#3a3a3a"/><circle cx="160.3" cy="423.3" r="1.2" fill="#3a3a3a"/><circle cx="120.6" cy="485.4" r="1.2" fill="#3a3a3a"/><circle cx="203.7" cy="389.6" r="1.2" fill="#3a3a3a"/><circle cx="183.6" cy="408.1" r="1.2" fill="#3a3a3a"/><circle cx="139.6" cy="496.9" r="1.2" fill="#3a3a3a"/><circle cx="212.9" cy="385.8" r="1.2" fill="#3a3a3a"/><circle cx="114.9" cy="488.1" r="1.2" fill="#3a3a3a"/><circle cx="192.6" cy="402.6" r="1.2" fill="#3a3a3a"/><circle cx="197.7" cy="385.0" r="1.2" fill="#3a3a3a"/><circle cx="189.6" cy="399.6" r="1.2" fill="#3a3a3a"/><circle cx="112.6" cy="458.2" r="1.2" fill="#3a3a3a"/><circle cx="135.8" cy="441.3" r="1.2" fill="#3a3a3a"/><circle cx="163.1" cy="450.4" r="1.2" fill="#3a3a3a"/><circle cx="140.8" cy="479.6" r="1.2" fill="#3a3a3a"/><circle cx="174.6" cy="500.5" r="1.2" fill="#e0222b"/><circle cx="129.8" cy="439.1" r="1.2" fill="#3a3a3a"/><circle cx="156.7" cy="476.0" r="1.2" fill="#e0222b"/><circle cx="135.6" cy="463.4" r="1.2" fill="#3a3a3a"/><circle cx="118.1" cy="487.4" r="1.2" fill="#3a3a3a"/><circle cx="204.6" cy="399.1" r="1.2" fill="#e0222b"/><circle cx="154.7" cy="424.2" r="1.2" fill="#3a3a3a"/><circle cx="177.2" cy="542.2" r="1.2" fill="#e0222b"/><circle cx="128.0" cy="486.4" r="1.2" fill="#3a3a3a"/><circle cx="139.0" cy="434.3" r="1.2" fill="#3a3a3a"/><circle cx="179.5" cy="420.3" r="1.2" fill="#e0222b"/><circle cx="126.1" cy="442.7" r="1.2" fill="#3a3a3a"/><circle cx="190.3" cy="402.4" r="1.2" fill="#3a3a3a"/><circle cx="161.5" cy="422.1" r="1.2" fill="#3a3a3a"/><circle cx="51.6" cy="512.8" r="1.2" fill="#3a3a3a"/><circle cx="197.0" cy="484.7" r="1.2" fill="#e0222b"/><circle cx="165.4" cy="476.9" r="1.2" fill="#e0222b"/><circle cx="200.7" cy="391.6" r="1.2" fill="#3a3a3a"/><circle cx="187.1" cy="416.7" r="1.2" fill="#e0222b"/><circle cx="212.1" cy="379.2" r="1.2" fill="#3a3a3a"/><circle cx="197.1" cy="393.7" r="1.2" fill="#3a3a3a"/><circle cx="116.0" cy="475.0" r="1.2" fill="#3a3a3a"/><circle cx="192.5" cy="402.5" r="1.2" fill="#3a3a3a"/><circle cx="186.7" cy="402.8" r="1.2" fill="#3a3a3a"/><circle cx="156.9" cy="450.6" r="1.2" fill="#e0222b"/><circle cx="170.9" cy="448.2" r="1.2" fill="#3a3a3a"/><circle cx="127.8" cy="442.0" r="1.2" fill="#3a3a3a"/><circle cx="133.9" cy="438.7" r="1.2" fill="#3a3a3a"/><circle cx="60.3" cy="499.3" r="1.2" fill="#3a3a3a"/><circle cx="132.9" cy="441.3" r="1.2" fill="#3a3a3a"/><circle cx="117.1" cy="464.0" r="1.2" fill="#3a3a3a"/><circle cx="130.9" cy="440.8" r="1.2" fill="#3a3a3a"/><circle cx="167.7" cy="421.7" r="1.2" fill="#3a3a3a"/><circle cx="138.7" cy="454.6" r="1.2" fill="#3a3a3a"/><circle cx="75.4" cy="508.4" r="1.2" fill="#3a3a3a"/><circle cx="180.5" cy="416.7" r="1.2" fill="#e0222b"/><circle cx="203.3" cy="392.5" r="1.2" fill="#3a3a3a"/><circle cx="165.9" cy="418.0" r="1.2" fill="#3a3a3a"/><circle cx="117.8" cy="456.7" r="1.2" fill="#3a3a3a"/><circle cx="154.9" cy="483.6" r="1.2" fill="#e0222b"/><circle cx="210.8" cy="386.8" r="1.2" fill="#3a3a3a"/><circle cx="168.2" cy="472.4" r="1.2" fill="#e0222b"/><circle cx="171.1" cy="413.3" r="1.2" fill="#3a3a3a"/><circle cx="121.7" cy="482.8" r="1.2" fill="#3a3a3a"/><circle cx="160.5" cy="417.4" r="1.2" fill="#3a3a3a"/><circle cx="129.4" cy="500.9" r="1.2" fill="#3a3a3a"/><circle cx="107.6" cy="465.8" r="1.2" fill="#3a3a3a"/><circle cx="206.3" cy="389.9" r="1.2" fill="#3a3a3a"/><circle cx="180.6" cy="407.1" r="1.2" fill="#3a3a3a"/><circle cx="128.9" cy="456.1" r="1.2" fill="#3a3a3a"/><circle cx="168.0" cy="442.5" r="1.2" fill="#e0222b"/><circle cx="168.7" cy="416.0" r="1.2" fill="#3a3a3a"/><circle cx="200.2" cy="387.4" r="1.2" fill="#3a3a3a"/><circle cx="145.7" cy="471.4" r="1.2" fill="#3a3a3a"/><circle cx="215.6" cy="383.9" r="1.2" fill="#3a3a3a"/><circle cx="198.2" cy="415.9" r="1.2" fill="#e0222b"/><circle cx="163.2" cy="428.9" r="1.2" fill="#3a3a3a"/><circle cx="179.9" cy="405.4" r="1.2" fill="#3a3a3a"/><circle cx="203.9" cy="391.8" r="1.2" fill="#3a3a3a"/><circle cx="56.7" cy="506.9" r="1.2" fill="#3a3a3a"/><circle cx="206.0" cy="383.6" r="1.2" fill="#3a3a3a"/><circle cx="177.7" cy="411.4" r="1.2" fill="#3a3a3a"/><circle cx="116.4" cy="460.6" r="1.2" fill="#3a3a3a"/><circle cx="203.3" cy="390.8" r="1.2" fill="#3a3a3a"/><circle cx="139.2" cy="428.8" r="1.2" fill="#3a3a3a"/><circle cx="168.3" cy="452.4" r="1.2" fill="#e0222b"/><circle cx="56.0" cy="505.5" r="1.2" fill="#3a3a3a"/><circle cx="167.9" cy="415.8" r="1.2" fill="#3a3a3a"/><circle cx="113.7" cy="457.0" r="1.2" fill="#3a3a3a"/><circle cx="183.9" cy="488.1" r="1.2" fill="#e0222b"/><circle cx="142.4" cy="479.9" r="1.2" fill="#3a3a3a"/><circle cx="207.4" cy="383.1" r="1.2" fill="#3a3a3a"/><circle cx="191.0" cy="401.7" r="1.2" fill="#3a3a3a"/><circle cx="199.9" cy="397.3" r="1.2" fill="#3a3a3a"/><circle cx="212.5" cy="386.9" r="1.2" fill="#3a3a3a"/><circle cx="203.3" cy="396.2" r="1.2" fill="#3a3a3a"/><circle cx="153.8" cy="430.9" r="1.2" fill="#3a3a3a"/><circle cx="181.6" cy="405.6" r="1.2" fill="#3a3a3a"/><circle cx="168.1" cy="411.0" r="1.2" fill="#3a3a3a"/><circle cx="171.0" cy="414.6" r="1.2" fill="#3a3a3a"/><circle cx="174.7" cy="508.7" r="1.2" fill="#e0222b"/><circle cx="170.4" cy="411.0" r="1.2" fill="#3a3a3a"/><circle cx="168.3" cy="414.3" r="1.2" fill="#3a3a3a"/><circle cx="91.2" cy="477.0" r="1.2" fill="#3a3a3a"/><circle cx="133.6" cy="446.4" r="1.2" fill="#3a3a3a"/><circle cx="192.6" cy="428.7" r="1.2" fill="#e0222b"/><circle cx="166.4" cy="427.2" r="1.2" fill="#3a3a3a"/><circle cx="168.9" cy="415.2" r="1.2" fill="#3a3a3a"/><circle cx="155.9" cy="479.7" r="1.2" fill="#3a3a3a"/><circle cx="114.5" cy="488.2" r="1.2" fill="#3a3a3a"/><circle cx="173.4" cy="412.1" r="1.2" fill="#3a3a3a"/><circle cx="162.1" cy="545.4" r="1.2" fill="#e0222b"/><circle cx="167.8" cy="517.6" r="1.2" fill="#e0222b"/></g>
<line x1="46.60" y1="511.90" x2="226.36" y2="372.46" stroke="#6a6a6a" stroke-width="1.6"/>
<text x="54.70" y="387.60" font-size="9" fill="#333" stroke="#333" stroke-width="0.16" textLength="86.4" lengthAdjust="spacingAndGlyphs">Co-culture significant</text>
<circle cx="88" cy="398.6" r="2.8" fill="#3a3a3a"/>
<text x="96.70" y="401.80" font-size="9" fill="#333" stroke="#333" stroke-width="0.16">False</text>
<circle cx="88" cy="411.8" r="2.8" fill="#e0222b"/>
<text x="96.70" y="415.00" font-size="9" fill="#333" stroke="#333" stroke-width="0.16">True</text>
<text x="365.40" y="11.00" font-size="13.5" fill="#000" font-weight="bold" stroke="#000" stroke-width="0.35">c</text>
<g fill-opacity="0.85" stroke-linejoin="round">
<path d="M633.73 66.44A138.8 138.8 0 0 1 649.81 85.77Q535.5 164.5 492.74 290.27L481.27 291.40L474.16 282.33Q535.5 164.5 633.73 66.44Z" fill="#d27eb5" stroke="#fff" stroke-width="0.4"/>
<path d="M429.33 75.10A138.8 138.8 0 0 1 440.65 63.17Q535.5 164.5 663.10 204.85L664.66 213.11L658.04 218.29Q535.5 164.5 429.33 75.10Z" fill="#31b6c8" stroke="#fff" stroke-width="0.4"/>
<path d="M585.02 34.83A138.8 138.8 0 0 1 603.84 43.69Q535.5 164.5 506.91 295.13L498.48 297.44L492.46 291.11Q535.5 164.5 585.02 34.83Z" fill="#965e50" stroke="#fff" stroke-width="0.4"/>
<path d="M414.22 232.00A138.8 138.8 0 0 1 406.69 216.20Q535.5 164.5 657.85 218.21L658.40 227.26L650.75 232.12Q535.5 164.5 414.22 232.00Z" fill="#828282" stroke="#fff" stroke-width="0.4"/>
<path d="M456.88 50.11A138.8 138.8 0 0 1 471.68 41.24Q535.5 164.5 631.89 256.29L628.51 266.45L618.08 268.88Q535.5 164.5 456.88 50.11Z" fill="#a0d7e2" stroke="#fff" stroke-width="0.4"/>
<path d="M467.79 285.66A138.8 138.8 0 0 1 454.39 277.13Q535.5 164.5 519.59 297.62L512.53 300.58L506.83 295.47Q535.5 164.5 467.79 285.66Z" fill="#9dcf8b" stroke="#fff" stroke-width="0.4"/>
<path d="M471.68 41.24A138.8 138.8 0 0 1 485.91 34.86Q535.5 164.5 544.27 298.28L537.88 302.48L531.34 298.50Q535.5 164.5 471.68 41.24Z" fill="#a0d7e2" stroke="#fff" stroke-width="0.4"/>
<path d="M603.84 43.69A138.8 138.8 0 0 1 618.70 53.40Q535.5 164.5 617.75 268.46L611.92 279.41L599.56 280.55Q535.5 164.5 603.84 43.69Z" fill="#965e50" stroke="#fff" stroke-width="0.4"/>
<path d="M649.81 85.77A138.8 138.8 0 0 1 658.03 99.29Q535.5 164.5 642.41 244.62L640.86 253.62L632.25 256.63Q535.5 164.5 649.81 85.77Z" fill="#d27eb5" stroke="#fff" stroke-width="0.4"/>
<path d="M454.39 277.13A138.8 138.8 0 0 1 442.15 267.22Q535.5 164.5 650.83 232.16L650.41 240.92L642.50 244.69Q535.5 164.5 454.39 277.13Z" fill="#9dcf8b" stroke="#fff" stroke-width="0.4"/>
<path d="M406.69 216.20A138.8 138.8 0 0 1 402.02 202.56Q535.5 164.5 531.33 298.69L525.16 302.11L519.57 297.81Q535.5 164.5 406.69 216.20Z" fill="#828282" stroke="#fff" stroke-width="0.4"/>
<path d="M535.50 25.70A138.8 138.8 0 0 1 547.60 26.23Q535.5 164.5 666.54 194.03L668.72 200.51L663.58 205.01Q535.5 164.5 535.50 25.70Z" fill="#1d72b7" stroke="#fff" stroke-width="0.4"/>
<path d="M397.44 178.77A138.8 138.8 0 0 1 396.74 168.00Q535.5 164.5 668.61 184.63L671.12 190.00L666.83 194.10Q535.5 164.5 397.44 178.77Z" fill="#f09397" stroke="#fff" stroke-width="0.4"/>
<path d="M396.74 168.00A138.8 138.8 0 0 1 396.87 157.56Q535.5 164.5 553.98 297.83L549.49 301.79L544.31 298.82Q535.5 164.5 396.74 168.00Z" fill="#f09397" stroke="#fff" stroke-width="0.4"/>
<path d="M505.22 29.04A138.8 138.8 0 0 1 516.65 26.99Q535.5 164.5 669.78 176.01L672.54 180.72L668.76 184.65Q535.5 164.5 505.22 29.04Z" fill="#bf968d" stroke="#fff" stroke-width="0.4"/>
<path d="M547.60 26.23A138.8 138.8 0 0 1 556.72 27.33Q535.5 164.5 561.54 296.92L558.30 300.60L554.02 298.18Q535.5 164.5 547.60 26.23Z" fill="#1d72b7" stroke="#fff" stroke-width="0.4"/>
<path d="M663.64 111.16A138.8 138.8 0 0 1 667.57 121.79Q535.5 164.5 568.98 295.23L565.95 299.10L561.54 296.92Q535.5 164.5 663.64 111.16Z" fill="#b0c8e6" stroke="#fff" stroke-width="0.4"/>
<path d="M407.64 110.49A138.8 138.8 0 0 1 412.10 100.96Q535.5 164.5 576.31 293.13L573.50 297.17L568.98 295.23Q535.5 164.5 407.64 110.49Z" fill="#946ab5" stroke="#fff" stroke-width="0.4"/>
<path d="M412.10 100.96A138.8 138.8 0 0 1 416.96 92.29Q535.5 164.5 670.38 168.27L673.28 172.32L669.94 176.03Q535.5 164.5 412.10 100.96Z" fill="#946ab5" stroke="#fff" stroke-width="0.4"/>
<path d="M402.02 202.56A138.8 138.8 0 0 1 399.97 194.45Q535.5 164.5 424.44 241.02L419.54 239.32L420.02 234.16Q535.5 164.5 402.02 202.56Z" fill="#828282" stroke="#fff" stroke-width="0.4"/>
<path d="M440.65 63.17A138.8 138.8 0 0 1 445.76 58.61Q535.5 164.5 428.80 247.16L424.09 245.94L424.36 241.07Q535.5 164.5 440.65 63.17Z" fill="#31b6c8" stroke="#fff" stroke-width="0.4"/>
<path d="M399.99 134.46A138.8 138.8 0 0 1 401.27 129.18Q535.5 164.5 581.55 291.74L579.86 295.18L576.42 293.48Q535.5 164.5 399.99 134.46Z" fill="#c7c7c7" stroke="#fff" stroke-width="0.4"/>
<path d="M445.76 58.61A138.8 138.8 0 0 1 450.29 54.94Q535.5 164.5 586.60 289.80L585.05 293.30L581.55 291.74Q535.5 164.5 445.76 58.61Z" fill="#31b6c8" stroke="#fff" stroke-width="0.4"/>
<path d="M556.72 27.33A138.8 138.8 0 0 1 563.00 28.45Q535.5 164.5 401.61 145.07L399.36 141.89L402.51 139.61Q535.5 164.5 556.72 27.33Z" fill="#1d72b7" stroke="#fff" stroke-width="0.4"/>
<path d="M563.00 28.45A138.8 138.8 0 0 1 569.22 29.86Q535.5 164.5 432.61 252.16L428.40 251.53L428.64 247.28Q535.5 164.5 563.00 28.45Z" fill="#1d72b7" stroke="#fff" stroke-width="0.4"/>
<path d="M618.70 53.40A138.8 138.8 0 0 1 623.29 56.99Q535.5 164.5 435.79 256.07L432.14 255.94L432.45 252.30Q535.5 164.5 618.70 53.40Z" fill="#965e50" stroke="#fff" stroke-width="0.4"/>
<path d="M399.97 194.45A138.8 138.8 0 0 1 398.95 189.40Q535.5 164.5 400.86 149.44L398.62 146.92L401.43 145.05Q535.5 164.5 399.97 194.45Z" fill="#828282" stroke="#fff" stroke-width="0.4"/>
<path d="M485.91 34.86A138.8 138.8 0 0 1 490.68 33.13Q535.5 164.5 400.44 153.86L398.12 151.41L400.86 149.44Q535.5 164.5 485.91 34.86Z" fill="#a0d7e2" stroke="#fff" stroke-width="0.4"/>
<path d="M490.68 33.13A138.8 138.8 0 0 1 495.51 31.58Q535.5 164.5 439.27 259.72L435.61 259.72L435.79 256.07Q535.5 164.5 490.68 33.13Z" fill="#a0d7e2" stroke="#fff" stroke-width="0.4"/>
<path d="M673.83 153.13A138.8 138.8 0 0 1 674.06 156.33Q535.5 164.5 589.23 289.18L588.87 291.76L586.77 290.21Q535.5 164.5 673.83 153.13Z" fill="#ed832b"/>
<path d="M598.51 288.17A138.8 138.8 0 0 1 596.08 289.38Q535.5 164.5 671.19 165.15L673.48 166.76L671.14 168.29Q535.5 164.5 598.51 288.17Z" fill="#2ca030"/>
<path d="M402.76 123.92A138.8 138.8 0 0 1 404.01 120.04Q535.5 164.5 591.67 288.10L591.35 290.69L589.23 289.18Q535.5 164.5 402.76 123.92Z" fill="#d8d88d"/>
<path d="M658.03 99.29A138.8 138.8 0 0 1 659.23 101.59Q535.5 164.5 399.83 157.71L397.73 156.47L399.96 155.49Q535.5 164.5 658.03 99.29Z" fill="#d27eb5"/>
<path d="M516.65 26.99A138.8 138.8 0 0 1 519.46 26.63Q535.5 164.5 593.64 287.29L593.57 289.69L591.70 288.18Q535.5 164.5 516.65 26.99Z" fill="#bf968d"/>
<path d="M569.22 29.86A138.8 138.8 0 0 1 571.07 30.34Q535.5 164.5 426.43 83.51L425.36 81.36L427.72 81.80Q535.5 164.5 569.22 29.86Z" fill="#1d72b7"/>
<path d="M571.07 30.34A138.8 138.8 0 0 1 572.92 30.84Q535.5 164.5 670.01 145.66L672.32 146.52L670.31 147.95Q535.5 164.5 571.07 30.34Z" fill="#1d72b7"/>
<path d="M623.29 56.99A138.8 138.8 0 0 1 624.97 58.38Q535.5 164.5 399.87 155.48L397.86 154.50L399.99 153.82Q535.5 164.5 623.29 56.99Z" fill="#965e50"/>
<path d="M624.97 58.38A138.8 138.8 0 0 1 626.63 59.80Q535.5 164.5 528.92 28.80L529.87 26.61L531.00 28.71Q535.5 164.5 624.97 58.38Z" fill="#965e50"/>
<path d="M659.23 101.59A138.8 138.8 0 0 1 660.10 103.34Q535.5 164.5 441.61 262.74L439.46 263.60L440.25 261.42Q535.5 164.5 659.23 101.59Z" fill="#d27eb5"/>
<path d="M660.10 103.34A138.8 138.8 0 0 1 660.94 105.09Q535.5 164.5 669.37 141.54L671.71 142.34L669.74 143.83Q535.5 164.5 660.10 103.34Z" fill="#d27eb5"/>
<path d="M674.06 156.33A138.8 138.8 0 0 1 674.16 158.25Q535.5 164.5 440.25 261.42L438.08 262.25L438.90 260.08Q535.5 164.5 674.06 156.33Z" fill="#ed832b"/>
<path d="M674.16 158.25A138.8 138.8 0 0 1 674.23 160.17Q535.5 164.5 668.96 139.27L671.31 140.02L669.37 141.54Q535.5 164.5 674.16 158.25Z" fill="#ed832b"/>
<path d="M442.15 267.22A138.8 138.8 0 0 1 440.73 265.91Q535.5 164.5 668.51 137.00L670.88 137.71L668.96 139.27Q535.5 164.5 442.15 267.22Z" fill="#9dcf8b"/>
<path d="M398.95 189.40A138.8 138.8 0 0 1 398.62 187.49Q535.5 164.5 668.02 134.74L670.40 135.41L668.51 137.00Q535.5 164.5 398.95 189.40Z" fill="#828282"/>
<path d="M398.62 187.49A138.8 138.8 0 0 1 398.31 185.59Q535.5 164.5 523.52 29.17L524.39 26.95L525.60 29.00Q535.5 164.5 398.62 187.49Z" fill="#828282"/>
<path d="M404.01 120.04A138.8 138.8 0 0 1 404.82 117.73Q535.5 164.5 671.37 161.77L673.49 162.68L671.39 163.65Q535.5 164.5 404.01 120.04Z" fill="#d8d88d"/>
<path d="M404.82 117.73A138.8 138.8 0 0 1 405.66 115.44Q535.5 164.5 667.50 132.49L669.89 133.12L668.02 134.74Q535.5 164.5 404.82 117.73Z" fill="#d8d88d"/>
<path d="M416.96 92.29A138.8 138.8 0 0 1 418.11 90.43Q535.5 164.5 521.45 29.37L522.28 27.13L523.52 29.17Q535.5 164.5 416.96 92.29Z" fill="#946ab5"/>
<path d="M450.29 54.94A138.8 138.8 0 0 1 451.65 53.89Q535.5 164.5 666.94 130.25L669.33 130.84L667.50 132.49Q535.5 164.5 450.29 54.94Z" fill="#31b6c8"/>
<path d="M495.51 31.58A138.8 138.8 0 0 1 497.34 31.05Q535.5 164.5 666.33 128.02L668.74 128.57L666.94 130.25Q535.5 164.5 495.51 31.58Z" fill="#a0d7e2"/>
<path d="M626.63 59.80A138.8 138.8 0 0 1 627.94 60.96Q535.5 164.5 669.82 143.81L672.03 144.42L670.09 145.65Q535.5 164.5 626.63 59.80Z" fill="#965e50"/>
<path d="M627.94 60.96A138.8 138.8 0 0 1 629.23 62.13Q535.5 164.5 425.36 84.86L424.19 82.93L426.37 83.47Q535.5 164.5 627.94 60.96Z" fill="#965e50"/>
<path d="M629.23 62.13A138.8 138.8 0 0 1 630.52 63.32Q535.5 164.5 577.89 35.32L579.25 33.62L579.31 35.80Q535.5 164.5 629.23 62.13Z" fill="#965e50"/>
<path d="M660.94 105.09A138.8 138.8 0 0 1 661.60 106.50Q535.5 164.5 424.36 86.25L423.16 84.35L425.36 84.86Q535.5 164.5 660.94 105.09Z" fill="#d27eb5"/>
<path d="M667.57 121.79A138.8 138.8 0 0 1 668.14 123.59Q535.5 164.5 423.38 87.66L422.16 85.77L424.36 86.25Q535.5 164.5 667.57 121.79Z" fill="#b0c8e6"/>
<path d="M668.14 123.59A138.8 138.8 0 0 1 668.68 125.40Q535.5 164.5 527.25 28.82L527.97 26.71L528.91 28.73Q535.5 164.5 668.14 123.59Z" fill="#b0c8e6"/>
<path d="M674.23 160.17A138.8 138.8 0 0 1 674.27 161.71Q535.5 164.5 576.46 34.86L577.81 33.14L577.89 35.32Q535.5 164.5 674.23 160.17Z" fill="#ed832b"/>
<path d="M596.08 289.38A138.8 138.8 0 0 1 594.90 289.95Q535.5 164.5 575.03 34.42L576.35 32.69L576.46 34.86Q535.5 164.5 596.08 289.38Z" fill="#2ca030"/>
<path d="M440.73 265.91A138.8 138.8 0 0 1 439.60 264.84Q535.5 164.5 573.60 33.99L574.90 32.24L575.03 34.42Q535.5 164.5 440.73 265.91Z" fill="#9dcf8b"/>
<path d="M398.31 185.59A138.8 138.8 0 0 1 398.08 184.06Q535.5 164.5 422.42 89.09L421.18 87.21L423.38 87.66Q535.5 164.5 398.31 185.59Z" fill="#828282"/>
<path d="M401.27 129.18A138.8 138.8 0 0 1 401.60 127.94Q535.5 164.5 671.45 163.65L673.50 164.40L671.45 165.16Q535.5 164.5 401.27 129.18Z" fill="#c7c7c7"/>
<path d="M401.60 127.94A138.8 138.8 0 0 1 401.94 126.71Q535.5 164.5 572.15 33.58L573.44 31.82L573.60 33.99Q535.5 164.5 401.60 127.94Z" fill="#c7c7c7"/>
<path d="M451.65 53.89A138.8 138.8 0 0 1 452.74 53.07Q535.5 164.5 421.48 90.52L420.21 88.66L422.42 89.09Q535.5 164.5 451.65 53.89Z" fill="#31b6c8"/>
<path d="M497.34 31.05A138.8 138.8 0 0 1 498.81 30.64Q535.5 164.5 420.55 91.97L419.26 90.12L421.48 90.52Q535.5 164.5 497.34 31.05Z" fill="#a0d7e2"/>
<path d="M498.81 30.64A138.8 138.8 0 0 1 500.28 30.24Q535.5 164.5 525.59 28.93L526.28 26.81L527.25 28.82Q535.5 164.5 498.81 30.64Z" fill="#a0d7e2"/>
<path d="M519.46 26.63A138.8 138.8 0 0 1 521.15 26.44Q535.5 164.5 665.90 126.22L668.17 126.53L666.41 128.00Q535.5 164.5 519.46 26.63Z" fill="#bf968d"/>
</g>
<path d="M535.50 21.10A143.4 143.4 0 0 1 581.71 28.75L580.42 32.54A139.4 139.4 0 0 0 535.50 25.10Z" fill="#3f87c2"/>
<text x="561.47" y="20.40" font-size="9" fill="#2f9a52" text-anchor="start" transform="rotate(-80.60 561.47 20.40)">Bt</text>
<path d="M586.66 30.54A143.4 143.4 0 0 1 633.66 59.97L630.93 62.88A139.4 139.4 0 0 0 585.23 34.27Z" fill="#a6766a"/>
<text x="615.22" y="40.80" font-size="9" fill="#2f9a52" text-anchor="start" transform="rotate(-57.95 615.22 40.80)">Bu</text>
<path d="M636.99 63.19A143.4 143.4 0 0 1 665.78 104.58L662.15 106.25A139.4 139.4 0 0 0 634.16 66.02Z" fill="#d991c0"/>
<text x="656.00" y="82.08" font-size="9" fill="#2f9a52" text-anchor="start" transform="rotate(-34.83 656.00 82.08)">Pv</text>
<path d="M667.89 109.39A143.4 143.4 0 0 1 677.83 147.02L673.86 147.51A139.4 139.4 0 0 0 664.20 110.93Z" fill="#bcd0ea"/>
<text x="676.94" y="124.53" font-size="9" fill="#555555" text-anchor="start" transform="rotate(-17.10 676.94 124.53)">Ca</text>
<path d="M678.42 152.75A143.4 143.4 0 0 1 604.80 290.04L602.87 286.54A139.4 139.4 0 0 0 674.43 153.08Z" fill="#f0964b"/>
<text x="663.94" y="235.19" font-size="9" fill="#2f7bbd" text-anchor="start" transform="rotate(28.20 663.94 235.19)">Cd</text>
<path d="M600.60 292.27A143.4 143.4 0 0 1 469.29 291.70L471.13 288.15A139.4 139.4 0 0 0 598.79 288.71Z" fill="#4cae4f"/>
<text x="536.26" y="312.81" font-size="9" fill="#2f7bbd" text-anchor="end" transform="rotate(-89.75 536.26 312.81)">Cs</text>
<path d="M465.54 289.68A143.4 143.4 0 0 1 412.71 238.57L416.14 236.50A139.4 139.4 0 0 0 467.49 286.19Z" fill="#acd69c"/>
<text x="433.29" y="270.98" font-size="9" fill="#c2393b" text-anchor="end" transform="rotate(-45.95 433.29 270.98)">Ec</text>
<path d="M410.20 234.24A143.4 143.4 0 0 1 393.53 184.71L397.49 184.14A139.4 139.4 0 0 0 413.70 232.30Z" fill="#959595"/>
<text x="396.60" y="217.12" font-size="9" fill="#2f7bbd" text-anchor="end" transform="rotate(-18.60 396.60 217.12)">Ar</text>
<path d="M392.86 179.24A143.4 143.4 0 0 1 394.55 138.12L398.48 138.86A139.4 139.4 0 0 0 396.84 178.83Z" fill="#f2a3a7"/>
<text x="387.99" y="156.87" font-size="9" fill="#c2393b" text-anchor="end" transform="rotate(2.35 387.99 156.87)">Ka</text>
<path d="M395.50 133.46A143.4 143.4 0 0 1 397.52 125.46L401.37 126.54A139.4 139.4 0 0 0 399.40 134.33Z" fill="#cfcfcf"/>
<text x="390.98" y="129.07" font-size="9" fill="#2f7bbd" text-anchor="end" transform="rotate(14.15 390.98 129.07)">La</text>
<path d="M398.37 122.57A143.4 143.4 0 0 1 401.36 113.81L405.10 115.23A139.4 139.4 0 0 0 402.19 123.74Z" fill="#dede9e"/>
<text x="394.85" y="116.43" font-size="9" fill="#2f7bbd" text-anchor="end" transform="rotate(18.85 394.85 116.43)">Lg</text>
<path d="M403.40 108.70A143.4 143.4 0 0 1 421.73 77.20L424.91 79.64A139.4 139.4 0 0 0 407.09 110.26Z" fill="#a480c0"/>
<text x="406.84" y="90.32" font-size="9" fill="#2f7bbd" text-anchor="end" transform="rotate(30.20 406.84 90.32)">Ls</text>
<path d="M425.81 72.13A143.4 143.4 0 0 1 450.00 49.38L452.39 52.59A139.4 139.4 0 0 0 428.87 74.71Z" fill="#50c1d0"/>
<text x="430.75" y="57.82" font-size="9" fill="#2f9a52" text-anchor="end" transform="rotate(46.75 430.75 57.82)">Sc</text>
<path d="M454.28 46.32A143.4 143.4 0 0 1 499.11 25.79L500.13 29.66A139.4 139.4 0 0 0 456.54 49.62Z" fill="#aedde6"/>
<text x="469.30" y="34.17" font-size="9" fill="#2f9a52" text-anchor="end" transform="rotate(65.40 469.30 34.17)">Pm</text>
<path d="M504.22 24.55A143.4 143.4 0 0 1 530.75 21.18L530.88 25.18A139.4 139.4 0 0 0 505.09 28.46Z" fill="#c9a69e"/>
<text x="513.77" y="19.28" font-size="9" fill="#2f7bbd" text-anchor="end" transform="rotate(82.75 513.77 19.28)">Rg</text>
<text x="247.70" y="361.80" font-size="13.5" fill="#000" font-weight="bold" stroke="#000" stroke-width="0.35">d</text>
<rect x="268.10" y="371.20" width="18.60" height="17.15" fill="#fcf6f6"/>
<rect x="268.10" y="388.05" width="18.60" height="17.15" fill="#fefafa"/>
<rect x="268.10" y="404.90" width="18.60" height="17.15" fill="#f6dada"/>
<rect x="268.10" y="421.75" width="18.60" height="17.15" fill="#e33a3c"/>
<rect x="268.10" y="438.60" width="18.60" height="17.15" fill="#dd2a2a"/>
<rect x="268.10" y="455.45" width="18.60" height="17.15" fill="#f09aa0"/>
<rect x="286.40" y="421.75" width="18.60" height="17.15" fill="#e55558"/>
<rect x="286.40" y="438.60" width="18.60" height="17.15" fill="#dc2a2a"/>
<rect x="286.40" y="455.45" width="18.60" height="17.15" fill="#ee8a8e"/>
<rect x="304.70" y="371.20" width="18.60" height="17.15" fill="#fbeaea"/>
<rect x="304.70" y="388.05" width="18.60" height="17.15" fill="#fbeeee"/>
<rect x="304.70" y="404.90" width="18.60" height="17.15" fill="#f7d4d6"/>
<rect x="304.70" y="421.75" width="18.60" height="17.15" fill="#f2a2a6"/>
<rect x="304.70" y="438.60" width="18.60" height="17.15" fill="#ea6a6e"/>
<rect x="304.70" y="455.45" width="18.60" height="17.15" fill="#f7c4c8"/>
<rect x="323.00" y="371.20" width="18.60" height="17.15" fill="#fbe8e9"/>
<rect x="323.00" y="388.05" width="18.60" height="17.15" fill="#fdf8f8"/>
<rect x="323.00" y="421.75" width="18.60" height="17.15" fill="#f29ba0"/>
<rect x="323.00" y="438.60" width="18.60" height="17.15" fill="#e33a3c"/>
<rect x="323.00" y="455.45" width="18.60" height="17.15" fill="#fae4e5"/>
<rect x="341.30" y="371.20" width="18.60" height="17.15" fill="#fdf6f6"/>
<rect x="341.30" y="404.90" width="18.60" height="17.15" fill="#fdfafa"/>
<rect x="341.30" y="421.75" width="18.60" height="17.15" fill="#ec6c70"/>
<rect x="341.30" y="438.60" width="18.60" height="17.15" fill="#df3334"/>
<rect x="341.30" y="455.45" width="18.60" height="17.15" fill="#f4b5b9"/>
<rect x="359.60" y="371.20" width="18.60" height="17.15" fill="#fbeced"/>
<rect x="359.60" y="388.05" width="18.60" height="17.15" fill="#fbeced"/>
<rect x="359.60" y="421.75" width="18.60" height="17.15" fill="#fcf0f0"/>
<rect x="359.60" y="438.60" width="18.60" height="17.15" fill="#fdf6f6"/>
<rect x="377.90" y="371.20" width="18.60" height="17.15" fill="#fbe9ea"/>
<rect x="377.90" y="388.05" width="18.60" height="17.15" fill="#f8dfe0"/>
<rect x="377.90" y="404.90" width="18.60" height="17.15" fill="#fdf5f5"/>
<rect x="377.90" y="421.75" width="18.60" height="17.15" fill="#fcf0f0"/>
<rect x="377.90" y="438.60" width="18.60" height="17.15" fill="#fbe9ea"/>
<rect x="377.90" y="455.45" width="18.60" height="17.15" fill="#fefcfc"/>
<rect x="396.20" y="371.20" width="18.60" height="17.15" fill="#fcf3f3"/>
<rect x="396.20" y="388.05" width="18.60" height="17.15" fill="#fbeced"/>
<rect x="396.20" y="404.90" width="18.60" height="17.15" fill="#fdf8f8"/>
<rect x="396.20" y="421.75" width="18.60" height="17.15" fill="#fcf0f0"/>
<rect x="396.20" y="438.60" width="18.60" height="17.15" fill="#f9e0e2"/>
<rect x="396.20" y="455.45" width="18.60" height="17.15" fill="#fdf8f8"/>
<rect x="414.50" y="421.75" width="18.60" height="17.15" fill="#fbecec"/>
<rect x="414.50" y="438.60" width="18.60" height="17.15" fill="#fbeaea"/>
<rect x="414.50" y="455.45" width="18.60" height="17.15" fill="#fbeced"/>
<rect x="432.80" y="371.20" width="18.60" height="17.15" fill="#fdf6f6"/>
<rect x="432.80" y="404.90" width="18.60" height="17.15" fill="#fdfafa"/>
<rect x="432.80" y="421.75" width="18.60" height="17.15" fill="#fcf0f0"/>
<rect x="432.80" y="455.45" width="18.60" height="17.15" fill="#fceeee"/>
<rect x="451.10" y="404.90" width="18.60" height="17.15" fill="#fbeaea"/>
<rect x="451.10" y="421.75" width="18.60" height="17.15" fill="#fcf0f0"/>
<rect x="451.10" y="455.45" width="18.60" height="17.15" fill="#fbeaea"/>
<rect x="469.40" y="371.20" width="18.60" height="17.15" fill="#f8d6d8"/>
<rect x="469.40" y="388.05" width="18.60" height="17.15" fill="#f8d6d8"/>
<rect x="469.40" y="404.90" width="18.60" height="17.15" fill="#f8d6d8"/>
<rect x="469.40" y="421.75" width="18.60" height="17.15" fill="#f8d6d8"/>
<rect x="469.40" y="438.60" width="18.60" height="17.15" fill="#f7cccf"/>
<rect x="469.40" y="455.45" width="18.60" height="17.15" fill="#f9dfe0"/>
<rect x="487.70" y="421.75" width="18.60" height="17.15" fill="#f4bcc0"/>
<rect x="487.70" y="438.60" width="18.60" height="17.15" fill="#f09ca0"/>
<rect x="487.70" y="455.45" width="18.60" height="17.15" fill="#f7cccf"/>
<rect x="506.00" y="371.20" width="18.60" height="17.15" fill="#fdfafa"/>
<rect x="506.00" y="388.05" width="18.60" height="17.15" fill="#fdfafa"/>
<rect x="506.00" y="421.75" width="18.60" height="17.15" fill="#f7cccf"/>
<rect x="506.00" y="438.60" width="18.60" height="17.15" fill="#f4bcc0"/>
<rect x="506.00" y="455.45" width="18.60" height="17.15" fill="#f9e0e2"/>
<rect x="524.30" y="421.75" width="18.60" height="17.15" fill="#f7cccf"/>
<rect x="524.30" y="438.60" width="18.60" height="17.15" fill="#f7cccf"/>
<rect x="524.30" y="455.45" width="18.60" height="17.15" fill="#f8d6d8"/>
<rect x="542.60" y="371.20" width="18.60" height="17.15" fill="#ec7074"/>
<rect x="542.60" y="388.05" width="18.60" height="17.15" fill="#e03434"/>
<rect x="542.60" y="404.90" width="18.60" height="17.15" fill="#ee7a7e"/>
<rect x="542.60" y="421.75" width="18.60" height="17.15" fill="#ee7a7e"/>
<rect x="542.60" y="438.60" width="18.60" height="17.15" fill="#ea6468"/>
<rect x="542.60" y="455.45" width="18.60" height="17.15" fill="#f2a0a4"/>
<rect x="560.90" y="371.20" width="18.60" height="17.15" fill="#f5b5b8"/>
<rect x="560.90" y="388.05" width="18.60" height="17.15" fill="#f2a2a6"/>
<rect x="560.90" y="404.90" width="18.60" height="17.15" fill="#f5b5b8"/>
<rect x="560.90" y="421.75" width="18.60" height="17.15" fill="#f7c4c7"/>
<rect x="560.90" y="438.60" width="18.60" height="17.15" fill="#f5b5b8"/>
<rect x="560.90" y="455.45" width="18.60" height="17.15" fill="#f9dadd"/>
<rect x="579.20" y="371.20" width="18.60" height="17.15" fill="#f2a0a4"/>
<rect x="579.20" y="388.05" width="18.60" height="17.15" fill="#ef878b"/>
<rect x="579.20" y="404.90" width="18.60" height="17.15" fill="#f2a0a4"/>
<rect x="579.20" y="421.75" width="18.60" height="17.15" fill="#f4acaf"/>
<rect x="579.20" y="438.60" width="18.60" height="17.15" fill="#f4acaf"/>
<rect x="579.20" y="455.45" width="18.60" height="17.15" fill="#f7cccf"/>
<rect x="597.50" y="371.20" width="18.60" height="17.15" fill="#f4aeb2"/>
<rect x="597.50" y="388.05" width="18.60" height="17.15" fill="#eb6a6e"/>
<rect x="597.50" y="404.90" width="18.60" height="17.15" fill="#f5b9bc"/>
<rect x="597.50" y="421.75" width="18.60" height="17.15" fill="#f5b5b8"/>
<rect x="597.50" y="438.60" width="18.60" height="17.15" fill="#f2a2a6"/>
<rect x="597.50" y="455.45" width="18.60" height="17.15" fill="#fbe0e2"/>
<polygon points="277.25,374.52 277.81,376.06 279.44,376.11 278.15,377.12 278.60,378.69 277.25,377.77 275.90,378.69 276.35,377.12 275.06,376.11 276.69,376.06" fill="#222"/>
<polygon points="295.55,374.52 296.11,376.06 297.74,376.11 296.45,377.12 296.90,378.69 295.55,377.77 294.20,378.69 294.65,377.12 293.36,376.11 294.99,376.06" fill="#222"/>
<polygon points="313.85,374.52 314.41,376.06 316.04,376.11 314.75,377.12 315.20,378.69 313.85,377.77 312.50,378.69 312.95,377.12 311.66,376.11 313.29,376.06" fill="#222"/>
<polygon points="332.15,374.52 332.71,376.06 334.34,376.11 333.05,377.12 333.50,378.69 332.15,377.77 330.80,378.69 331.25,377.12 329.96,376.11 331.59,376.06" fill="#222"/>
<polygon points="350.45,374.52 351.01,376.06 352.64,376.11 351.35,377.12 351.80,378.69 350.45,377.77 349.10,378.69 349.55,377.12 348.26,376.11 349.89,376.06" fill="#222"/>
<polygon points="496.85,374.52 497.41,376.06 499.04,376.11 497.75,377.12 498.20,378.69 496.85,377.77 495.50,378.69 495.95,377.12 494.66,376.11 496.29,376.06" fill="#222"/>
<polygon points="515.15,374.52 515.71,376.06 517.34,376.11 516.05,377.12 516.50,378.69 515.15,377.77 513.80,378.69 514.25,377.12 512.96,376.11 514.59,376.06" fill="#222"/>
<polygon points="533.45,374.52 534.01,376.06 535.64,376.11 534.35,377.12 534.80,378.69 533.45,377.77 532.10,378.69 532.55,377.12 531.26,376.11 532.89,376.06" fill="#222"/>
<polygon points="277.25,391.38 277.81,392.91 279.44,392.96 278.15,393.97 278.60,395.54 277.25,394.62 275.90,395.54 276.35,393.97 275.06,392.96 276.69,392.91" fill="#222"/>
<polygon points="295.55,391.38 296.11,392.91 297.74,392.96 296.45,393.97 296.90,395.54 295.55,394.62 294.20,395.54 294.65,393.97 293.36,392.96 294.99,392.91" fill="#222"/>
<polygon points="313.85,391.38 314.41,392.91 316.04,392.96 314.75,393.97 315.20,395.54 313.85,394.62 312.50,395.54 312.95,393.97 311.66,392.96 313.29,392.91" fill="#222"/>
<polygon points="332.15,391.38 332.71,392.91 334.34,392.96 333.05,393.97 333.50,395.54 332.15,394.62 330.80,395.54 331.25,393.97 329.96,392.96 331.59,392.91" fill="#222"/>
<polygon points="350.45,391.38 351.01,392.91 352.64,392.96 351.35,393.97 351.80,395.54 350.45,394.62 349.10,395.54 349.55,393.97 348.26,392.96 349.89,392.91" fill="#222"/>
<polygon points="496.85,391.38 497.41,392.91 499.04,392.96 497.75,393.97 498.20,395.54 496.85,394.62 495.50,395.54 495.95,393.97 494.66,392.96 496.29,392.91" fill="#222"/>
<polygon points="515.15,391.38 515.71,392.91 517.34,392.96 516.05,393.97 516.50,395.54 515.15,394.62 513.80,395.54 514.25,393.97 512.96,392.96 514.59,392.91" fill="#222"/>
<line x1="277.25" y1="472.30" x2="277.25" y2="476.90" stroke="#555" stroke-width="0.7"/>
<text x="280.45" y="480.20" font-size="9" fill="#333" text-anchor="end" transform="rotate(-90.00 280.45 480.20)" stroke="#333" stroke-width="0.16">Alanine</text>
<line x1="295.55" y1="472.30" x2="295.55" y2="476.90" stroke="#555" stroke-width="0.7"/>
<text x="298.75" y="480.20" font-size="9" fill="#333" text-anchor="end" transform="rotate(-90.00 298.75 480.20)" stroke="#333" stroke-width="0.16">Leucine</text>
<line x1="313.85" y1="472.30" x2="313.85" y2="476.90" stroke="#555" stroke-width="0.7"/>
<text x="317.05" y="480.20" font-size="9" fill="#333" text-anchor="end" transform="rotate(-90.00 317.05 480.20)" stroke="#333" stroke-width="0.16">Phenylalanine</text>
<line x1="332.15" y1="472.30" x2="332.15" y2="476.90" stroke="#555" stroke-width="0.7"/>
<text x="335.35" y="480.20" font-size="9" fill="#333" text-anchor="end" transform="rotate(-90.00 335.35 480.20)" stroke="#333" stroke-width="0.16">Proline</text>
<line x1="350.45" y1="472.30" x2="350.45" y2="476.90" stroke="#555" stroke-width="0.7"/>
<text x="353.65" y="480.20" font-size="9" fill="#333" text-anchor="end" transform="rotate(-90.00 353.65 480.20)" stroke="#333" stroke-width="0.16">Valine</text>
<line x1="368.75" y1="472.30" x2="368.75" y2="476.90" stroke="#555" stroke-width="0.7"/>
<text x="371.95" y="480.20" font-size="9" fill="#333" text-anchor="end" transform="rotate(-90.00 371.95 480.20)" stroke="#333" stroke-width="0.16">Glutamine</text>
<line x1="387.05" y1="472.30" x2="387.05" y2="476.90" stroke="#555" stroke-width="0.7"/>
<text x="390.25" y="480.20" font-size="9" fill="#333" text-anchor="end" transform="rotate(-90.00 390.25 480.20)" stroke="#333" stroke-width="0.16">Histidine</text>
<line x1="405.35" y1="472.30" x2="405.35" y2="476.90" stroke="#555" stroke-width="0.7"/>
<text x="408.55" y="480.20" font-size="9" fill="#333" text-anchor="end" transform="rotate(-90.00 408.55 480.20)" stroke="#333" stroke-width="0.16">Tyrosine</text>
<line x1="423.65" y1="472.30" x2="423.65" y2="476.90" stroke="#555" stroke-width="0.7"/>
<text x="426.85" y="480.20" font-size="9" fill="#333" text-anchor="end" transform="rotate(-90.00 426.85 480.20)" stroke="#333" stroke-width="0.16">Threonine</text>
<line x1="441.95" y1="472.30" x2="441.95" y2="476.90" stroke="#555" stroke-width="0.7"/>
<text x="445.15" y="480.20" font-size="9" fill="#333" text-anchor="end" transform="rotate(-90.00 445.15 480.20)" stroke="#333" stroke-width="0.16">Asparagine</text>
<line x1="460.25" y1="472.30" x2="460.25" y2="476.90" stroke="#555" stroke-width="0.7"/>
<text x="463.45" y="480.20" font-size="9" fill="#333" text-anchor="end" transform="rotate(-90.00 463.45 480.20)" stroke="#333" stroke-width="0.16">Aspartic acid</text>
<line x1="478.55" y1="472.30" x2="478.55" y2="476.90" stroke="#555" stroke-width="0.7"/>
<text x="481.75" y="480.20" font-size="9" fill="#333" text-anchor="end" transform="rotate(-90.00 481.75 480.20)" stroke="#333" stroke-width="0.16">Tryptophan</text>
<line x1="496.85" y1="472.30" x2="496.85" y2="476.90" stroke="#555" stroke-width="0.7"/>
<text x="500.05" y="480.20" font-size="9" fill="#333" text-anchor="end" transform="rotate(-90.00 500.05 480.20)" stroke="#333" stroke-width="0.16">Isoleucine</text>
<line x1="515.15" y1="472.30" x2="515.15" y2="476.90" stroke="#555" stroke-width="0.7"/>
<text x="518.35" y="480.20" font-size="9" fill="#333" text-anchor="end" transform="rotate(-90.00 518.35 480.20)" stroke="#333" stroke-width="0.16">Methionine</text>
<line x1="533.45" y1="472.30" x2="533.45" y2="476.90" stroke="#555" stroke-width="0.7"/>
<text x="536.65" y="480.20" font-size="9" fill="#333" text-anchor="end" transform="rotate(-90.00 536.65 480.20)" stroke="#333" stroke-width="0.16">Serine</text>
<line x1="551.75" y1="472.30" x2="551.75" y2="476.90" stroke="#555" stroke-width="0.7"/>
<text x="554.95" y="480.20" font-size="9" fill="#333" text-anchor="end" transform="rotate(-90.00 554.95 480.20)" stroke="#333" stroke-width="0.16">Glycine</text>
<line x1="570.05" y1="472.30" x2="570.05" y2="476.90" stroke="#555" stroke-width="0.7"/>
<text x="573.25" y="480.20" font-size="9" fill="#333" text-anchor="end" transform="rotate(-90.00 573.25 480.20)" stroke="#333" stroke-width="0.16">Glutamic acid</text>
<line x1="588.35" y1="472.30" x2="588.35" y2="476.90" stroke="#555" stroke-width="0.7"/>
<text x="591.55" y="480.20" font-size="9" fill="#333" text-anchor="end" transform="rotate(-90.00 591.55 480.20)" stroke="#333" stroke-width="0.16">Arginine</text>
<line x1="606.65" y1="472.30" x2="606.65" y2="476.90" stroke="#555" stroke-width="0.7"/>
<text x="609.85" y="480.20" font-size="9" fill="#333" text-anchor="end" transform="rotate(-90.00 609.85 480.20)" stroke="#333" stroke-width="0.16">Lysine</text>
<line x1="615.80" y1="379.62" x2="619.80" y2="379.62" stroke="#555" stroke-width="0.7"/>
<text x="624.00" y="382.82" font-size="9" fill="#333" stroke="#333" stroke-width="0.16"><tspan fill="#2f9a52">Pm</tspan><tspan fill="#333">+</tspan><tspan fill="#2f7bbd">Cd</tspan></text>
<line x1="615.80" y1="396.48" x2="619.80" y2="396.48" stroke="#555" stroke-width="0.7"/>
<text x="624.00" y="399.68" font-size="9" fill="#333" stroke="#333" stroke-width="0.16"><tspan fill="#2f9a52">Pv</tspan><tspan fill="#333">+</tspan><tspan fill="#2f7bbd">Cd</tspan></text>
<line x1="615.80" y1="413.32" x2="619.80" y2="413.32" stroke="#555" stroke-width="0.7"/>
<text x="624.00" y="416.52" font-size="9" fill="#333" stroke="#333" stroke-width="0.16"><tspan fill="#2f7bbd">Cd</tspan></text>
<line x1="615.80" y1="430.18" x2="619.80" y2="430.18" stroke="#555" stroke-width="0.7"/>
<text x="624.00" y="433.38" font-size="9" fill="#333" stroke="#333" stroke-width="0.16"><tspan fill="#2f9a52">Pm</tspan></text>
<line x1="615.80" y1="447.03" x2="619.80" y2="447.03" stroke="#555" stroke-width="0.7"/>
<text x="624.00" y="450.23" font-size="9" fill="#333" stroke="#333" stroke-width="0.16"><tspan fill="#2f9a52">Pv</tspan></text>
<line x1="615.80" y1="463.88" x2="619.80" y2="463.88" stroke="#555" stroke-width="0.7"/>
<text x="624.00" y="467.07" font-size="9" fill="#333" stroke="#333" stroke-width="0.16"><tspan fill="#333">mGAM</tspan></text>
<defs><linearGradient id="cbd" x1="0" y1="0" x2="0" y2="1"><stop offset="0" stop-color="#dd2a2a"/><stop offset="0.5" stop-color="#ee8a8e"/><stop offset="1" stop-color="#ffffff"/></linearGradient></defs>
<rect x="642.2" y="478" width="9.1" height="107.1" fill="url(#cbd)"/>
<line x1="651.3" y1="495.50" x2="653.5" y2="495.50" stroke="#555" stroke-width="0.7"/>
<text x="656.50" y="498.50" font-size="8" fill="#333" stroke="#333" stroke-width="0.16">10</text>
<line x1="651.3" y1="540.30" x2="653.5" y2="540.30" stroke="#555" stroke-width="0.7"/>
<text x="656.50" y="543.30" font-size="8" fill="#333" stroke="#333" stroke-width="0.16">5</text>
<text x="637.40" y="531.20" font-size="9" fill="#333" text-anchor="middle" transform="rotate(-90.00 637.40 531.20)" stroke="#333" stroke-width="0.16">Concentration (mM)</text></svg>
</body></html>
